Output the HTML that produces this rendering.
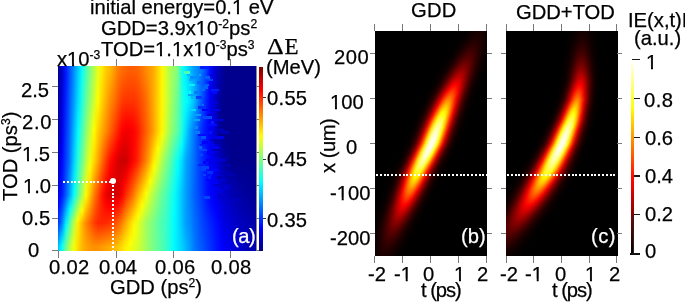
<!DOCTYPE html>
<html><head><meta charset="utf-8"><style>
html,body{margin:0;padding:0;background:#fff;width:685px;height:304px;overflow:hidden;}
#r{position:relative;width:685px;height:304px;overflow:hidden;background:#fff;font-family:'Liberation Sans',sans-serif;}
#r>div[id]{will-change:transform;-webkit-text-stroke:0.25px currentColor}
.p i{position:absolute;left:0;width:113px;height:1px}
.o{display:inline-block;clip-path:polygon(0 0,100% 0,100% 0.735em,0.345em 0.735em,0.345em 100%,0.247em 100%,0.247em 0.735em,0 0.735em)}
</style></head><body><div id="r"><div style="position:absolute;left:58px;top:66px;width:198px;height:185px;overflow:hidden"><div style="position:absolute;left:0;top:0px;width:198px;height:2px;background:linear-gradient(90deg,#00008c 0px,#0000c7 4px,#0019ff 8px,#0055ff 12px,#008fff 16px,#00c9ff 20px,#06fff9 24px,#48ffb7 28px,#7eff81 32px,#b3ff4c 36px,#e6ff19 40px,#ffec00 44px,#ffca00 48px,#ffb900 52px,#ff9c00 56px,#ff7c00 60px,#ff6c00 64px,#ff6200 68px,#ff5b00 72px,#ff5e00 76px,#ff6400 80px,#ff7400 84px,#ff8800 88px,#ff9900 92px,#ffaf00 96px,#ffd300 100px,#fff800 104px,#d9ff26 108px,#acff53 112px,#97ff68 116px,#78ff87 120px,#13ffec 124px,#00ecff 128px,#00c4ff 132px,#009dff 136px,#0087ff 140px,#006eff 144px,#0047ff 148px,#000aff 152px,#0000d9 156px,#0000b9 160px,#0000a1 164px,#00008c 168px,#00008c 172px,#00008c 176px,#00008c 180px,#00008c 184px,#00008c 188px,#00008c 192px,#00008c 196px,#00008c 198px)"></div><div style="position:absolute;left:0;top:2px;width:198px;height:2px;background:linear-gradient(90deg,#00008c 0px,#0000c7 4px,#0019ff 8px,#0055ff 12px,#008fff 16px,#00c9ff 20px,#06fff9 24px,#48ffb7 28px,#7eff81 32px,#b3ff4c 36px,#e6ff19 40px,#ffec00 44px,#ffca00 48px,#ffb900 52px,#ff9c00 56px,#ff7c00 60px,#ff6c00 64px,#ff6200 68px,#ff5b00 72px,#ff5e00 76px,#ff6400 80px,#ff7400 84px,#ff8800 88px,#ff9900 92px,#ffaf00 96px,#ffd300 100px,#fff800 104px,#d9ff26 108px,#acff53 112px,#97ff68 116px,#78ff87 120px,#13ffec 124px,#00ecff 128px,#00c4ff 132px,#009dff 136px,#0087ff 140px,#006eff 144px,#0047ff 148px,#000aff 152px,#0000d9 156px,#0000b9 160px,#0000a1 164px,#00008c 168px,#00008c 172px,#00008c 176px,#00008c 180px,#00008c 184px,#00008c 188px,#00008c 192px,#00008c 196px,#00008c 198px)"></div><div style="position:absolute;left:0;top:4px;width:198px;height:2px;background:linear-gradient(90deg,#00008c 0px,#0000c7 4px,#0019ff 8px,#0055ff 12px,#008fff 16px,#00c9ff 20px,#06fff9 24px,#48ffb7 28px,#7eff81 32px,#b3ff4c 36px,#e6ff19 40px,#ffec00 44px,#ffca00 48px,#ffb900 52px,#ff9c00 56px,#ff7c00 60px,#ff6c00 64px,#ff6200 68px,#ff5b00 72px,#ff5e00 76px,#ff6400 80px,#ff7400 84px,#ff8800 88px,#ff9900 92px,#ffaf00 96px,#ffd300 100px,#fff800 104px,#d9ff26 108px,#acff53 112px,#97ff68 116px,#78ff87 120px,#13ffec 124px,#00ecff 128px,#00c4ff 132px,#009dff 136px,#0087ff 140px,#006eff 144px,#0047ff 148px,#000aff 152px,#0000d9 156px,#0000b9 160px,#0000a1 164px,#00008c 168px,#00008c 172px,#00008c 176px,#00008c 180px,#00008c 184px,#00008c 188px,#00008c 192px,#00008c 196px,#00008c 198px)"></div><div style="position:absolute;left:0;top:6px;width:198px;height:2px;background:linear-gradient(90deg,#00008d 0px,#0000c9 4px,#0019ff 8px,#0056ff 12px,#0090ff 16px,#00cbff 20px,#08fff7 24px,#4affb5 28px,#7fff80 32px,#b4ff4b 36px,#e8ff17 40px,#ffea00 44px,#ffc800 48px,#ffb600 52px,#ff9900 56px,#ff7a00 60px,#ff6900 64px,#ff5f00 68px,#ff5800 72px,#ff5b00 76px,#ff6100 80px,#ff7200 84px,#ff8600 88px,#ff9800 92px,#ffaf00 96px,#ffd300 100px,#fff800 104px,#d9ff26 108px,#acff53 112px,#96ff69 116px,#77ff88 120px,#14ffeb 124px,#00eeff 128px,#00c6ff 132px,#00a0ff 136px,#0087ff 140px,#006cff 144px,#0045ff 148px,#0009ff 152px,#0000d8 156px,#0000b8 160px,#0000a0 164px,#00008c 168px,#00008c 172px,#00008c 176px,#00008c 180px,#00008c 184px,#00008c 188px,#00008c 192px,#00008c 196px,#00008c 198px)"></div><div style="position:absolute;left:0;top:8px;width:198px;height:2px;background:linear-gradient(90deg,#00008e 0px,#0000cb 4px,#001aff 8px,#0057ff 12px,#0091ff 16px,#00ccff 20px,#09fff6 24px,#4bffb4 28px,#81ff7e 32px,#b6ff49 36px,#eaff15 40px,#ffe800 44px,#ffc700 48px,#ffb300 52px,#ff9600 56px,#ff7700 60px,#ff6600 64px,#ff5c00 68px,#ff5600 72px,#ff5800 76px,#ff5f00 80px,#ff7000 84px,#ff8400 88px,#ff9700 92px,#ffaf00 96px,#ffd300 100px,#fff800 104px,#d9ff26 108px,#adff52 112px,#95ff6a 116px,#75ff8a 120px,#15ffea 124px,#00efff 128px,#00c8ff 132px,#00a2ff 136px,#0087ff 140px,#006aff 144px,#0042ff 148px,#0008ff 152px,#0000d8 156px,#0000b7 160px,#00009f 164px,#00008c 168px,#00008c 172px,#00008c 176px,#00008c 180px,#00008c 184px,#00008c 188px,#00008c 192px,#00008c 196px,#00008c 198px)"></div><div style="position:absolute;left:0;top:10px;width:198px;height:2px;background:linear-gradient(90deg,#00008f 0px,#0000cc 4px,#001bff 8px,#0058ff 12px,#0092ff 16px,#00cdff 20px,#0bfff4 24px,#4dffb2 28px,#83ff7c 32px,#b8ff47 36px,#ecff13 40px,#ffe700 44px,#ffc500 48px,#ffb000 52px,#ff9400 56px,#ff7500 60px,#ff6200 64px,#ff5800 68px,#ff5300 72px,#ff5500 76px,#ff5c00 80px,#ff6d00 84px,#ff8200 88px,#ff9600 92px,#ffaf00 96px,#ffd300 100px,#fff800 104px,#d9ff26 108px,#adff52 112px,#94ff6b 116px,#74ff8b 120px,#16ffe9 124px,#00f0ff 128px,#00cbff 132px,#00a4ff 136px,#0088ff 140px,#0068ff 144px,#0040ff 148px,#0007ff 152px,#0000d7 156px,#0000b6 160px,#00009e 164px,#00008c 168px,#00008c 172px,#00008c 176px,#00008c 180px,#00008c 184px,#00008c 188px,#00008c 192px,#00008c 196px,#00008c 198px)"></div><div style="position:absolute;left:0;top:12px;width:198px;height:2px;background:linear-gradient(90deg,#000090 0px,#0000ce 4px,#001cff 8px,#0058ff 12px,#0093ff 16px,#00cfff 20px,#0cfff3 24px,#4fffb0 28px,#85ff7a 32px,#b9ff46 36px,#edff12 40px,#ffe500 44px,#ffc300 48px,#ffad00 52px,#ff9100 56px,#ff7200 60px,#ff5f00 64px,#ff5500 68px,#ff5000 72px,#ff5200 76px,#ff5a00 80px,#ff6b00 84px,#ff8000 88px,#ff9600 92px,#ffaf00 96px,#ffd300 100px,#fff800 104px,#d9ff26 108px,#adff52 112px,#93ff6c 116px,#73ff8c 120px,#17ffe8 124px,#00f1ff 128px,#00cdff 132px,#00a7ff 136px,#0088ff 140px,#0067ff 144px,#003dff 148px,#0005ff 152px,#0000d7 156px,#0000b5 160px,#00009d 164px,#00008c 168px,#00008c 172px,#00008c 176px,#00008c 180px,#00008c 184px,#00008c 188px,#00008c 192px,#00008c 196px,#00008c 198px)"></div><div style="position:absolute;left:0;top:14px;width:198px;height:2px;background:linear-gradient(90deg,#000090 0px,#0000d0 4px,#001dff 8px,#0059ff 12px,#0093ff 16px,#00d0ff 20px,#0efff1 24px,#50ffaf 28px,#86ff79 32px,#bbff44 36px,#efff10 40px,#ffe300 44px,#ffc100 48px,#ffaa00 52px,#ff8f00 56px,#ff6f00 60px,#ff5c00 64px,#ff5200 68px,#ff4e00 72px,#ff4f00 76px,#ff5700 80px,#ff6900 84px,#ff7e00 88px,#ff9500 92px,#ffaf00 96px,#ffd300 100px,#fff800 104px,#d9ff26 108px,#adff52 112px,#92ff6d 116px,#72ff8d 120px,#18ffe7 124px,#00f3ff 128px,#00cfff 132px,#00a9ff 136px,#0088ff 140px,#0065ff 144px,#003bff 148px,#0004ff 152px,#0000d6 156px,#0000b4 160px,#00009c 164px,#00008c 168px,#00008c 172px,#00008c 176px,#00008c 180px,#00008c 184px,#00008c 188px,#00008c 192px,#00008c 196px,#00008c 198px)"></div><div style="position:absolute;left:0;top:16px;width:198px;height:2px;background:linear-gradient(90deg,#000091 0px,#0000d1 4px,#001eff 8px,#005aff 12px,#0094ff 16px,#00d1ff 20px,#0ffff0 24px,#52ffad 28px,#88ff77 32px,#bdff42 36px,#f1ff0e 40px,#ffe100 44px,#ffbf00 48px,#ffa700 52px,#ff8c00 56px,#ff6d00 60px,#ff5900 64px,#ff4f00 68px,#ff4b00 72px,#ff4d00 76px,#ff5500 80px,#ff6700 84px,#ff7c00 88px,#ff9400 92px,#ffaf00 96px,#ffd300 100px,#fff800 104px,#d9ff26 108px,#aeff51 112px,#91ff6e 116px,#71ff8e 120px,#19ffe6 124px,#00f4ff 128px,#00d1ff 132px,#00abff 136px,#0088ff 140px,#0063ff 144px,#0038ff 148px,#0003ff 152px,#0000d6 156px,#0000b3 160px,#00009b 164px,#00008c 168px,#00008c 172px,#00008c 176px,#00008c 180px,#00008c 184px,#00008c 188px,#00008c 192px,#00008c 196px,#00008c 198px)"></div><div style="position:absolute;left:0;top:18px;width:198px;height:2px;background:linear-gradient(90deg,#000092 0px,#0000d3 4px,#001fff 8px,#005bff 12px,#0095ff 16px,#00d3ff 20px,#11ffee 24px,#54ffab 28px,#8aff75 32px,#beff41 36px,#f2ff0d 40px,#ffe000 44px,#ffbe00 48px,#ffa400 52px,#ff8900 56px,#ff6a00 60px,#ff5600 64px,#ff4c00 68px,#ff4800 72px,#ff4a00 76px,#ff5200 80px,#ff6500 84px,#ff7a00 88px,#ff9300 92px,#ffaf00 96px,#ffd300 100px,#fff800 104px,#d9ff26 108px,#aeff51 112px,#90ff6f 116px,#6fff90 120px,#1affe5 124px,#00f5ff 128px,#00d4ff 132px,#00aeff 136px,#0088ff 140px,#0061ff 144px,#0036ff 148px,#0002ff 152px,#0000d5 156px,#0000b2 160px,#00009a 164px,#00008c 168px,#00008c 172px,#00008c 176px,#00008c 180px,#00008c 184px,#00008c 188px,#00008c 192px,#00008c 196px,#00008c 198px)"></div><div style="position:absolute;left:0;top:20px;width:198px;height:2px;background:linear-gradient(90deg,#000093 0px,#0000d5 4px,#001fff 8px,#005cff 12px,#0096ff 16px,#00d4ff 20px,#13ffec 24px,#56ffa9 28px,#8bff74 32px,#c0ff3f 36px,#f4ff0b 40px,#ffde00 44px,#ffbc00 48px,#ffa100 52px,#ff8700 56px,#ff6800 60px,#ff5300 64px,#ff4900 68px,#ff4600 72px,#ff4700 76px,#ff5000 80px,#ff6300 84px,#ff7800 88px,#ff9200 92px,#ffaf00 96px,#ffd300 100px,#fff800 104px,#d9ff26 108px,#aeff51 112px,#8fff70 116px,#6eff91 120px,#1cffe3 124px,#00f7ff 128px,#00d6ff 132px,#00b0ff 136px,#0089ff 140px,#0060ff 144px,#0033ff 148px,#0000ff 152px,#0000d5 156px,#0000b1 160px,#000099 164px,#00008c 168px,#00008c 172px,#00008c 176px,#00008c 180px,#00008c 184px,#00008c 188px,#00008c 192px,#00008c 196px,#00008c 198px)"></div><div style="position:absolute;left:0;top:22px;width:198px;height:2px;background:linear-gradient(90deg,#000094 0px,#0000d6 4px,#0020ff 8px,#005dff 12px,#0097ff 16px,#00d5ff 20px,#14ffeb 24px,#57ffa8 28px,#8dff72 32px,#c2ff3d 36px,#f6ff09 40px,#ffdc00 44px,#ffba00 48px,#ff9e00 52px,#ff8400 56px,#ff6500 60px,#ff4f00 64px,#ff4600 68px,#ff4300 72px,#ff4400 76px,#ff4d00 80px,#ff6000 84px,#ff7600 88px,#ff9100 92px,#ffaf00 96px,#ffd300 100px,#fff800 104px,#d9ff26 108px,#aeff51 112px,#8eff71 116px,#6dff92 120px,#1dffe2 124px,#00f8ff 128px,#00d8ff 132px,#00b2ff 136px,#0089ff 140px,#005eff 144px,#0031ff 148px,#0000fe 152px,#0000d4 156px,#0000b0 160px,#000098 164px,#00008c 168px,#00008c 172px,#00008c 176px,#00008c 180px,#00008c 184px,#00008c 188px,#00008c 192px,#00008c 196px,#00008c 198px)"></div><div style="position:absolute;left:0;top:24px;width:198px;height:2px;background:linear-gradient(90deg,#000095 0px,#0000d8 4px,#0021ff 8px,#005eff 12px,#0098ff 16px,#00d7ff 20px,#16ffe9 24px,#59ffa6 28px,#8fff70 32px,#c3ff3c 36px,#f7ff08 40px,#ffdb00 44px,#ffb800 48px,#ff9b00 52px,#ff8100 56px,#ff6300 60px,#ff4c00 64px,#ff4300 68px,#ff4000 72px,#ff4100 76px,#ff4b00 80px,#ff5e00 84px,#ff7400 88px,#ff9000 92px,#ffaf00 96px,#ffd300 100px,#fff800 104px,#d9ff26 108px,#aeff51 112px,#8dff72 116px,#6cff93 120px,#1effe1 124px,#00f9ff 128px,#00dbff 132px,#00b4ff 136px,#0089ff 140px,#005cff 144px,#002eff 148px,#0000fd 152px,#0000d4 156px,#0000af 160px,#000097 164px,#00008c 168px,#00008c 172px,#00008c 176px,#00008c 180px,#00008c 184px,#00008c 188px,#00008c 192px,#00008c 196px,#00008c 198px)"></div><div style="position:absolute;left:0;top:26px;width:198px;height:2px;background:linear-gradient(90deg,#000096 0px,#0000d9 4px,#0022ff 8px,#005eff 12px,#0099ff 16px,#00d8ff 20px,#17ffe8 24px,#5bffa4 28px,#90ff6f 32px,#c5ff3a 36px,#f9ff06 40px,#ffd900 44px,#ffb600 48px,#ff9800 52px,#ff7f00 56px,#ff6000 60px,#ff4900 64px,#ff3f00 68px,#ff3e00 72px,#ff3e00 76px,#ff4800 80px,#ff5c00 84px,#ff7200 88px,#ff9000 92px,#ffaf00 96px,#ffd300 100px,#fff800 104px,#d9ff26 108px,#afff50 112px,#8cff73 116px,#6bff94 120px,#1fffe0 124px,#00fbff 128px,#00ddff 132px,#00b7ff 136px,#0089ff 140px,#005aff 144px,#002cff 148px,#0000fc 152px,#0000d4 156px,#0000ae 160px,#000096 164px,#00008c 168px,#00008c 172px,#00008c 176px,#00008c 180px,#00008c 184px,#00008c 188px,#00008c 192px,#00008c 196px,#00008c 198px)"></div><div style="position:absolute;left:0;top:28px;width:198px;height:2px;background:linear-gradient(90deg,#000096 0px,#0000db 4px,#0023ff 8px,#005fff 12px,#009aff 16px,#00d9ff 20px,#19ffe6 24px,#5cffa3 28px,#92ff6d 32px,#c7ff38 36px,#fbff04 40px,#ffd700 44px,#ffb400 48px,#ff9500 52px,#ff7c00 56px,#ff5e00 60px,#ff4600 64px,#ff3c00 68px,#ff3b00 72px,#ff3c00 76px,#ff4600 80px,#ff5a00 84px,#ff7000 88px,#ff8f00 92px,#ffaf00 96px,#ffd300 100px,#fff800 104px,#d9ff26 108px,#afff50 112px,#8bff74 116px,#6aff95 120px,#20ffdf 124px,#00fcff 128px,#00dfff 132px,#00b9ff 136px,#0089ff 140px,#0059ff 144px,#0029ff 148px,#0000fa 152px,#0000d3 156px,#0000ad 160px,#000095 164px,#00008c 168px,#00008c 172px,#00008c 176px,#00008c 180px,#00008c 184px,#00008c 188px,#00008c 192px,#00008c 196px,#00008c 198px)"></div><div style="position:absolute;left:0;top:30px;width:198px;height:2px;background:linear-gradient(90deg,#000097 0px,#0000dd 4px,#0024ff 8px,#0060ff 12px,#009bff 16px,#00dbff 20px,#1affe5 24px,#5effa1 28px,#94ff6b 32px,#c9ff36 36px,#fdff02 40px,#ffd600 44px,#ffb300 48px,#ff9200 52px,#ff7900 56px,#ff5b00 60px,#ff4300 64px,#ff3900 68px,#ff3800 72px,#ff3900 76px,#ff4300 80px,#ff5800 84px,#ff6e00 88px,#ff8e00 92px,#ffaf00 96px,#ffd300 100px,#fff800 104px,#d9ff26 108px,#afff50 112px,#8aff75 116px,#68ff97 120px,#21ffde 124px,#00fdff 128px,#00e2ff 132px,#00bbff 136px,#0089ff 140px,#0057ff 144px,#0027ff 148px,#0000f9 152px,#0000d3 156px,#0000ac 160px,#000094 164px,#00008c 168px,#00008c 172px,#00008c 176px,#00008c 180px,#00008c 184px,#00008c 188px,#00008c 192px,#00008c 196px,#00008c 198px)"></div><div style="position:absolute;left:0;top:32px;width:198px;height:2px;background:linear-gradient(90deg,#000098 0px,#0000de 4px,#0025ff 8px,#0061ff 12px,#009cff 16px,#00dcff 20px,#1cffe3 24px,#60ff9f 28px,#96ff69 32px,#caff35 36px,#feff01 40px,#ffd400 44px,#ffb100 48px,#ff8f00 52px,#ff7700 56px,#ff5900 60px,#ff4000 64px,#ff3600 68px,#ff3600 72px,#ff3600 76px,#ff4100 80px,#ff5600 84px,#ff6c00 88px,#ff8d00 92px,#ffaf00 96px,#ffd300 100px,#fff800 104px,#d9ff26 108px,#afff50 112px,#89ff76 116px,#67ff98 120px,#22ffdd 124px,#00feff 128px,#00e4ff 132px,#00beff 136px,#008aff 140px,#0055ff 144px,#0024ff 148px,#0000f8 152px,#0000d2 156px,#0000ab 160px,#000094 164px,#00008c 168px,#00008c 172px,#00008c 176px,#00008c 180px,#00008c 184px,#00008c 188px,#00008c 192px,#00008c 196px,#00008c 198px)"></div><div style="position:absolute;left:0;top:34px;width:198px;height:2px;background:linear-gradient(90deg,#000099 0px,#0000e0 4px,#0025ff 8px,#0062ff 12px,#009dff 16px,#00ddff 20px,#1dffe2 24px,#61ff9e 28px,#97ff68 32px,#ccff33 36px,#fffe00 40px,#ffd200 44px,#ffaf00 48px,#ff8c00 52px,#ff7400 56px,#ff5600 60px,#ff3c00 64px,#ff3300 68px,#ff3300 72px,#ff3300 76px,#ff3e00 80px,#ff5300 84px,#ff6a00 88px,#ff8c00 92px,#ffaf00 96px,#ffd300 100px,#fff800 104px,#d9ff26 108px,#b0ff4f 112px,#88ff77 116px,#66ff99 120px,#23ffdc 124px,#01fffe 128px,#00e6ff 132px,#00c0ff 136px,#008aff 140px,#0053ff 144px,#0022ff 148px,#0000f7 152px,#0000d2 156px,#0000aa 160px,#000093 164px,#00008c 168px,#00008c 172px,#00008c 176px,#00008c 180px,#00008c 184px,#00008c 188px,#00008c 192px,#00008c 196px,#00008c 198px)"></div><div style="position:absolute;left:0;top:36px;width:198px;height:2px;background:linear-gradient(90deg,#000099 0px,#0000e1 4px,#0026ff 8px,#0063ff 12px,#009eff 16px,#00dfff 20px,#20ffdf 24px,#64ff9b 28px,#9aff65 32px,#cfff30 36px,#fffb00 40px,#ffd000 44px,#ffac00 48px,#ff8a00 52px,#ff7100 56px,#ff5200 60px,#ff3800 64px,#ff2f00 68px,#ff2f00 72px,#ff3000 76px,#ff3c00 80px,#ff5200 84px,#ff6900 88px,#ff8b00 92px,#ffae00 96px,#ffd300 100px,#fff800 104px,#d8ff27 108px,#afff50 112px,#87ff78 116px,#65ff9a 120px,#23ffdc 124px,#00fdff 128px,#00e2ff 132px,#00bbff 136px,#0086ff 140px,#0051ff 144px,#0021ff 148px,#0000f7 152px,#0000d3 156px,#0000aa 160px,#000092 164px,#00008c 168px,#00008c 172px,#00008c 176px,#00008c 180px,#00008c 184px,#00008c 188px,#00008c 192px,#00008c 196px,#00008c 198px)"></div><div style="position:absolute;left:0;top:38px;width:198px;height:2px;background:linear-gradient(90deg,#000099 0px,#0000e2 4px,#0027ff 8px,#0063ff 12px,#00a0ff 16px,#00e1ff 20px,#23ffdc 24px,#67ff98 28px,#9dff62 32px,#d3ff2c 36px,#fff800 40px,#ffcd00 44px,#ffaa00 48px,#ff8700 52px,#ff6d00 56px,#ff4f00 60px,#ff3400 64px,#ff2b00 68px,#ff2b00 72px,#ff2c00 76px,#ff3a00 80px,#ff5000 84px,#ff6900 88px,#ff8b00 92px,#ffae00 96px,#ffd300 100px,#fff800 104px,#d8ff27 108px,#adff52 112px,#86ff79 116px,#64ff9b 120px,#23ffdc 124px,#00fbff 128px,#00ddff 132px,#00b6ff 136px,#0082ff 140px,#004eff 144px,#001fff 148px,#0000f7 152px,#0000d4 156px,#0000aa 160px,#000092 164px,#00008c 168px,#00008c 172px,#00008c 176px,#00008c 180px,#00008c 184px,#00008c 188px,#00008c 192px,#00008c 196px,#00008c 198px)"></div><div style="position:absolute;left:0;top:40px;width:198px;height:2px;background:linear-gradient(90deg,#000099 0px,#0000e2 4px,#0028ff 8px,#0064ff 12px,#00a2ff 16px,#00e3ff 20px,#25ffda 24px,#69ff96 28px,#a0ff5f 32px,#d6ff29 36px,#fff500 40px,#ffcb00 44px,#ffa700 48px,#ff8500 52px,#ff6a00 56px,#ff4b00 60px,#ff3000 64px,#ff2600 68px,#ff2700 72px,#ff2900 76px,#ff3700 80px,#ff4f00 84px,#ff6800 88px,#ff8a00 92px,#ffad00 96px,#ffd300 100px,#fff800 104px,#d7ff28 108px,#acff53 112px,#85ff7a 116px,#63ff9c 120px,#22ffdd 124px,#00f8ff 128px,#00d9ff 132px,#00b2ff 136px,#007eff 140px,#004bff 144px,#001eff 148px,#0000f7 152px,#0000d5 156px,#0000aa 160px,#000091 164px,#00008c 168px,#00008c 172px,#00008c 176px,#00008c 180px,#00008c 184px,#00008c 188px,#00008c 192px,#00008c 196px,#00008c 198px)"></div><div style="position:absolute;left:0;top:42px;width:198px;height:2px;background:linear-gradient(90deg,#000099 0px,#0000e3 4px,#0029ff 8px,#0065ff 12px,#00a3ff 16px,#00e5ff 20px,#28ffd7 24px,#6cff93 28px,#a4ff5b 32px,#daff25 36px,#fff200 40px,#ffc800 44px,#ffa500 48px,#ff8200 52px,#ff6700 56px,#ff4700 60px,#ff2c00 64px,#ff2200 68px,#ff2300 72px,#ff2600 76px,#ff3500 80px,#ff4d00 84px,#ff6700 88px,#ff8900 92px,#ffad00 96px,#ffd300 100px,#fff800 104px,#d7ff28 108px,#abff54 112px,#85ff7a 116px,#62ff9d 120px,#22ffdd 124px,#00f5ff 128px,#00d4ff 132px,#00adff 136px,#007aff 140px,#0049ff 144px,#001dff 148px,#0000f7 152px,#0000d6 156px,#0000aa 160px,#000091 164px,#00008c 168px,#00008c 172px,#00008c 176px,#00008c 180px,#00008c 184px,#00008c 188px,#00008c 192px,#00008c 196px,#00008c 198px)"></div><div style="position:absolute;left:0;top:44px;width:198px;height:2px;background:linear-gradient(90deg,#000099 0px,#0000e4 4px,#002aff 8px,#0066ff 12px,#00a5ff 16px,#00e8ff 20px,#2affd5 24px,#6eff91 28px,#a7ff58 32px,#ddff22 36px,#ffef00 40px,#ffc500 44px,#ffa200 48px,#ff8000 52px,#ff6400 56px,#ff4400 60px,#ff2800 64px,#ff1e00 68px,#ff1f00 72px,#ff2300 76px,#ff3200 80px,#ff4b00 84px,#ff6600 88px,#ff8800 92px,#ffac00 96px,#ffd300 100px,#fff800 104px,#d7ff28 108px,#aaff55 112px,#84ff7b 116px,#61ff9e 120px,#21ffde 124px,#00f3ff 128px,#00d0ff 132px,#00a8ff 136px,#0076ff 140px,#0046ff 144px,#001cff 148px,#0000f7 152px,#0000d7 156px,#0000aa 160px,#000090 164px,#00008c 168px,#00008c 172px,#00008c 176px,#00008c 180px,#00008c 184px,#00008c 188px,#00008c 192px,#00008c 196px,#00008c 198px)"></div><div style="position:absolute;left:0;top:46px;width:198px;height:2px;background:linear-gradient(90deg,#000099 0px,#0000e5 4px,#002aff 8px,#0067ff 12px,#00a7ff 16px,#00eaff 20px,#2dffd2 24px,#71ff8e 28px,#aaff55 32px,#e0ff1f 36px,#ffec00 40px,#ffc300 44px,#ffa000 48px,#ff7d00 52px,#ff6000 56px,#ff4000 60px,#ff2400 64px,#ff1a00 68px,#ff1b00 72px,#ff1f00 76px,#ff3000 80px,#ff4a00 84px,#ff6500 88px,#ff8700 92px,#ffac00 96px,#ffd300 100px,#fff800 104px,#d6ff29 108px,#a9ff56 112px,#83ff7c 116px,#61ff9e 120px,#21ffde 124px,#00f0ff 128px,#00cbff 132px,#00a3ff 136px,#0072ff 140px,#0043ff 144px,#001bff 148px,#0000f7 152px,#0000d9 156px,#0000aa 160px,#000090 164px,#00008c 168px,#00008c 172px,#00008c 176px,#00008c 180px,#00008c 184px,#00008c 188px,#00008c 192px,#00008c 196px,#00008c 198px)"></div><div style="position:absolute;left:0;top:48px;width:198px;height:2px;background:linear-gradient(90deg,#000099 0px,#0000e6 4px,#002bff 8px,#0068ff 12px,#00a8ff 16px,#00ecff 20px,#2fffd0 24px,#73ff8c 28px,#adff52 32px,#e4ff1b 36px,#ffe800 40px,#ffc000 44px,#ff9d00 48px,#ff7a00 52px,#ff5d00 56px,#ff3d00 60px,#ff2000 64px,#ff1500 68px,#ff1700 72px,#ff1c00 76px,#ff2d00 80px,#ff4800 84px,#ff6400 88px,#ff8600 92px,#ffab00 96px,#ffd300 100px,#fff800 104px,#d6ff29 108px,#a8ff57 112px,#82ff7d 116px,#60ff9f 120px,#20ffdf 124px,#00eeff 128px,#00c7ff 132px,#009eff 136px,#006eff 140px,#0041ff 144px,#0019ff 148px,#0000f7 152px,#0000da 156px,#0000aa 160px,#000090 164px,#00008c 168px,#00008c 172px,#00008c 176px,#00008c 180px,#00008c 184px,#00008c 188px,#00008c 192px,#00008c 196px,#00008c 198px)"></div><div style="position:absolute;left:0;top:50px;width:198px;height:2px;background:linear-gradient(90deg,#000099 0px,#0000e6 4px,#002cff 8px,#0069ff 12px,#00aaff 16px,#00eeff 20px,#32ffcd 24px,#76ff89 28px,#b0ff4f 32px,#e7ff18 36px,#ffe500 40px,#ffbe00 44px,#ff9b00 48px,#ff7800 52px,#ff5a00 56px,#ff3900 60px,#ff1c00 64px,#ff1100 68px,#ff1200 72px,#ff1900 76px,#ff2b00 80px,#ff4700 84px,#ff6300 88px,#ff8500 92px,#ffaa00 96px,#ffd300 100px,#fff800 104px,#d5ff2a 108px,#a7ff58 112px,#81ff7e 116px,#5fffa0 120px,#20ffdf 124px,#00ebff 128px,#00c2ff 132px,#009aff 136px,#006aff 140px,#003eff 144px,#0018ff 148px,#0000f7 152px,#0000db 156px,#0000aa 160px,#00008f 164px,#00008c 168px,#00008c 172px,#00008c 176px,#00008c 180px,#00008c 184px,#00008c 188px,#00008c 192px,#00008c 196px,#00008c 198px)"></div><div style="position:absolute;left:0;top:52px;width:198px;height:2px;background:linear-gradient(90deg,#000099 0px,#0000e7 4px,#002dff 8px,#0069ff 12px,#00acff 16px,#00f0ff 20px,#34ffcb 24px,#78ff87 28px,#b3ff4c 32px,#ebff14 36px,#ffe200 40px,#ffbb00 44px,#ff9800 48px,#ff7500 52px,#ff5600 56px,#ff3500 60px,#ff1800 64px,#ff0d00 68px,#ff0e00 72px,#ff1500 76px,#ff2800 80px,#ff4500 84px,#ff6300 88px,#ff8500 92px,#ffaa00 96px,#ffd300 100px,#fff800 104px,#d5ff2a 108px,#a6ff59 112px,#80ff7f 116px,#5effa1 120px,#20ffdf 124px,#00e9ff 128px,#00beff 132px,#0095ff 136px,#0066ff 140px,#003cff 144px,#0017ff 148px,#0000f7 152px,#0000dc 156px,#0000aa 160px,#00008f 164px,#00008c 168px,#00008c 172px,#00008c 176px,#00008c 180px,#00008c 184px,#00008c 188px,#00008c 192px,#00008c 196px,#00008c 198px)"></div><div style="position:absolute;left:0;top:54px;width:198px;height:2px;background:linear-gradient(90deg,#000099 0px,#0000e8 4px,#002eff 8px,#006aff 12px,#00aeff 16px,#00f2ff 20px,#37ffc8 24px,#7bff84 28px,#b6ff49 32px,#eeff11 36px,#ffdf00 40px,#ffb900 44px,#ff9500 48px,#ff7300 52px,#ff5300 56px,#ff3200 60px,#ff1400 64px,#ff0900 68px,#ff0a00 72px,#ff1200 76px,#ff2600 80px,#ff4300 84px,#ff6200 88px,#ff8400 92px,#ffa900 96px,#ffd300 100px,#fff800 104px,#d5ff2a 108px,#a5ff5a 112px,#80ff80 116px,#5dffa2 120px,#1fffe0 124px,#00e6ff 128px,#00b9ff 132px,#0090ff 136px,#0063ff 140px,#0039ff 144px,#0016ff 148px,#0000f7 152px,#0000dd 156px,#0000aa 160px,#00008e 164px,#00008c 168px,#00008c 172px,#00008c 176px,#00008c 180px,#00008c 184px,#00008c 188px,#00008c 192px,#00008c 196px,#00008c 198px)"></div><div style="position:absolute;left:0;top:56px;width:198px;height:2px;background:linear-gradient(90deg,#000099 0px,#0000e9 4px,#002fff 8px,#006bff 12px,#00afff 16px,#00f4ff 20px,#3affc5 24px,#7dff82 28px,#b9ff46 32px,#f1ff0e 36px,#ffdc00 40px,#ffb600 44px,#ff9300 48px,#ff7000 52px,#ff5000 56px,#ff2e00 60px,#ff1000 64px,#ff0400 68px,#ff0600 72px,#ff0f00 76px,#ff2300 80px,#ff4200 84px,#ff6100 88px,#ff8300 92px,#ffa900 96px,#ffd300 100px,#fff800 104px,#d4ff2b 108px,#a4ff5b 112px,#7fff80 116px,#5cffa3 120px,#1fffe0 124px,#00e3ff 128px,#00b5ff 132px,#008bff 136px,#005fff 140px,#0036ff 144px,#0015ff 148px,#0000f7 152px,#0000de 156px,#0000aa 160px,#00008e 164px,#00008c 168px,#00008c 172px,#00008c 176px,#00008c 180px,#00008c 184px,#00008c 188px,#00008c 192px,#00008c 196px,#00008c 198px)"></div><div style="position:absolute;left:0;top:58px;width:198px;height:2px;background:linear-gradient(90deg,#000099 0px,#0000ea 4px,#0030ff 8px,#006cff 12px,#00b1ff 16px,#00f6ff 20px,#3cffc3 24px,#80ff7f 28px,#bcff43 32px,#f5ff0a 36px,#ffd900 40px,#ffb400 44px,#ff9000 48px,#ff6e00 52px,#ff4c00 56px,#ff2b00 60px,#ff0b00 64px,#ff0000 68px,#ff0200 72px,#ff0c00 76px,#ff2100 80px,#ff4000 84px,#ff6000 88px,#ff8200 92px,#ffa800 96px,#ffd300 100px,#fff800 104px,#d4ff2b 108px,#a3ff5c 112px,#7eff81 116px,#5bffa4 120px,#1effe1 124px,#00e1ff 128px,#00b1ff 132px,#0086ff 136px,#005bff 140px,#0034ff 144px,#0013ff 148px,#0000f7 152px,#0000df 156px,#0000aa 160px,#00008e 164px,#00008c 168px,#00008c 172px,#00008c 176px,#00008c 180px,#00008c 184px,#00008c 188px,#00008c 192px,#00008c 196px,#00008c 198px)"></div><div style="position:absolute;left:0;top:60px;width:198px;height:2px;background:linear-gradient(90deg,#000099 0px,#0000ea 4px,#0030ff 8px,#006dff 12px,#00b3ff 16px,#00f8ff 20px,#3fffc0 24px,#83ff7c 28px,#bfff40 32px,#f8ff07 36px,#ffd600 40px,#ffb100 44px,#ff8e00 48px,#ff6b00 52px,#ff4900 56px,#ff2700 60px,#ff0700 64px,#fb0000 68px,#fd0000 72px,#ff0800 76px,#ff1e00 80px,#ff3f00 84px,#ff5f00 88px,#ff8100 92px,#ffa800 96px,#ffd300 100px,#fff800 104px,#d3ff2c 108px,#a2ff5d 112px,#7dff82 116px,#5affa5 120px,#1effe1 124px,#00deff 128px,#00acff 132px,#0082ff 136px,#0057ff 140px,#0031ff 144px,#0012ff 148px,#0000f7 152px,#0000e1 156px,#0000aa 160px,#00008d 164px,#00008c 168px,#00008c 172px,#00008c 176px,#00008c 180px,#00008c 184px,#00008c 188px,#00008c 192px,#00008c 196px,#00008c 198px)"></div><div style="position:absolute;left:0;top:62px;width:198px;height:2px;background:linear-gradient(90deg,#000099 0px,#0000eb 4px,#0031ff 8px,#006eff 12px,#00b4ff 16px,#00faff 20px,#41ffbe 24px,#85ff7a 28px,#c2ff3d 32px,#fcff03 36px,#ffd300 40px,#ffae00 44px,#ff8b00 48px,#ff6900 52px,#ff4600 56px,#ff2300 60px,#ff0300 64px,#f70000 68px,#f90000 72px,#ff0500 76px,#ff1c00 80px,#ff3d00 84px,#ff5e00 88px,#ff8000 92px,#ffa700 96px,#ffd300 100px,#fff800 104px,#d3ff2c 108px,#a0ff5f 112px,#7cff83 116px,#59ffa6 120px,#1dffe2 124px,#00dcff 128px,#00a8ff 132px,#007dff 136px,#0053ff 140px,#002eff 144px,#0011ff 148px,#0000f7 152px,#0000e2 156px,#0000aa 160px,#00008d 164px,#00008c 168px,#00008c 172px,#00008c 176px,#00008c 180px,#00008c 184px,#00008c 188px,#00008c 192px,#00008c 196px,#00008c 198px)"></div><div style="position:absolute;left:0;top:64px;width:198px;height:2px;background:linear-gradient(90deg,#000099 0px,#0000ec 4px,#0032ff 8px,#006eff 12px,#00b6ff 16px,#00fcff 20px,#44ffbb 24px,#88ff77 28px,#c5ff3a 32px,#ffff00 36px,#ffd000 40px,#ffac00 44px,#ff8900 48px,#ff6600 52px,#ff4200 56px,#ff2000 60px,#fe0000 64px,#f20000 68px,#f50000 72px,#ff0200 76px,#ff1a00 80px,#ff3c00 84px,#ff5e00 88px,#ff8000 92px,#ffa700 96px,#ffd300 100px,#fff800 104px,#d2ff2d 108px,#9fff60 112px,#7bff84 116px,#58ffa7 120px,#1dffe2 124px,#00d9ff 128px,#00a3ff 132px,#0078ff 136px,#004fff 140px,#002cff 144px,#0010ff 148px,#0000f7 152px,#0000e3 156px,#0000aa 160px,#00008c 164px,#00008c 168px,#00008c 172px,#00008c 176px,#00008c 180px,#00008c 184px,#00008c 188px,#00008c 192px,#00008c 196px,#00008c 198px)"></div><div style="position:absolute;left:0;top:66px;width:198px;height:2px;background:linear-gradient(90deg,#00009b 0px,#0000ee 4px,#0033ff 8px,#006fff 12px,#00b8ff 16px,#00ffff 20px,#46ffb9 24px,#8aff75 28px,#c8ff37 32px,#fffc00 36px,#ffcd00 40px,#ffa800 44px,#ff8400 48px,#ff6000 52px,#ff3d00 56px,#ff1b00 60px,#fb0000 64px,#f00000 68px,#f40000 72px,#ff0200 76px,#ff1a00 80px,#ff3d00 84px,#ff6000 88px,#ff8300 92px,#ffab00 96px,#ffd700 100px,#fffd00 104px,#cdff32 108px,#9bff64 112px,#76ff89 116px,#53ffac 120px,#19ffe6 124px,#00d6ff 128px,#00a2ff 132px,#0077ff 136px,#004fff 140px,#002cff 144px,#0010ff 148px,#0000f8 152px,#0000e3 156px,#0000ad 160px,#00008f 164px,#00008d 168px,#00008c 172px,#00008c 176px,#00008c 180px,#00008c 184px,#00008c 188px,#00008c 192px,#00008c 196px,#00008c 198px)"></div><div style="position:absolute;left:0;top:68px;width:198px;height:2px;background:linear-gradient(90deg,#00009c 0px,#0000ef 4px,#0034ff 8px,#0070ff 12px,#00baff 16px,#02fffd 20px,#49ffb6 24px,#8dff72 28px,#cbff34 32px,#fffa00 36px,#ffca00 40px,#ffa400 44px,#ff7e00 48px,#ff5a00 52px,#ff3800 56px,#ff1600 60px,#f80000 64px,#ed0000 68px,#f40000 72px,#ff0300 76px,#ff1b00 80px,#ff3f00 84px,#ff6200 88px,#ff8600 92px,#ffb000 96px,#ffdc00 100px,#fbff04 104px,#c8ff37 108px,#97ff68 112px,#71ff8e 116px,#4dffb2 120px,#14ffeb 124px,#00d2ff 128px,#00a0ff 132px,#0077ff 136px,#004eff 140px,#002cff 144px,#0010ff 148px,#0000f8 152px,#0000e4 156px,#0000b0 160px,#000091 164px,#00008e 168px,#00008c 172px,#00008c 176px,#00008c 180px,#00008c 184px,#00008c 188px,#00008c 192px,#00008c 196px,#00008c 198px)"></div><div style="position:absolute;left:0;top:70px;width:198px;height:2px;background:linear-gradient(90deg,#00009e 0px,#0000f1 4px,#0035ff 8px,#0071ff 12px,#00bbff 16px,#05fffa 20px,#4bffb4 24px,#90ff6f 28px,#ceff31 32px,#fff700 36px,#ffc700 40px,#ffa000 44px,#ff7900 48px,#ff5400 52px,#ff3300 56px,#ff1100 60px,#f40000 64px,#eb0000 68px,#f30000 72px,#ff0300 76px,#ff1c00 80px,#ff4100 84px,#ff6400 88px,#ff8a00 92px,#ffb500 96px,#ffe100 100px,#f5ff0a 104px,#c3ff3c 108px,#92ff6d 112px,#6cff93 116px,#48ffb7 120px,#10ffef 124px,#00cfff 128px,#009fff 132px,#0076ff 136px,#004eff 140px,#002cff 144px,#0010ff 148px,#0000f8 152px,#0000e4 156px,#0000b3 160px,#000094 164px,#00008f 168px,#00008c 172px,#00008c 176px,#00008c 180px,#00008c 184px,#00008c 188px,#00008c 192px,#00008c 196px,#00008c 198px)"></div><div style="position:absolute;left:0;top:72px;width:198px;height:2px;background:linear-gradient(90deg,#0000a0 0px,#0000f3 4px,#0036ff 8px,#0072ff 12px,#00bdff 16px,#08fff7 20px,#4effb1 24px,#93ff6c 28px,#d1ff2e 32px,#fff500 36px,#ffc400 40px,#ff9c00 44px,#ff7400 48px,#ff4e00 52px,#ff2e00 56px,#ff0c00 60px,#f10000 64px,#e80000 68px,#f20000 72px,#ff0300 76px,#ff1d00 80px,#ff4200 84px,#ff6700 88px,#ff8d00 92px,#ffba00 96px,#ffe600 100px,#efff10 104px,#beff41 108px,#8eff71 112px,#67ff98 116px,#42ffbd 120px,#0cfff3 124px,#00cbff 128px,#009dff 132px,#0075ff 136px,#004eff 140px,#002cff 144px,#0011ff 148px,#0000f8 152px,#0000e5 156px,#0000b6 160px,#000097 164px,#000090 168px,#00008c 172px,#00008c 176px,#00008c 180px,#00008c 184px,#00008c 188px,#00008c 192px,#00008c 196px,#00008c 198px)"></div><div style="position:absolute;left:0;top:74px;width:198px;height:2px;background:linear-gradient(90deg,#0000a2 0px,#0000f4 4px,#0036ff 8px,#0073ff 12px,#00bfff 16px,#0afff5 20px,#50ffaf 24px,#95ff6a 28px,#d4ff2b 32px,#fff200 36px,#ffc100 40px,#ff9800 44px,#ff6f00 48px,#ff4800 52px,#ff2900 56px,#ff0700 60px,#ed0000 64px,#e50000 68px,#f20000 72px,#ff0400 76px,#ff1e00 80px,#ff4400 84px,#ff6900 88px,#ff9100 92px,#ffbf00 96px,#ffeb00 100px,#e9ff16 104px,#b9ff46 108px,#89ff76 112px,#62ff9d 116px,#3dffc2 120px,#07fff8 124px,#00c8ff 128px,#009cff 132px,#0074ff 136px,#004dff 140px,#002cff 144px,#0011ff 148px,#0000f8 152px,#0000e5 156px,#0000b9 160px,#000099 164px,#000090 168px,#00008c 172px,#00008c 176px,#00008c 180px,#00008c 184px,#00008c 188px,#00008c 192px,#00008c 196px,#00008c 198px)"></div><div style="position:absolute;left:0;top:76px;width:198px;height:2px;background:linear-gradient(90deg,#0000a3 0px,#0000f6 4px,#0037ff 8px,#0074ff 12px,#00c1ff 16px,#0dfff2 20px,#53ffac 24px,#98ff67 28px,#d7ff28 32px,#fff000 36px,#ffbf00 40px,#ff9400 44px,#ff6900 48px,#ff4200 52px,#ff2300 56px,#ff0200 60px,#ea0000 64px,#e30000 68px,#f10000 72px,#ff0400 76px,#ff1f00 80px,#ff4600 84px,#ff6b00 88px,#ff9400 92px,#ffc300 96px,#fff000 100px,#e3ff1c 104px,#b4ff4b 108px,#85ff7a 112px,#5dffa2 116px,#37ffc8 120px,#03fffc 124px,#00c4ff 128px,#009aff 132px,#0074ff 136px,#004dff 140px,#002cff 144px,#0011ff 148px,#0000f8 152px,#0000e6 156px,#0000bc 160px,#00009c 164px,#000091 168px,#00008c 172px,#00008c 176px,#00008c 180px,#00008c 184px,#00008c 188px,#00008c 192px,#00008c 196px,#00008c 198px)"></div><div style="position:absolute;left:0;top:78px;width:198px;height:2px;background:linear-gradient(90deg,#0000a5 0px,#0000f8 4px,#0038ff 8px,#0074ff 12px,#00c2ff 16px,#0ffff0 20px,#56ffa9 24px,#9bff64 28px,#daff25 32px,#ffed00 36px,#ffbc00 40px,#ff9000 44px,#ff6400 48px,#ff3c00 52px,#ff1e00 56px,#fd0000 60px,#e70000 64px,#e00000 68px,#f00000 72px,#ff0400 76px,#ff1f00 80px,#ff4700 84px,#ff6d00 88px,#ff9700 92px,#ffc800 96px,#fff500 100px,#deff21 104px,#afff50 108px,#81ff7e 112px,#58ffa7 116px,#31ffce 120px,#00fdff 124px,#00c1ff 128px,#0098ff 132px,#0073ff 136px,#004dff 140px,#002dff 144px,#0011ff 148px,#0000f9 152px,#0000e6 156px,#0000be 160px,#00009f 164px,#000092 168px,#00008c 172px,#00008c 176px,#00008c 180px,#00008c 184px,#00008c 188px,#00008c 192px,#00008c 196px,#00008c 198px)"></div><div style="position:absolute;left:0;top:80px;width:198px;height:2px;background:linear-gradient(90deg,#0000a7 0px,#0000f9 4px,#0039ff 8px,#0075ff 12px,#00c4ff 16px,#12ffed 20px,#58ffa7 24px,#9eff61 28px,#dcff23 32px,#ffeb00 36px,#ffb900 40px,#ff8c00 44px,#ff5f00 48px,#ff3600 52px,#ff1900 56px,#f80000 60px,#e30000 64px,#de0000 68px,#f00000 72px,#ff0500 76px,#ff2000 80px,#ff4900 84px,#ff7000 88px,#ff9b00 92px,#ffcd00 96px,#fffa00 100px,#d8ff27 104px,#aaff55 108px,#7cff83 112px,#52ffad 116px,#2cffd3 120px,#00f9ff 124px,#00bdff 128px,#0097ff 132px,#0072ff 136px,#004dff 140px,#002dff 144px,#0012ff 148px,#0000f9 152px,#0000e6 156px,#0000c1 160px,#0000a1 164px,#000093 168px,#00008c 172px,#00008c 176px,#00008c 180px,#00008c 184px,#00008c 188px,#00008c 192px,#00008c 196px,#00008c 198px)"></div><div style="position:absolute;left:0;top:82px;width:198px;height:2px;background:linear-gradient(90deg,#0000a8 0px,#0000fb 4px,#003aff 8px,#0076ff 12px,#00c6ff 16px,#14ffeb 20px,#5bffa4 24px,#a0ff5f 28px,#dfff20 32px,#ffe800 36px,#ffb600 40px,#ff8800 44px,#ff5a00 48px,#ff3000 52px,#ff1400 56px,#f30000 60px,#e00000 64px,#db0000 68px,#ef0000 72px,#ff0500 76px,#ff2100 80px,#ff4b00 84px,#ff7200 88px,#ff9e00 92px,#ffd200 96px,#ffff00 100px,#d2ff2d 104px,#a4ff5b 108px,#78ff87 112px,#4dffb2 116px,#26ffd9 120px,#00f5ff 124px,#00baff 128px,#0095ff 132px,#0071ff 136px,#004cff 140px,#002dff 144px,#0012ff 148px,#0000f9 152px,#0000e7 156px,#0000c4 160px,#0000a4 164px,#000094 168px,#00008c 172px,#00008c 176px,#00008c 180px,#00008c 184px,#00008c 188px,#00008c 192px,#00008c 196px,#00008c 198px)"></div><div style="position:absolute;left:0;top:84px;width:198px;height:2px;background:linear-gradient(90deg,#0000aa 0px,#0000fd 4px,#003bff 8px,#0077ff 12px,#00c8ff 16px,#17ffe8 20px,#5dffa2 24px,#a3ff5c 28px,#e2ff1d 32px,#ffe500 36px,#ffb300 40px,#ff8300 44px,#ff5500 48px,#ff2a00 52px,#ff0f00 56px,#ee0000 60px,#dd0000 64px,#d90000 68px,#ee0000 72px,#ff0600 76px,#ff2200 80px,#ff4c00 84px,#ff7400 88px,#ffa200 92px,#ffd700 96px,#faff05 100px,#ccff33 104px,#9fff60 108px,#73ff8c 112px,#48ffb7 116px,#21ffde 120px,#00f0ff 124px,#00b6ff 128px,#0094ff 132px,#0071ff 136px,#004cff 140px,#002dff 144px,#0012ff 148px,#0000f9 152px,#0000e7 156px,#0000c7 160px,#0000a6 164px,#000095 168px,#00008c 172px,#00008c 176px,#00008c 180px,#00008c 184px,#00008c 188px,#00008c 192px,#00008c 196px,#00008c 198px)"></div><div style="position:absolute;left:0;top:86px;width:198px;height:2px;background:linear-gradient(90deg,#0000ac 0px,#0000ff 4px,#003bff 8px,#0078ff 12px,#00c9ff 16px,#19ffe6 20px,#60ff9f 24px,#a6ff59 28px,#e5ff1a 32px,#ffe300 36px,#ffb000 40px,#ff7f00 44px,#ff4f00 48px,#ff2500 52px,#ff0900 56px,#e90000 60px,#d90000 64px,#d60000 68px,#ed0000 72px,#ff0600 76px,#ff2300 80px,#ff4e00 84px,#ff7600 88px,#ffa500 92px,#ffdb00 96px,#f6ff09 100px,#c6ff39 104px,#9aff65 108px,#6fff90 112px,#43ffbc 116px,#1bffe4 120px,#00ecff 124px,#00b3ff 128px,#0092ff 132px,#0070ff 136px,#004cff 140px,#002dff 144px,#0012ff 148px,#0000f9 152px,#0000e8 156px,#0000ca 160px,#0000a9 164px,#000096 168px,#00008c 172px,#00008c 176px,#00008c 180px,#00008c 184px,#00008c 188px,#00008c 192px,#00008c 196px,#00008c 198px)"></div><div style="position:absolute;left:0;top:88px;width:198px;height:2px;background:linear-gradient(90deg,#0000ad 0px,#0001ff 4px,#003cff 8px,#0079ff 12px,#00cbff 16px,#1cffe3 20px,#62ff9d 24px,#a8ff57 28px,#e8ff17 32px,#ffe000 36px,#ffad00 40px,#ff7b00 44px,#ff4a00 48px,#ff1f00 52px,#ff0400 56px,#e40000 60px,#d60000 64px,#d40000 68px,#ed0000 72px,#ff0600 76px,#ff2400 80px,#ff5000 84px,#ff7900 88px,#ffa800 92px,#ffe000 96px,#f1ff0e 100px,#c0ff3f 104px,#95ff6a 108px,#6bff94 112px,#3effc1 116px,#16ffe9 120px,#00e8ff 124px,#00afff 128px,#0091ff 132px,#006fff 136px,#004bff 140px,#002dff 144px,#0013ff 148px,#0000f9 152px,#0000e8 156px,#0000cd 160px,#0000ac 164px,#000096 168px,#00008c 172px,#00008c 176px,#00008c 180px,#00008c 184px,#00008c 188px,#00008c 192px,#00008c 196px,#00008c 198px)"></div><div style="position:absolute;left:0;top:90px;width:198px;height:2px;background:linear-gradient(90deg,#0000af 0px,#0003ff 4px,#003dff 8px,#007aff 12px,#00cdff 16px,#1fffe0 20px,#65ff9a 24px,#abff54 28px,#ebff14 32px,#ffde00 36px,#ffab00 40px,#ff7700 44px,#ff4500 48px,#ff1900 52px,#fe0000 56px,#df0000 60px,#d30000 64px,#d10000 68px,#ec0000 72px,#ff0700 76px,#ff2500 80px,#ff5200 84px,#ff7b00 88px,#ffac00 92px,#ffe500 96px,#ecff13 100px,#bbff44 104px,#90ff6f 108px,#66ff99 112px,#39ffc6 116px,#10ffef 120px,#00e3ff 124px,#00acff 128px,#008fff 132px,#006fff 136px,#004bff 140px,#002dff 144px,#0013ff 148px,#0000fa 152px,#0000e9 156px,#0000d0 160px,#0000ae 164px,#000097 168px,#00008c 172px,#00008c 176px,#00008c 180px,#00008c 184px,#00008c 188px,#00008c 192px,#00008c 196px,#00008c 198px)"></div><div style="position:absolute;left:0;top:92px;width:198px;height:2px;background:linear-gradient(90deg,#0000b1 0px,#0005ff 4px,#003eff 8px,#007aff 12px,#00cfff 16px,#21ffde 20px,#67ff98 24px,#aeff51 28px,#eeff11 32px,#ffdb00 36px,#ffa800 40px,#ff7300 44px,#ff4000 48px,#ff1300 52px,#f90000 56px,#da0000 60px,#cf0000 64px,#cf0000 68px,#eb0000 72px,#ff0700 76px,#ff2500 80px,#ff5300 84px,#ff7d00 88px,#ffaf00 92px,#ffea00 96px,#e7ff18 100px,#b5ff4a 104px,#8bff74 108px,#62ff9d 112px,#34ffcb 116px,#0bfff4 120px,#00dfff 124px,#00a8ff 128px,#008eff 132px,#006eff 136px,#004bff 140px,#002dff 144px,#0013ff 148px,#0000fa 152px,#0000e9 156px,#0000d3 160px,#0000b1 164px,#000098 168px,#00008c 172px,#00008c 176px,#00008c 180px,#00008c 184px,#00008c 188px,#00008c 192px,#00008c 196px,#00008c 198px)"></div><div style="position:absolute;left:0;top:94px;width:198px;height:2px;background:linear-gradient(90deg,#0000b2 0px,#0006ff 4px,#003fff 8px,#007bff 12px,#00d0ff 16px,#24ffdb 20px,#6aff95 24px,#b1ff4e 28px,#f0ff0f 32px,#ffd900 36px,#ffa500 40px,#ff6f00 44px,#ff3a00 48px,#ff0d00 52px,#f40000 56px,#d50000 60px,#cc0000 64px,#cc0000 68px,#eb0000 72px,#ff0700 76px,#ff2600 80px,#ff5500 84px,#ff8000 88px,#ffb300 92px,#ffef00 96px,#e2ff1d 100px,#afff50 104px,#86ff79 108px,#5effa2 112px,#2fffd0 116px,#05fffa 120px,#00dbff 124px,#00a5ff 128px,#008cff 132px,#006dff 136px,#004aff 140px,#002dff 144px,#0013ff 148px,#0000fa 152px,#0000ea 156px,#0000d6 160px,#0000b4 164px,#000099 168px,#00008c 172px,#00008c 176px,#00008c 180px,#00008c 184px,#00008c 188px,#00008c 192px,#00008c 196px,#00008c 198px)"></div><div style="position:absolute;left:0;top:96px;width:198px;height:2px;background:linear-gradient(90deg,#0000b6 0px,#0007ff 4px,#0041ff 8px,#007eff 12px,#00d3ff 16px,#27ffd8 20px,#6eff91 24px,#b5ff4a 28px,#f5ff0a 32px,#ffd400 36px,#ffa000 40px,#ff6a00 44px,#ff3600 48px,#ff0a00 52px,#f20000 56px,#d60000 60px,#cf0000 64px,#d20000 68px,#f10000 72px,#ff0e00 76px,#ff2e00 80px,#ff5d00 84px,#ff8700 88px,#ffba00 92px,#fff500 96px,#ddff22 100px,#abff54 104px,#82ff7d 108px,#5bffa4 112px,#2dffd2 116px,#03fffc 120px,#00d9ff 124px,#00a4ff 128px,#008cff 132px,#006dff 136px,#004bff 140px,#002eff 144px,#0014ff 148px,#0000fa 152px,#0000ea 156px,#0000d6 160px,#0000b5 164px,#00009c 168px,#00008f 172px,#00008e 176px,#00008e 180px,#00008d 184px,#00008d 188px,#00008d 192px,#00008d 196px,#00008d 198px)"></div><div style="position:absolute;left:0;top:98px;width:198px;height:2px;background:linear-gradient(90deg,#0000b8 0px,#0008ff 4px,#0042ff 8px,#0081ff 12px,#00d6ff 16px,#2affd5 20px,#71ff8e 24px,#baff45 28px,#f9ff06 32px,#ffce00 36px,#ff9a00 40px,#ff6500 44px,#ff3200 48px,#ff0700 52px,#ef0000 56px,#d60000 60px,#d10000 64px,#d70000 68px,#f70000 72px,#ff1500 76px,#ff3700 80px,#ff6400 84px,#ff8f00 88px,#ffc200 92px,#fffb00 96px,#d7ff28 100px,#a6ff59 104px,#7fff80 108px,#58ffa7 112px,#2affd5 116px,#01fffe 120px,#00d8ff 124px,#00a4ff 128px,#008bff 132px,#006cff 136px,#004bff 140px,#002eff 144px,#0014ff 148px,#0000fb 152px,#0000eb 156px,#0000d7 160px,#0000b7 164px,#00009e 168px,#000092 172px,#000091 176px,#000090 180px,#00008f 184px,#00008e 188px,#00008e 192px,#00008d 196px,#00008d 198px)"></div><div style="position:absolute;left:0;top:100px;width:198px;height:2px;background:linear-gradient(90deg,#0000bc 0px,#0009ff 4px,#0044ff 8px,#0084ff 12px,#00d9ff 16px,#2effd1 20px,#75ff8a 24px,#beff41 28px,#feff01 32px,#ffc900 36px,#ff9500 40px,#ff5f00 44px,#ff2d00 48px,#ff0400 52px,#ed0000 56px,#d60000 60px,#d40000 64px,#dd0000 68px,#fd0000 72px,#ff1c00 76px,#ff3f00 80px,#ff6c00 84px,#ff9700 88px,#ffc900 92px,#fdff02 96px,#d2ff2d 100px,#a2ff5d 104px,#7cff83 108px,#54ffab 112px,#28ffd7 116px,#00feff 120px,#00d6ff 124px,#00a3ff 128px,#008aff 132px,#006bff 136px,#004bff 140px,#002fff 144px,#0014ff 148px,#0000fb 152px,#0000ec 156px,#0000d8 160px,#0000b9 164px,#0000a1 168px,#000095 172px,#000093 176px,#000091 180px,#000090 184px,#00008f 188px,#00008f 192px,#00008e 196px,#00008e 198px)"></div><div style="position:absolute;left:0;top:102px;width:198px;height:2px;background:linear-gradient(90deg,#0000be 0px,#000aff 4px,#0046ff 8px,#0086ff 12px,#00dcff 16px,#31ffce 20px,#79ff86 24px,#c3ff3c 28px,#fffc00 32px,#ffc400 36px,#ff9000 40px,#ff5a00 44px,#ff2900 48px,#ff0100 52px,#eb0000 56px,#d60000 60px,#d70000 64px,#e20000 68px,#ff0400 72px,#ff2300 76px,#ff4700 80px,#ff7400 84px,#ff9e00 88px,#ffd100 92px,#f7ff08 96px,#ccff33 100px,#9dff62 104px,#78ff87 108px,#52ffae 112px,#26ffd9 116px,#00fdff 120px,#00d5ff 124px,#00a3ff 128px,#008aff 132px,#006bff 136px,#004bff 140px,#002fff 144px,#0014ff 148px,#0000fc 152px,#0000ec 156px,#0000d9 160px,#0000ba 164px,#0000a3 168px,#000098 172px,#000095 176px,#000093 180px,#000091 184px,#000090 188px,#00008f 192px,#00008e 196px,#00008e 198px)"></div><div style="position:absolute;left:0;top:104px;width:198px;height:2px;background:linear-gradient(90deg,#0000c2 0px,#000bff 4px,#0048ff 8px,#0089ff 12px,#00dfff 16px,#34ffcb 20px,#7dff82 24px,#c7ff38 28px,#fff700 32px,#ffbe00 36px,#ff8b00 40px,#ff5500 44px,#ff2500 48px,#fd0000 52px,#e90000 56px,#d60000 60px,#d90000 64px,#e80000 68px,#ff0a00 72px,#ff2a00 76px,#ff4f00 80px,#ff7c00 84px,#ffa600 88px,#ffd800 92px,#f1ff0e 96px,#c7ff38 100px,#99ff66 104px,#75ff8a 108px,#4effb0 112px,#23ffdc 116px,#00fbff 120px,#00d3ff 124px,#00a2ff 128px,#0089ff 132px,#006aff 136px,#004bff 140px,#0030ff 144px,#0014ff 148px,#0000fc 152px,#0000ed 156px,#0000da 160px,#0000bc 164px,#0000a6 168px,#00009b 172px,#000098 176px,#000094 180px,#000092 184px,#000091 188px,#000090 192px,#00008f 196px,#00008e 198px)"></div><div style="position:absolute;left:0;top:106px;width:198px;height:2px;background:linear-gradient(90deg,#0000c4 0px,#000cff 4px,#0049ff 8px,#008cff 12px,#00e2ff 16px,#38ffc7 20px,#80ff7f 24px,#ccff33 28px,#fff300 32px,#ffb900 36px,#ff8500 40px,#ff5000 44px,#ff2100 48px,#fa0000 52px,#e70000 56px,#d60000 60px,#dc0000 64px,#ee0000 68px,#ff1000 72px,#ff3100 76px,#ff5800 80px,#ff8400 84px,#ffae00 88px,#ffe000 92px,#ebff14 96px,#c1ff3e 100px,#95ff6a 104px,#72ff8d 108px,#4cffb3 112px,#21ffde 116px,#00f9ff 120px,#00d2ff 124px,#00a2ff 128px,#0089ff 132px,#006aff 136px,#004bff 140px,#0030ff 144px,#0015ff 148px,#0000fd 152px,#0000ee 156px,#0000db 160px,#0000be 164px,#0000a9 168px,#00009d 172px,#00009a 176px,#000096 180px,#000094 184px,#000092 188px,#000091 192px,#000090 196px,#00008f 198px)"></div><div style="position:absolute;left:0;top:108px;width:198px;height:2px;background:linear-gradient(90deg,#0000c8 0px,#000dff 4px,#004bff 8px,#008eff 12px,#00e5ff 16px,#3bffc4 20px,#84ff7b 24px,#d0ff2f 28px,#ffee00 32px,#ffb400 36px,#ff8000 40px,#ff4a00 44px,#ff1c00 48px,#f70000 52px,#e50000 56px,#d60000 60px,#df0000 64px,#f30000 68px,#ff1600 72px,#ff3800 76px,#ff6000 80px,#ff8b00 84px,#ffb600 88px,#ffe700 92px,#e5ff1a 96px,#bcff43 100px,#90ff6f 104px,#6eff91 108px,#48ffb7 112px,#1fffe0 116px,#00f7ff 120px,#00d0ff 124px,#00a1ff 128px,#0088ff 132px,#0069ff 136px,#004bff 140px,#0031ff 144px,#0015ff 148px,#0000fd 152px,#0000ee 156px,#0000db 160px,#0000c0 164px,#0000ab 168px,#0000a0 172px,#00009c 176px,#000098 180px,#000095 184px,#000093 188px,#000092 192px,#000090 196px,#00008f 198px)"></div><div style="position:absolute;left:0;top:110px;width:198px;height:2px;background:linear-gradient(90deg,#0000cb 0px,#000eff 4px,#004dff 8px,#0091ff 12px,#00e8ff 16px,#3effc1 20px,#88ff77 24px,#d5ff2a 28px,#ffea00 32px,#ffaf00 36px,#ff7b00 40px,#ff4500 44px,#ff1800 48px,#f40000 52px,#e30000 56px,#d70000 60px,#e20000 64px,#f90000 68px,#ff1c00 72px,#ff3f00 76px,#ff6800 80px,#ff9300 84px,#ffbe00 88px,#ffef00 92px,#dfff20 96px,#b7ff48 100px,#8cff73 104px,#6bff94 108px,#45ffba 112px,#1dffe2 116px,#00f5ff 120px,#00cfff 124px,#00a1ff 128px,#0087ff 132px,#0069ff 136px,#004bff 140px,#0031ff 144px,#0015ff 148px,#0000fe 152px,#0000ef 156px,#0000dc 160px,#0000c1 164px,#0000ae 168px,#0000a3 172px,#00009e 176px,#000099 180px,#000096 184px,#000094 188px,#000093 192px,#000091 196px,#000090 198px)"></div><div style="position:absolute;left:0;top:112px;width:198px;height:2px;background:linear-gradient(90deg,#0000ce 0px,#000fff 4px,#004eff 8px,#0094ff 12px,#00ebff 16px,#42ffbd 20px,#8cff73 24px,#d9ff26 28px,#ffe500 32px,#ffa900 36px,#ff7600 40px,#ff4000 44px,#ff1400 48px,#f10000 52px,#e10000 56px,#d70000 60px,#e40000 64px,#ff0000 68px,#ff2200 72px,#ff4500 76px,#ff7100 80px,#ff9b00 84px,#ffc500 88px,#fff600 92px,#d9ff26 96px,#b1ff4e 100px,#87ff78 104px,#67ff98 108px,#42ffbc 112px,#1bffe4 116px,#00f3ff 120px,#00cdff 124px,#00a0ff 128px,#0087ff 132px,#0068ff 136px,#004cff 140px,#0031ff 144px,#0015ff 148px,#0000fe 152px,#0000f0 156px,#0000dd 160px,#0000c3 164px,#0000b1 168px,#0000a6 172px,#0000a0 176px,#00009b 180px,#000097 184px,#000095 188px,#000093 192px,#000091 196px,#000090 198px)"></div><div style="position:absolute;left:0;top:114px;width:198px;height:2px;background:linear-gradient(90deg,#0000d0 0px,#000fff 4px,#0050ff 8px,#0097ff 12px,#00eeff 16px,#45ffba 20px,#8fff70 24px,#deff21 28px,#ffe100 32px,#ffa400 36px,#ff7000 40px,#ff3b00 44px,#ff0f00 48px,#ee0000 52px,#df0000 56px,#d70000 60px,#e70000 64px,#ff0500 68px,#ff2800 72px,#ff4c00 76px,#ff7900 80px,#ffa200 84px,#ffcd00 88px,#fffe00 92px,#d3ff2c 96px,#acff53 100px,#83ff7c 104px,#64ff9b 108px,#40ffc0 112px,#18ffe7 116px,#00f2ff 120px,#00ccff 124px,#00a0ff 128px,#0086ff 132px,#0068ff 136px,#004cff 140px,#0032ff 144px,#0015ff 148px,#0000ff 152px,#0000f0 156px,#0000de 160px,#0000c5 164px,#0000b3 168px,#0000a9 172px,#0000a3 176px,#00009d 180px,#000099 184px,#000096 188px,#000094 192px,#000092 196px,#000091 198px)"></div><div style="position:absolute;left:0;top:116px;width:198px;height:2px;background:linear-gradient(90deg,#0000d3 0px,#0010ff 4px,#0052ff 8px,#009aff 12px,#00f1ff 16px,#48ffb7 20px,#93ff6c 24px,#e2ff1d 28px,#ffdc00 32px,#ff9f00 36px,#ff6b00 40px,#ff3500 44px,#ff0b00 48px,#eb0000 52px,#dd0000 56px,#d70000 60px,#ea0000 64px,#ff0b00 68px,#ff2e00 72px,#ff5300 76px,#ff8100 80px,#ffaa00 84px,#ffd500 88px,#f9ff06 92px,#cdff32 96px,#a6ff59 100px,#7fff80 104px,#61ff9e 108px,#3cffc3 112px,#16ffe9 116px,#00f0ff 120px,#00caff 124px,#00a0ff 128px,#0086ff 132px,#0067ff 136px,#004cff 140px,#0032ff 144px,#0016ff 148px,#0000ff 152px,#0000f1 156px,#0000df 160px,#0000c6 164px,#0000b6 168px,#0000ac 172px,#0000a5 176px,#00009e 180px,#00009a 184px,#000097 188px,#000095 192px,#000092 196px,#000091 198px)"></div><div style="position:absolute;left:0;top:118px;width:198px;height:2px;background:linear-gradient(90deg,#0000d6 0px,#0011ff 4px,#0054ff 8px,#009cff 12px,#00f4ff 16px,#4cffb3 20px,#97ff68 24px,#e7ff18 28px,#ffd800 32px,#ff9a00 36px,#ff6600 40px,#ff3000 44px,#ff0700 48px,#e80000 52px,#db0000 56px,#d70000 60px,#ec0000 64px,#ff1100 68px,#ff3400 72px,#ff5a00 76px,#ff8900 80px,#ffb200 84px,#ffdc00 88px,#f1ff0e 92px,#c7ff38 96px,#a1ff5e 100px,#7aff85 104px,#5dffa2 108px,#39ffc6 112px,#14ffeb 116px,#00eeff 120px,#00c9ff 124px,#009fff 128px,#0085ff 132px,#0067ff 136px,#004cff 140px,#0033ff 144px,#0016ff 148px,#0001ff 152px,#0000f2 156px,#0000e0 160px,#0000c8 164px,#0000b8 168px,#0000ae 172px,#0000a7 176px,#0000a0 180px,#00009b 184px,#000098 188px,#000096 192px,#000093 196px,#000092 198px)"></div><div style="position:absolute;left:0;top:120px;width:198px;height:2px;background:linear-gradient(90deg,#0000da 0px,#0012ff 4px,#0055ff 8px,#009fff 12px,#00f7ff 16px,#4fffb0 20px,#9bff64 24px,#ebff14 28px,#ffd300 32px,#ff9500 36px,#ff6100 40px,#ff2b00 44px,#ff0200 48px,#e50000 52px,#d90000 56px,#d70000 60px,#ef0000 64px,#ff1600 68px,#ff3a00 72px,#ff6100 76px,#ff9200 80px,#ffba00 84px,#ffe400 88px,#eaff15 92px,#c1ff3e 96px,#9bff64 100px,#76ff89 104px,#5affa5 108px,#36ffc9 112px,#12ffed 116px,#00ecff 120px,#00c7ff 124px,#009fff 128px,#0084ff 132px,#0066ff 136px,#004cff 140px,#0033ff 144px,#0016ff 148px,#0001ff 152px,#0000f2 156px,#0000e0 160px,#0000ca 164px,#0000bb 168px,#0000b1 172px,#0000aa 176px,#0000a2 180px,#00009c 184px,#000099 188px,#000096 192px,#000094 196px,#000092 198px)"></div><div style="position:absolute;left:0;top:122px;width:198px;height:2px;background:linear-gradient(90deg,#0000dc 0px,#0013ff 4px,#0057ff 8px,#00a2ff 12px,#00faff 16px,#52ffad 20px,#9eff61 24px,#f0ff0f 28px,#ffcf00 32px,#ff8f00 36px,#ff5b00 40px,#ff2600 44px,#fd0000 48px,#e20000 52px,#d60000 56px,#d70000 60px,#f20000 64px,#ff1c00 68px,#ff4000 72px,#ff6800 76px,#ff9a00 80px,#ffc200 84px,#ffec00 88px,#e2ff1d 92px,#bbff44 96px,#96ff69 100px,#71ff8e 104px,#57ffa8 108px,#33ffcc 112px,#0ffff0 116px,#00eaff 120px,#00c6ff 124px,#009eff 128px,#0084ff 132px,#0065ff 136px,#004cff 140px,#0034ff 144px,#0016ff 148px,#0002ff 152px,#0000f3 156px,#0000e1 160px,#0000cc 164px,#0000be 168px,#0000b4 172px,#0000ac 176px,#0000a3 180px,#00009e 184px,#00009a 188px,#000097 192px,#000094 196px,#000093 198px)"></div><div style="position:absolute;left:0;top:124px;width:198px;height:2px;background:linear-gradient(90deg,#0000e0 0px,#0014ff 4px,#0059ff 8px,#00a5ff 12px,#00fdff 16px,#56ffa9 20px,#a2ff5d 24px,#f4ff0b 28px,#ffca00 32px,#ff8a00 36px,#ff5600 40px,#ff2000 44px,#f90000 48px,#df0000 52px,#d40000 56px,#d80000 60px,#f40000 64px,#ff2100 68px,#ff4600 72px,#ff6f00 76px,#ffa200 80px,#ffc900 84px,#fff400 88px,#dbff24 92px,#b5ff4a 96px,#91ff6e 100px,#6dff92 104px,#53ffac 108px,#30ffcf 112px,#0dfff2 116px,#00e8ff 120px,#00c4ff 124px,#009eff 128px,#0083ff 132px,#0065ff 136px,#004cff 140px,#0034ff 144px,#0017ff 148px,#0002ff 152px,#0000f3 156px,#0000e2 160px,#0000cd 164px,#0000c0 168px,#0000b7 172px,#0000ae 176px,#0000a5 180px,#00009f 184px,#00009b 188px,#000098 192px,#000095 196px,#000093 198px)"></div><div style="position:absolute;left:0;top:126px;width:198px;height:2px;background:linear-gradient(90deg,#0000e2 0px,#0015ff 4px,#005bff 8px,#00a7ff 12px,#01fffe 16px,#59ffa6 20px,#a6ff59 24px,#f9ff06 28px,#ffc600 32px,#ff8500 36px,#ff5100 40px,#ff1b00 44px,#f40000 48px,#dc0000 52px,#d20000 56px,#d80000 60px,#f70000 64px,#ff2700 68px,#ff4c00 72px,#ff7600 76px,#ffaa00 80px,#ffd100 84px,#fffc00 88px,#d3ff2c 92px,#afff50 96px,#8bff74 100px,#69ff96 104px,#50ffaf 108px,#2dffd2 112px,#0bfff4 116px,#00e6ff 120px,#00c3ff 124px,#009dff 128px,#0082ff 132px,#0064ff 136px,#004cff 140px,#0035ff 144px,#0017ff 148px,#0003ff 152px,#0000f4 156px,#0000e3 160px,#0000cf 164px,#0000c3 168px,#0000ba 172px,#0000b0 176px,#0000a7 180px,#0000a0 184px,#00009c 188px,#000099 192px,#000095 196px,#000093 198px)"></div><div style="position:absolute;left:0;top:128px;width:198px;height:2px;background:linear-gradient(90deg,#0000e6 0px,#0016ff 4px,#005cff 8px,#00aaff 12px,#04fffb 16px,#5cffa3 20px,#aaff55 24px,#fdff02 28px,#ffc100 32px,#ff8000 36px,#ff4c00 40px,#ff1600 44px,#f00000 48px,#d90000 52px,#d00000 56px,#d80000 60px,#fa0000 64px,#ff2d00 68px,#ff5200 72px,#ff7c00 76px,#ffb300 80px,#ffd900 84px,#fbff04 88px,#ccff33 92px,#a9ff56 96px,#86ff79 100px,#64ff9b 104px,#4dffb2 108px,#2affd5 112px,#09fff6 116px,#00e5ff 120px,#00c1ff 124px,#009dff 128px,#0082ff 132px,#0064ff 136px,#004dff 140px,#0035ff 144px,#0017ff 148px,#0003ff 152px,#0000f5 156px,#0000e4 160px,#0000d1 164px,#0000c5 168px,#0000bd 172px,#0000b2 176px,#0000a8 180px,#0000a1 184px,#00009d 188px,#00009a 192px,#000096 196px,#000094 198px)"></div><div style="position:absolute;left:0;top:130px;width:198px;height:2px;background:linear-gradient(90deg,#0000eb 0px,#001dff 4px,#0067ff 8px,#00b6ff 12px,#11ffee 16px,#69ff96 20px,#b5ff4a 24px,#fff800 28px,#ffba00 32px,#ff7b00 36px,#ff4900 40px,#ff1700 44px,#f40000 48px,#df0000 52px,#d80000 56px,#e10000 60px,#ff0400 64px,#ff3600 68px,#ff5b00 72px,#ff8500 76px,#ffba00 80px,#ffe000 84px,#f4ff0b 88px,#c7ff38 92px,#a6ff59 96px,#83ff7c 100px,#62ff9d 104px,#4bffb4 108px,#2affd5 112px,#08fff7 116px,#00e5ff 120px,#00c1ff 124px,#009dff 128px,#0083ff 132px,#0065ff 136px,#004eff 140px,#0036ff 144px,#0019ff 148px,#0006ff 152px,#0000f7 156px,#0000e6 160px,#0000d3 164px,#0000c7 168px,#0000be 172px,#0000b4 176px,#0000aa 180px,#0000a3 184px,#00009f 188px,#00009b 192px,#000097 196px,#000095 198px)"></div><div style="position:absolute;left:0;top:132px;width:198px;height:2px;background:linear-gradient(90deg,#0000f0 0px,#0024ff 4px,#0071ff 8px,#00c3ff 12px,#1effe1 16px,#76ff89 20px,#c0ff3f 24px,#ffef00 28px,#ffb400 32px,#ff7600 36px,#ff4600 40px,#ff1800 44px,#f80000 48px,#e50000 52px,#e10000 56px,#eb0000 60px,#ff0e00 64px,#ff3f00 68px,#ff6400 72px,#ff8e00 76px,#ffc100 80px,#ffe700 84px,#eeff11 88px,#c3ff3c 92px,#a2ff5d 96px,#80ff7f 100px,#61ff9e 104px,#4affb5 108px,#29ffd6 112px,#07fff8 116px,#00e5ff 120px,#00c1ff 124px,#009dff 128px,#0083ff 132px,#0066ff 136px,#004fff 140px,#0038ff 144px,#001bff 148px,#0008ff 152px,#0000f9 156px,#0000e9 160px,#0000d5 164px,#0000c9 168px,#0000c0 172px,#0000b6 176px,#0000ac 180px,#0000a5 184px,#0000a1 188px,#00009d 192px,#000099 196px,#000097 198px)"></div><div style="position:absolute;left:0;top:134px;width:198px;height:2px;background:linear-gradient(90deg,#0000f6 0px,#002bff 4px,#007cff 8px,#00cfff 12px,#2bffd4 16px,#83ff7c 20px,#cbff34 24px,#ffe700 28px,#ffad00 32px,#ff7200 36px,#ff4400 40px,#ff1900 44px,#fc0000 48px,#ec0000 52px,#e90000 56px,#f40000 60px,#ff1700 64px,#ff4800 68px,#ff6d00 72px,#ff9600 76px,#ffc800 80px,#ffee00 84px,#e8ff17 88px,#beff41 92px,#9eff61 96px,#7dff82 100px,#5fffa0 104px,#48ffb7 108px,#28ffd7 112px,#06fff9 116px,#00e5ff 120px,#00c1ff 124px,#009dff 128px,#0084ff 132px,#0067ff 136px,#0050ff 140px,#0039ff 144px,#001dff 148px,#000aff 152px,#0000fb 156px,#0000eb 160px,#0000d7 164px,#0000cb 168px,#0000c2 172px,#0000b8 176px,#0000ae 180px,#0000a7 184px,#0000a3 188px,#00009f 192px,#00009a 196px,#000098 198px)"></div><div style="position:absolute;left:0;top:136px;width:198px;height:2px;background:linear-gradient(90deg,#0000fb 0px,#0032ff 4px,#0087ff 8px,#00dcff 12px,#38ffc7 16px,#90ff6f 20px,#d6ff29 24px,#ffde00 28px,#ffa600 32px,#ff6d00 36px,#ff4100 40px,#ff1b00 44px,#ff0100 48px,#f20000 52px,#f10000 56px,#fe0000 60px,#ff2100 64px,#ff5100 68px,#ff7600 72px,#ff9f00 76px,#ffd000 80px,#fff500 84px,#e1ff1e 88px,#baff45 92px,#9bff64 96px,#7aff85 100px,#5dffa2 104px,#47ffb8 108px,#27ffd8 112px,#05fffa 116px,#00e5ff 120px,#00c1ff 124px,#009dff 128px,#0085ff 132px,#0068ff 136px,#0051ff 140px,#003aff 144px,#0020ff 148px,#000dff 152px,#0000fe 156px,#0000ee 160px,#0000d9 164px,#0000cc 168px,#0000c3 172px,#0000b9 176px,#0000b0 180px,#0000a9 184px,#0000a5 188px,#0000a0 192px,#00009c 196px,#00009a 198px)"></div><div style="position:absolute;left:0;top:138px;width:198px;height:2px;background:linear-gradient(90deg,#0002ff 0px,#003aff 4px,#0091ff 8px,#00e8ff 12px,#44ffbb 16px,#9dff62 20px,#e1ff1e 24px,#ffd500 28px,#ff9f00 32px,#ff6900 36px,#ff3e00 40px,#ff1c00 44px,#ff0500 48px,#f90000 52px,#f90000 56px,#ff0900 60px,#ff2a00 64px,#ff5a00 68px,#ff7f00 72px,#ffa700 76px,#ffd700 80px,#fffc00 84px,#dbff24 88px,#b5ff4a 92px,#97ff68 96px,#77ff88 100px,#5bffa4 104px,#46ffb9 108px,#26ffd9 112px,#05fffa 116px,#00e5ff 120px,#00c1ff 124px,#009dff 128px,#0086ff 132px,#0068ff 136px,#0052ff 140px,#003bff 144px,#0022ff 148px,#000fff 152px,#0001ff 156px,#0000f0 160px,#0000db 164px,#0000ce 168px,#0000c5 172px,#0000bb 176px,#0000b2 180px,#0000ab 184px,#0000a7 188px,#0000a2 192px,#00009d 196px,#00009b 198px)"></div><div style="position:absolute;left:0;top:140px;width:198px;height:2px;background:linear-gradient(90deg,#0007ff 0px,#0041ff 4px,#009cff 8px,#00f5ff 12px,#51ffae 16px,#a9ff56 20px,#ecff13 24px,#ffcd00 28px,#ff9900 32px,#ff6400 36px,#ff3c00 40px,#ff1d00 44px,#ff0900 48px,#ff0000 52px,#ff0200 56px,#ff1200 60px,#ff3400 64px,#ff6300 68px,#ff8800 72px,#ffb000 76px,#ffde00 80px,#fbff04 84px,#d5ff2a 88px,#b1ff4e 92px,#94ff6b 96px,#74ff8b 100px,#59ffa6 104px,#44ffbb 108px,#25ffda 112px,#04fffb 116px,#00e5ff 120px,#00c1ff 124px,#009dff 128px,#0086ff 132px,#0069ff 136px,#0053ff 140px,#003cff 144px,#0024ff 148px,#0011ff 152px,#0003ff 156px,#0000f2 160px,#0000dd 164px,#0000d0 168px,#0000c7 172px,#0000bd 176px,#0000b4 180px,#0000ad 184px,#0000a8 188px,#0000a4 192px,#00009f 196px,#00009d 198px)"></div><div style="position:absolute;left:0;top:142px;width:198px;height:2px;background:linear-gradient(90deg,#000dff 0px,#0048ff 4px,#00a6ff 8px,#02fffd 12px,#5effa1 16px,#b6ff49 20px,#f7ff08 24px,#ffc400 28px,#ff9200 32px,#ff6000 36px,#ff3900 40px,#ff1e00 44px,#ff0d00 48px,#ff0600 52px,#ff0b00 56px,#ff1c00 60px,#ff3e00 64px,#ff6c00 68px,#ff9200 72px,#ffb800 76px,#ffe600 80px,#f4ff0b 84px,#ceff31 88px,#acff53 92px,#90ff6f 96px,#71ff8e 100px,#57ffa8 104px,#43ffbc 108px,#24ffdb 112px,#03fffc 116px,#00e5ff 120px,#00c1ff 124px,#009dff 128px,#0087ff 132px,#006aff 136px,#0054ff 140px,#003eff 144px,#0026ff 148px,#0014ff 152px,#0005ff 156px,#0000f5 160px,#0000df 164px,#0000d2 168px,#0000c8 172px,#0000be 176px,#0000b6 180px,#0000af 184px,#0000aa 188px,#0000a5 192px,#0000a1 196px,#00009e 198px)"></div><div style="position:absolute;left:0;top:144px;width:198px;height:2px;background:linear-gradient(90deg,#0012ff 0px,#004fff 4px,#00b1ff 8px,#0ffff0 12px,#6bff94 16px,#c3ff3c 20px,#fffc00 24px,#ffbb00 28px,#ff8b00 32px,#ff5b00 36px,#ff3600 40px,#ff1f00 44px,#ff1100 48px,#ff0d00 52px,#ff1300 56px,#ff2500 60px,#ff4700 64px,#ff7500 68px,#ff9b00 72px,#ffc100 76px,#ffed00 80px,#edff12 84px,#c8ff37 88px,#a8ff57 92px,#8cff73 96px,#6eff91 100px,#56ffa9 104px,#42ffbd 108px,#23ffdc 112px,#02fffd 116px,#00e5ff 120px,#00c1ff 124px,#009dff 128px,#0088ff 132px,#006bff 136px,#0056ff 140px,#003fff 144px,#0028ff 148px,#0016ff 152px,#0007ff 156px,#0000f7 160px,#0000e0 164px,#0000d3 168px,#0000ca 172px,#0000c0 176px,#0000b8 180px,#0000b1 184px,#0000ac 188px,#0000a7 192px,#0000a2 196px,#0000a0 198px)"></div><div style="position:absolute;left:0;top:146px;width:198px;height:2px;background:linear-gradient(90deg,#0018ff 0px,#0056ff 4px,#00bcff 8px,#1bffe4 12px,#78ff87 16px,#d0ff2f 20px,#fff100 24px,#ffb200 28px,#ff8500 32px,#ff5700 36px,#ff3400 40px,#ff2000 44px,#ff1500 48px,#ff1300 52px,#ff1b00 56px,#ff2f00 60px,#ff5100 64px,#ff7f00 68px,#ffa400 72px,#ffca00 76px,#fff400 80px,#e6ff19 84px,#c1ff3e 88px,#a3ff5c 92px,#89ff76 96px,#6bff94 100px,#54ffab 104px,#40ffbf 108px,#22ffdd 112px,#02fffd 116px,#00e5ff 120px,#00c1ff 124px,#009dff 128px,#0089ff 132px,#006cff 136px,#0057ff 140px,#0040ff 144px,#002aff 148px,#0018ff 152px,#0009ff 156px,#0000fa 160px,#0000e2 164px,#0000d5 168px,#0000cb 172px,#0000c2 176px,#0000ba 180px,#0000b3 184px,#0000ae 188px,#0000a9 192px,#0000a4 196px,#0000a1 198px)"></div><div style="position:absolute;left:0;top:148px;width:198px;height:2px;background:linear-gradient(90deg,#001dff 0px,#005dff 4px,#00c6ff 8px,#27ffd8 12px,#85ff7a 16px,#ddff22 20px,#ffe500 24px,#ffaa00 28px,#ff7e00 32px,#ff5200 36px,#ff3100 40px,#ff2200 44px,#ff1900 48px,#ff1a00 52px,#ff2300 56px,#ff3800 60px,#ff5a00 64px,#ff8800 68px,#ffad00 72px,#ffd200 76px,#fffb00 80px,#dfff20 84px,#bbff44 88px,#9eff61 92px,#85ff7a 96px,#68ff97 100px,#52ffad 104px,#3fffc0 108px,#21ffde 112px,#01fffe 116px,#00e5ff 120px,#00c1ff 124px,#009dff 128px,#0089ff 132px,#006dff 136px,#0058ff 140px,#0041ff 144px,#002dff 148px,#001bff 152px,#000cff 156px,#0000fc 160px,#0000e4 164px,#0000d7 168px,#0000cd 172px,#0000c3 176px,#0000bc 180px,#0000b5 184px,#0000b0 188px,#0000aa 192px,#0000a5 196px,#0000a2 198px)"></div><div style="position:absolute;left:0;top:150px;width:198px;height:2px;background:linear-gradient(90deg,#0023ff 0px,#0065ff 4px,#00d1ff 8px,#34ffcb 12px,#91ff6e 16px,#eaff15 20px,#ffda00 24px,#ffa100 28px,#ff7700 32px,#ff4d00 36px,#ff2e00 40px,#ff2300 44px,#ff1d00 48px,#ff2000 52px,#ff2b00 56px,#ff4200 60px,#ff6400 64px,#ff9100 68px,#ffb600 72px,#ffdb00 76px,#fbff04 80px,#d8ff27 84px,#b5ff4a 88px,#9aff65 92px,#81ff7e 96px,#65ff9a 100px,#50ffaf 104px,#3dffc2 108px,#20ffdf 112px,#00ffff 116px,#00e5ff 120px,#00c1ff 124px,#009dff 128px,#008aff 132px,#006eff 136px,#0059ff 140px,#0042ff 144px,#002fff 148px,#001dff 152px,#000eff 156px,#0000ff 160px,#0000e6 164px,#0000d9 168px,#0000cf 172px,#0000c5 176px,#0000be 180px,#0000b7 184px,#0000b1 188px,#0000ac 192px,#0000a7 196px,#0000a4 198px)"></div><div style="position:absolute;left:0;top:152px;width:198px;height:2px;background:linear-gradient(90deg,#0028ff 0px,#006cff 4px,#00dbff 8px,#40ffbf 12px,#9eff61 16px,#f6ff09 20px,#ffcf00 24px,#ff9800 28px,#ff7000 32px,#ff4900 36px,#ff2c00 40px,#ff2400 44px,#ff2100 48px,#ff2600 52px,#ff3400 56px,#ff4b00 60px,#ff6d00 64px,#ff9a00 68px,#ffbf00 72px,#ffe300 76px,#f4ff0b 80px,#d1ff2e 84px,#aeff51 88px,#95ff6a 92px,#7eff81 96px,#62ff9d 100px,#4effb1 104px,#3cffc3 108px,#20ffdf 112px,#00feff 116px,#00e5ff 120px,#00c1ff 124px,#009dff 128px,#008bff 132px,#006fff 136px,#005aff 140px,#0044ff 144px,#0031ff 148px,#001fff 152px,#0010ff 156px,#0002ff 160px,#0000e8 164px,#0000da 168px,#0000d0 172px,#0000c7 176px,#0000c0 180px,#0000b9 184px,#0000b3 188px,#0000ae 192px,#0000a8 196px,#0000a5 198px)"></div><div style="position:absolute;left:0;top:154px;width:198px;height:2px;background:linear-gradient(90deg,#002eff 0px,#0073ff 4px,#00e6ff 8px,#4dffb2 12px,#abff54 16px,#fffb00 20px,#ffc400 24px,#ff9000 28px,#ff6a00 32px,#ff4400 36px,#ff2900 40px,#ff2500 44px,#ff2500 48px,#ff2d00 52px,#ff3c00 56px,#ff5500 60px,#ff7700 64px,#ffa300 68px,#ffc800 72px,#ffec00 76px,#edff12 80px,#caff35 84px,#a8ff57 88px,#91ff6e 92px,#7aff85 96px,#5fffa0 100px,#4dffb2 104px,#3bffc4 108px,#1fffe0 112px,#00feff 116px,#00e5ff 120px,#00c1ff 124px,#009dff 128px,#008cff 132px,#0070ff 136px,#005bff 140px,#0045ff 144px,#0033ff 148px,#0022ff 152px,#0012ff 156px,#0004ff 160px,#0000ea 164px,#0000dc 168px,#0000d2 172px,#0000c9 176px,#0000c2 180px,#0000bb 184px,#0000b5 188px,#0000af 192px,#0000aa 196px,#0000a7 198px)"></div><div style="position:absolute;left:0;top:156px;width:198px;height:2px;background:linear-gradient(90deg,#0033ff 0px,#007aff 4px,#00f0ff 8px,#59ffa6 12px,#b8ff47 16px,#ffee00 20px,#ffb900 24px,#ff8700 28px,#ff6300 32px,#ff4000 36px,#ff2600 40px,#ff2600 44px,#ff2900 48px,#ff3300 52px,#ff4400 56px,#ff5e00 60px,#ff8000 64px,#ffac00 68px,#ffd100 72px,#fff400 76px,#e5ff1a 80px,#c3ff3c 84px,#a2ff5e 88px,#8cff73 92px,#76ff89 96px,#5cffa3 100px,#4bffb4 104px,#39ffc6 108px,#1effe1 112px,#00fdff 116px,#00e5ff 120px,#00c1ff 124px,#009dff 128px,#008cff 132px,#0071ff 136px,#005cff 140px,#0046ff 144px,#0035ff 148px,#0024ff 152px,#0014ff 156px,#0007ff 160px,#0000ec 164px,#0000de 168px,#0000d4 172px,#0000ca 176px,#0000c3 180px,#0000bd 184px,#0000b7 188px,#0000b1 192px,#0000ab 196px,#0000a8 198px)"></div><div style="position:absolute;left:0;top:158px;width:198px;height:2px;background:linear-gradient(90deg,#003fff 0px,#0086ff 4px,#00fbff 8px,#61ff9e 12px,#bdff42 16px,#ffec00 20px,#ffb900 24px,#ff8900 28px,#ff6700 32px,#ff4600 36px,#ff2f00 40px,#ff3000 44px,#ff3300 48px,#ff3d00 52px,#ff4e00 56px,#ff6700 60px,#ff8800 64px,#ffb200 68px,#ffd600 72px,#fff800 76px,#e4ff1b 80px,#c3ff3c 84px,#a2ff5d 88px,#8cff73 92px,#76ff89 96px,#5dffa2 100px,#4bffb4 104px,#39ffc6 108px,#1effe1 112px,#00fdff 116px,#00e5ff 120px,#00c2ff 124px,#009fff 128px,#008eff 132px,#0072ff 136px,#005dff 140px,#0047ff 144px,#0036ff 148px,#0025ff 152px,#0015ff 156px,#0007ff 160px,#0000ee 164px,#0000df 168px,#0000d5 172px,#0000cc 176px,#0000c5 180px,#0000be 184px,#0000b7 188px,#0000b1 192px,#0000ac 196px,#0000a9 198px)"></div><div style="position:absolute;left:0;top:160px;width:198px;height:2px;background:linear-gradient(90deg,#004aff 0px,#0091ff 4px,#06fff9 8px,#6aff95 12px,#c2ff3d 16px,#ffeb00 20px,#ffb900 24px,#ff8c00 28px,#ff6c00 32px,#ff4d00 36px,#ff3800 40px,#ff3a00 44px,#ff3d00 48px,#ff4700 52px,#ff5700 56px,#ff7000 60px,#ff9000 64px,#ffb800 68px,#ffda00 72px,#fffb00 76px,#e2ff1d 80px,#c2ff3d 84px,#a2ff5d 88px,#8cff73 92px,#76ff89 96px,#5dffa2 100px,#4cffb3 104px,#39ffc6 108px,#1effe1 112px,#00fdff 116px,#00e5ff 120px,#00c4ff 124px,#00a1ff 128px,#008fff 132px,#0072ff 136px,#005eff 140px,#0049ff 144px,#0038ff 148px,#0026ff 152px,#0016ff 156px,#0008ff 160px,#0000ef 164px,#0000e1 168px,#0000d7 172px,#0000ce 176px,#0000c6 180px,#0000bf 184px,#0000b8 188px,#0000b1 192px,#0000ac 196px,#0000aa 198px)"></div><div style="position:absolute;left:0;top:162px;width:198px;height:2px;background:linear-gradient(90deg,#0056ff 0px,#009dff 4px,#10ffef 8px,#72ff8d 12px,#c7ff38 16px,#ffe900 20px,#ffb900 24px,#ff8e00 28px,#ff7000 32px,#ff5400 36px,#ff4100 40px,#ff4300 44px,#ff4700 48px,#ff5100 52px,#ff6100 56px,#ff7900 60px,#ff9700 64px,#ffbe00 68px,#ffdf00 72px,#fffe00 76px,#e1ff1e 80px,#c2ff3d 84px,#a2ff5d 88px,#8bff74 92px,#76ff89 96px,#5effa1 100px,#4cffb3 104px,#39ffc6 108px,#1effe1 112px,#00fcff 116px,#00e5ff 120px,#00c5ff 124px,#00a3ff 128px,#0090ff 132px,#0073ff 136px,#005fff 140px,#004aff 144px,#0039ff 148px,#0028ff 152px,#0017ff 156px,#0009ff 160px,#0000f1 164px,#0000e3 168px,#0000d9 172px,#0000cf 176px,#0000c7 180px,#0000c0 184px,#0000b9 188px,#0000b1 192px,#0000ad 196px,#0000ab 198px)"></div><div style="position:absolute;left:0;top:164px;width:198px;height:2px;background:linear-gradient(90deg,#0062ff 0px,#00a9ff 4px,#1bffe4 8px,#7aff85 12px,#ccff33 16px,#ffe700 20px,#ffb800 24px,#ff9100 28px,#ff7500 32px,#ff5a00 36px,#ff4a00 40px,#ff4d00 44px,#ff5200 48px,#ff5b00 52px,#ff6a00 56px,#ff8100 60px,#ff9f00 64px,#ffc400 68px,#ffe300 72px,#fdff02 76px,#dfff20 80px,#c1ff3e 84px,#a2ff5d 88px,#8bff74 92px,#76ff89 96px,#5effa1 100px,#4dffb2 104px,#39ffc6 108px,#1effe1 112px,#00fcff 116px,#00e5ff 120px,#00c7ff 124px,#00a5ff 128px,#0092ff 132px,#0074ff 136px,#0060ff 140px,#004bff 144px,#003aff 148px,#0029ff 152px,#0018ff 156px,#0009ff 160px,#0000f3 164px,#0000e4 168px,#0000da 172px,#0000d1 176px,#0000c9 180px,#0000c1 184px,#0000b9 188px,#0000b2 192px,#0000ae 196px,#0000ac 198px)"></div><div style="position:absolute;left:0;top:166px;width:198px;height:2px;background:linear-gradient(90deg,#006dff 0px,#00b4ff 4px,#25ffda 8px,#82ff7d 12px,#d1ff2e 16px,#ffe600 20px,#ffb800 24px,#ff9300 28px,#ff7900 32px,#ff6100 36px,#ff5300 40px,#ff5700 44px,#ff5c00 48px,#ff6500 52px,#ff7400 56px,#ff8a00 60px,#ffa700 64px,#ffca00 68px,#ffe800 72px,#faff05 76px,#deff21 80px,#c1ff3e 84px,#a2ff5d 88px,#8bff74 92px,#75ff8a 96px,#5fffa0 100px,#4dffb2 104px,#39ffc6 108px,#1effe1 112px,#00fcff 116px,#00e5ff 120px,#00c8ff 124px,#00a7ff 128px,#0093ff 132px,#0075ff 136px,#0060ff 140px,#004cff 144px,#003bff 148px,#002aff 152px,#0019ff 156px,#000aff 160px,#0000f4 164px,#0000e6 168px,#0000dc 172px,#0000d2 176px,#0000ca 180px,#0000c2 184px,#0000ba 188px,#0000b2 192px,#0000ae 196px,#0000ad 198px)"></div><div style="position:absolute;left:0;top:168px;width:198px;height:2px;background:linear-gradient(90deg,#0079ff 0px,#00c0ff 4px,#2fffd0 8px,#8aff75 12px,#d6ff29 16px,#ffe400 20px,#ffb800 24px,#ff9500 28px,#ff7e00 32px,#ff6800 36px,#ff5c00 40px,#ff6000 44px,#ff6600 48px,#ff7000 52px,#ff7d00 56px,#ff9300 60px,#ffaf00 64px,#ffd000 68px,#ffed00 72px,#f7ff08 76px,#dcff23 80px,#c0ff3f 84px,#a2ff5d 88px,#8aff75 92px,#75ff8a 96px,#5fffa0 100px,#4effb1 104px,#39ffc6 108px,#1effe1 112px,#00fcff 116px,#00e5ff 120px,#00c9ff 124px,#00a9ff 128px,#0094ff 132px,#0076ff 136px,#0061ff 140px,#004eff 144px,#003dff 148px,#002bff 152px,#001aff 156px,#000bff 160px,#0000f6 164px,#0000e7 168px,#0000dd 172px,#0000d4 176px,#0000cb 180px,#0000c3 184px,#0000ba 188px,#0000b2 192px,#0000af 196px,#0000ad 198px)"></div><div style="position:absolute;left:0;top:170px;width:198px;height:2px;background:linear-gradient(90deg,#0085ff 0px,#00ccff 4px,#3affc5 8px,#92ff6d 12px,#dbff24 16px,#ffe200 20px,#ffb800 24px,#ff9800 28px,#ff8200 32px,#ff6e00 36px,#ff6500 40px,#ff6a00 44px,#ff7000 48px,#ff7a00 52px,#ff8700 56px,#ff9c00 60px,#ffb600 64px,#ffd600 68px,#fff100 72px,#f4ff0b 76px,#dbff24 80px,#bfff40 84px,#a2ff5d 88px,#8aff75 92px,#75ff8a 96px,#60ff9f 100px,#4effb1 104px,#39ffc6 108px,#1effe1 112px,#00fcff 116px,#00e5ff 120px,#00cbff 124px,#00abff 128px,#0096ff 132px,#0077ff 136px,#0062ff 140px,#004fff 144px,#003eff 148px,#002cff 152px,#001bff 156px,#000cff 160px,#0000f7 164px,#0000e9 168px,#0000df 172px,#0000d6 176px,#0000cd 180px,#0000c3 184px,#0000bb 188px,#0000b2 192px,#0000af 196px,#0000ae 198px)"></div><div style="position:absolute;left:0;top:172px;width:198px;height:2px;background:linear-gradient(90deg,#0090ff 0px,#00d8ff 4px,#44ffbb 8px,#9aff65 12px,#e1ff1e 16px,#ffe100 20px,#ffb800 24px,#ff9a00 28px,#ff8700 32px,#ff7500 36px,#ff6e00 40px,#ff7400 44px,#ff7b00 48px,#ff8400 52px,#ff9100 56px,#ffa500 60px,#ffbe00 64px,#ffdc00 68px,#fff600 72px,#f1ff0e 76px,#d9ff26 80px,#bfff40 84px,#a2ff5d 88px,#8aff75 92px,#75ff8a 96px,#60ff9f 100px,#4fffb0 104px,#39ffc6 108px,#1effe1 112px,#00fbff 116px,#00e5ff 120px,#00ccff 124px,#00aeff 128px,#0097ff 132px,#0078ff 136px,#0063ff 140px,#0050ff 144px,#003fff 148px,#002dff 152px,#001cff 156px,#000cff 160px,#0000f9 164px,#0000eb 168px,#0000e1 172px,#0000d7 176px,#0000ce 180px,#0000c4 184px,#0000bb 188px,#0000b2 192px,#0000b0 196px,#0000af 198px)"></div><div style="position:absolute;left:0;top:174px;width:198px;height:2px;background:linear-gradient(90deg,#009cff 0px,#00e3ff 4px,#4effb1 8px,#a3ff5c 12px,#e6ff19 16px,#ffdf00 20px,#ffb700 24px,#ff9d00 28px,#ff8b00 32px,#ff7c00 36px,#ff7700 40px,#ff7d00 44px,#ff8500 48px,#ff8e00 52px,#ff9a00 56px,#ffad00 60px,#ffc600 64px,#ffe200 68px,#fffa00 72px,#eeff11 76px,#d8ff27 80px,#beff41 84px,#a2ff5d 88px,#89ff76 92px,#75ff8a 96px,#61ff9e 100px,#4fffb0 104px,#39ffc6 108px,#1effe1 112px,#00fbff 116px,#00e5ff 120px,#00ceff 124px,#00b0ff 128px,#0098ff 132px,#0079ff 136px,#0064ff 140px,#0051ff 144px,#0040ff 148px,#002eff 152px,#001dff 156px,#000dff 160px,#0000fa 164px,#0000ec 168px,#0000e2 172px,#0000d9 176px,#0000cf 180px,#0000c5 184px,#0000bc 188px,#0000b2 192px,#0000b1 196px,#0000b0 198px)"></div><div style="position:absolute;left:0;top:176px;width:198px;height:2px;background:linear-gradient(90deg,#00a8ff 0px,#00efff 4px,#58ffa7 8px,#abff54 12px,#ebff14 16px,#ffdd00 20px,#ffb700 24px,#ff9f00 28px,#ff8f00 32px,#ff8200 36px,#ff8000 40px,#ff8700 44px,#ff8f00 48px,#ff9800 52px,#ffa400 56px,#ffb600 60px,#ffce00 64px,#ffe800 68px,#ffff00 72px,#eaff15 76px,#d6ff29 80px,#beff41 84px,#a2ff5d 88px,#89ff76 92px,#74ff8b 96px,#61ff9e 100px,#50ffaf 104px,#39ffc6 108px,#1effe1 112px,#00fbff 116px,#00e5ff 120px,#00cfff 124px,#00b2ff 128px,#009aff 132px,#0079ff 136px,#0064ff 140px,#0053ff 144px,#0042ff 148px,#0030ff 152px,#001eff 156px,#000eff 160px,#0000fc 164px,#0000ee 168px,#0000e4 172px,#0000da 176px,#0000d1 180px,#0000c6 184px,#0000bc 188px,#0000b2 192px,#0000b1 196px,#0000b1 198px)"></div><div style="position:absolute;left:0;top:178px;width:198px;height:2px;background:linear-gradient(90deg,#00b4ff 0px,#00fbff 4px,#63ff9c 8px,#b3ff4c 12px,#f0ff0f 16px,#ffdc00 20px,#ffb700 24px,#ffa200 28px,#ff9400 32px,#ff8900 36px,#ff8900 40px,#ff9100 44px,#ff9900 48px,#ffa200 52px,#ffad00 56px,#ffbf00 60px,#ffd500 64px,#ffee00 68px,#fbff04 72px,#e7ff18 76px,#d4ff2b 80px,#bdff42 84px,#a2ff5d 88px,#89ff76 92px,#74ff8b 96px,#62ff9d 100px,#50ffaf 104px,#39ffc6 108px,#1effe1 112px,#00fbff 116px,#00e5ff 120px,#00d0ff 124px,#00b4ff 128px,#009bff 132px,#007aff 136px,#0065ff 140px,#0054ff 144px,#0043ff 148px,#0031ff 152px,#001fff 156px,#000eff 160px,#0000fd 164px,#0000ef 168px,#0000e6 172px,#0000dc 176px,#0000d2 180px,#0000c7 184px,#0000bd 188px,#0000b2 192px,#0000b2 196px,#0000b2 198px)"></div><div style="position:absolute;left:0;top:180px;width:198px;height:2px;background:linear-gradient(90deg,#00bfff 0px,#07fff8 4px,#6dff92 8px,#bbff44 12px,#f5ff0a 16px,#ffda00 20px,#ffb700 24px,#ffa400 28px,#ff9800 32px,#ff9000 36px,#ff9200 40px,#ff9b00 44px,#ffa400 48px,#ffac00 52px,#ffb700 56px,#ffc800 60px,#ffdd00 64px,#fff400 68px,#f6ff09 72px,#e4ff1b 76px,#d3ff2c 80px,#bcff43 84px,#a3ff5c 88px,#89ff76 92px,#74ff8b 96px,#62ff9d 100px,#51ffae 104px,#39ffc6 108px,#1effe1 112px,#00fbff 116px,#00e5ff 120px,#00d2ff 124px,#00b6ff 128px,#009cff 132px,#007bff 136px,#0066ff 140px,#0055ff 144px,#0044ff 148px,#0032ff 152px,#0020ff 156px,#000fff 160px,#0000ff 164px,#0000f1 168px,#0000e7 172px,#0000de 176px,#0000d3 180px,#0000c8 184px,#0000bd 188px,#0000b2 192px,#0000b2 196px,#0000b2 198px)"></div><div style="position:absolute;left:0;top:182px;width:198px;height:2px;background:linear-gradient(90deg,#00bfff 0px,#07fff8 4px,#6dff92 8px,#bbff44 12px,#f5ff0a 16px,#ffda00 20px,#ffb700 24px,#ffa400 28px,#ff9800 32px,#ff9000 36px,#ff9200 40px,#ff9b00 44px,#ffa400 48px,#ffac00 52px,#ffb700 56px,#ffc800 60px,#ffdd00 64px,#fff400 68px,#f6ff09 72px,#e4ff1b 76px,#d3ff2c 80px,#bcff43 84px,#a3ff5c 88px,#89ff76 92px,#74ff8b 96px,#62ff9d 100px,#51ffae 104px,#39ffc6 108px,#1effe1 112px,#00fbff 116px,#00e5ff 120px,#00d2ff 124px,#00b6ff 128px,#009cff 132px,#007bff 136px,#0066ff 140px,#0055ff 144px,#0044ff 148px,#0032ff 152px,#0020ff 156px,#000fff 160px,#0000ff 164px,#0000f1 168px,#0000e7 172px,#0000de 176px,#0000d3 180px,#0000c8 184px,#0000bd 188px,#0000b2 192px,#0000b2 196px,#0000b2 198px)"></div><div style="position:absolute;left:0;top:184px;width:198px;height:1px;background:linear-gradient(90deg,#00bfff 0px,#07fff8 4px,#6dff92 8px,#bbff44 12px,#f5ff0a 16px,#ffda00 20px,#ffb700 24px,#ffa400 28px,#ff9800 32px,#ff9000 36px,#ff9200 40px,#ff9b00 44px,#ffa400 48px,#ffac00 52px,#ffb700 56px,#ffc800 60px,#ffdd00 64px,#fff400 68px,#f6ff09 72px,#e4ff1b 76px,#d3ff2c 80px,#bcff43 84px,#a3ff5c 88px,#89ff76 92px,#74ff8b 96px,#62ff9d 100px,#51ffae 104px,#39ffc6 108px,#1effe1 112px,#00fbff 116px,#00e5ff 120px,#00d2ff 124px,#00b6ff 128px,#009cff 132px,#007bff 136px,#0066ff 140px,#0055ff 144px,#0044ff 148px,#0032ff 152px,#0020ff 156px,#000fff 160px,#0000ff 164px,#0000f1 168px,#0000e7 172px,#0000de 176px,#0000d3 180px,#0000c8 184px,#0000bd 188px,#0000b2 192px,#0000b2 196px,#0000b2 198px)"></div><div style="position:absolute;left:142.2px;top:0.0px;width:8.7px;height:2.5px;background:#001bff"></div><div style="position:absolute;left:126.1px;top:5.0px;width:5.8px;height:2.5px;background:#4cffb3"></div><div style="position:absolute;left:128.9px;top:7.5px;width:2.9px;height:2.5px;background:#00b8ff"></div><div style="position:absolute;left:140.5px;top:7.5px;width:2.9px;height:2.5px;background:#00aaff"></div><div style="position:absolute;left:152.1px;top:7.5px;width:2.9px;height:2.5px;background:#0000dc"></div><div style="position:absolute;left:132.1px;top:10.0px;width:8.7px;height:2.5px;background:#008bff"></div><div style="position:absolute;left:146.6px;top:10.0px;width:5.8px;height:2.5px;background:#0061ff"></div><div style="position:absolute;left:131.4px;top:12.5px;width:5.8px;height:2.5px;background:#00a5ff"></div><div style="position:absolute;left:148.8px;top:12.5px;width:5.8px;height:2.5px;background:#003fff"></div><div style="position:absolute;left:138.5px;top:15.0px;width:5.8px;height:2.5px;background:#0069ff"></div><div style="position:absolute;left:131.1px;top:17.5px;width:5.8px;height:2.5px;background:#00f5ff"></div><div style="position:absolute;left:145.6px;top:17.5px;width:5.8px;height:2.5px;background:#005fff"></div><div style="position:absolute;left:144.7px;top:20.0px;width:5.8px;height:2.5px;background:#0065ff"></div><div style="position:absolute;left:143.8px;top:22.5px;width:2.9px;height:2.5px;background:#0072ff"></div><div style="position:absolute;left:152.5px;top:22.5px;width:8.7px;height:2.5px;background:#001aff"></div><div style="position:absolute;left:130.5px;top:25.0px;width:2.9px;height:2.5px;background:#05fffa"></div><div style="position:absolute;left:136.3px;top:25.0px;width:5.8px;height:2.5px;background:#0079ff"></div><div style="position:absolute;left:153.7px;top:25.0px;width:5.8px;height:2.5px;background:#0009ff"></div><div style="position:absolute;left:129.7px;top:27.5px;width:8.7px;height:2.5px;background:#00a1ff"></div><div style="position:absolute;left:132.6px;top:30.0px;width:2.9px;height:2.5px;background:#00afff"></div><div style="position:absolute;left:138.4px;top:30.0px;width:5.8px;height:2.5px;background:#003dff"></div><div style="position:absolute;left:156.8px;top:35.0px;width:2.9px;height:2.5px;background:#0000dd"></div><div style="position:absolute;left:143.6px;top:37.5px;width:2.9px;height:2.5px;background:#0071ff"></div><div style="position:absolute;left:139.5px;top:40.0px;width:8.7px;height:2.5px;background:#002eff"></div><div style="position:absolute;left:132.6px;top:42.5px;width:5.8px;height:2.5px;background:#00dbff"></div><div style="position:absolute;left:144.2px;top:42.5px;width:5.8px;height:2.5px;background:#0000fa"></div><div style="position:absolute;left:155.8px;top:42.5px;width:5.8px;height:2.5px;background:#0000ed"></div><div style="position:absolute;left:159.9px;top:45.0px;width:2.9px;height:2.5px;background:#000090"></div><div style="position:absolute;left:136.9px;top:47.5px;width:5.8px;height:2.5px;background:#00a1ff"></div><div style="position:absolute;left:148.5px;top:47.5px;width:5.8px;height:2.5px;background:#0000d6"></div><div style="position:absolute;left:145.1px;top:50.0px;width:8.7px;height:2.5px;background:#004aff"></div><div style="position:absolute;left:136.1px;top:52.5px;width:5.8px;height:2.5px;background:#00a8ff"></div><div style="position:absolute;left:156.4px;top:52.5px;width:8.7px;height:2.5px;background:#0000e0"></div><div style="position:absolute;left:152.9px;top:55.0px;width:2.9px;height:2.5px;background:#001eff"></div><div style="position:absolute;left:150.0px;top:57.5px;width:8.7px;height:2.5px;background:#000aff"></div><div style="position:absolute;left:136.9px;top:60.0px;width:2.9px;height:2.5px;background:#008bff"></div><div style="position:absolute;left:160.2px;top:62.5px;width:5.8px;height:2.5px;background:#0000c5"></div><div style="position:absolute;left:136.6px;top:65.0px;width:5.8px;height:2.5px;background:#007eff"></div><div style="position:absolute;left:151.1px;top:65.0px;width:2.9px;height:2.5px;background:#0013ff"></div><div style="position:absolute;left:162.7px;top:65.0px;width:8.7px;height:2.5px;background:#0000b7"></div><div style="position:absolute;left:139.6px;top:67.5px;width:8.7px;height:2.5px;background:#000bff"></div><div style="position:absolute;left:159.9px;top:67.5px;width:8.7px;height:2.5px;background:#00008d"></div><div style="position:absolute;left:142.6px;top:70.0px;width:5.8px;height:2.5px;background:#0056ff"></div><div style="position:absolute;left:157.1px;top:70.0px;width:8.7px;height:2.5px;background:#0000ea"></div><div style="position:absolute;left:152.6px;top:72.5px;width:8.7px;height:2.5px;background:#0000ae"></div><div style="position:absolute;left:144.3px;top:75.0px;width:5.8px;height:2.5px;background:#0000fd"></div><div style="position:absolute;left:155.9px;top:75.0px;width:5.8px;height:2.5px;background:#0000a8"></div><div style="position:absolute;left:142.0px;top:77.5px;width:5.8px;height:2.5px;background:#0016ff"></div><div style="position:absolute;left:153.6px;top:77.5px;width:2.9px;height:2.5px;background:#0000fb"></div><div style="position:absolute;left:141.2px;top:80.0px;width:2.9px;height:2.5px;background:#0069ff"></div><div style="position:absolute;left:155.7px;top:80.0px;width:5.8px;height:2.5px;background:#0000f8"></div><div style="position:absolute;left:140.3px;top:82.5px;width:8.7px;height:2.5px;background:#0047ff"></div><div style="position:absolute;left:154.8px;top:82.5px;width:5.8px;height:2.5px;background:#0000af"></div><div style="position:absolute;left:166.4px;top:82.5px;width:8.7px;height:2.5px;background:#000097"></div><div style="position:absolute;left:149.3px;top:85.0px;width:2.9px;height:2.5px;background:#0000f4"></div><div style="position:absolute;left:141.8px;top:87.5px;width:2.9px;height:2.5px;background:#004dff"></div><div style="position:absolute;left:156.3px;top:87.5px;width:5.8px;height:2.5px;background:#0000bb"></div><div style="position:absolute;left:166.6px;top:90.0px;width:5.8px;height:2.5px;background:#0000a0"></div><div style="position:absolute;left:147.7px;top:92.5px;width:5.8px;height:2.5px;background:#0000ef"></div><div style="position:absolute;left:159.3px;top:92.5px;width:8.7px;height:2.5px;background:#0000df"></div><div style="position:absolute;left:145.2px;top:95.0px;width:2.9px;height:2.5px;background:#0000fc"></div><div style="position:absolute;left:151.0px;top:95.0px;width:2.9px;height:2.5px;background:#0000ed"></div><div style="position:absolute;left:139.7px;top:97.5px;width:5.8px;height:2.5px;background:#001fff"></div><div style="position:absolute;left:168.7px;top:97.5px;width:2.9px;height:2.5px;background:#0000c3"></div><div style="position:absolute;left:142.8px;top:100.0px;width:8.7px;height:2.5px;background:#0042ff"></div><div style="position:absolute;left:142.6px;top:102.5px;width:5.8px;height:2.5px;background:#0043ff"></div><div style="position:absolute;left:154.2px;top:102.5px;width:5.8px;height:2.5px;background:#0003ff"></div><div style="position:absolute;left:148.9px;top:105.0px;width:5.8px;height:2.5px;background:#002eff"></div><div style="position:absolute;left:166.3px;top:105.0px;width:5.8px;height:2.5px;background:#0000b2"></div><div style="position:absolute;left:144.9px;top:107.5px;width:2.9px;height:2.5px;background:#0041ff"></div><div style="position:absolute;left:150.7px;top:107.5px;width:2.9px;height:2.5px;background:#0013ff"></div><div style="position:absolute;left:168.1px;top:107.5px;width:8.7px;height:2.5px;background:#0000b4"></div><div style="position:absolute;left:150.1px;top:110.0px;width:2.9px;height:2.5px;background:#001bff"></div><div style="position:absolute;left:158.8px;top:110.0px;width:5.8px;height:2.5px;background:#0000b6"></div><div style="position:absolute;left:147.8px;top:112.5px;width:2.9px;height:2.5px;background:#0003ff"></div><div style="position:absolute;left:162.3px;top:112.5px;width:5.8px;height:2.5px;background:#0000d2"></div><div style="position:absolute;left:154.3px;top:115.0px;width:5.8px;height:2.5px;background:#0000fa"></div><div style="position:absolute;left:155.9px;top:117.5px;width:5.8px;height:2.5px;background:#0000c9"></div><div style="position:absolute;left:167.5px;top:117.5px;width:5.8px;height:2.5px;background:#0000c0"></div><div style="position:absolute;left:166.1px;top:120.0px;width:5.8px;height:2.5px;background:#0000d2"></div><div style="position:absolute;left:159.1px;top:122.5px;width:5.8px;height:2.5px;background:#0000e9"></div><div style="position:absolute;left:160.1px;top:127.5px;width:5.8px;height:2.5px;background:#0000c8"></div><div style="position:absolute;left:171.7px;top:127.5px;width:8.7px;height:2.5px;background:#0000ab"></div><div style="position:absolute;left:145.8px;top:130.0px;width:5.8px;height:2.5px;background:#0046ff"></div><div style="position:absolute;left:160.3px;top:130.0px;width:5.8px;height:2.5px;background:#0000cd"></div><div style="position:absolute;left:169.0px;top:130.0px;width:2.9px;height:2.5px;background:#0000bd"></div><div style="position:absolute;left:174.5px;top:132.5px;width:8.7px;height:2.5px;background:#0000c0"></div></div><div style="position:absolute;left:256px;top:66px;width:1px;height:185px;background:#8a8a8a"></div><div style="position:absolute;left:259px;top:67px;width:4px;height:184px;background:linear-gradient(180deg,#800000 0.0%,#990000 2.5%,#b30000 5.0%,#cc0000 7.5%,#e50000 10.0%,#ff0000 12.5%,#ff1a00 15.0%,#ff3300 17.5%,#ff4c00 20.0%,#ff6600 22.5%,#ff8000 25.0%,#ff9900 27.5%,#ffb300 30.0%,#ffcc00 32.5%,#ffe500 35.0%,#ffff00 37.5%,#e5ff1a 40.0%,#ccff33 42.5%,#b3ff4c 45.0%,#99ff66 47.5%,#80ff80 50.0%,#66ff99 52.5%,#4cffb3 55.0%,#33ffcc 57.5%,#1affe5 60.0%,#00ffff 62.5%,#00e5ff 65.0%,#00ccff 67.5%,#00b3ff 70.0%,#0099ff 72.5%,#0080ff 75.0%,#0066ff 77.5%,#004cff 80.0%,#0033ff 82.5%,#001aff 85.0%,#0000ff 87.5%,#0000e5 90.0%,#0000cc 92.5%,#0000b3 95.0%,#000099 97.5%,#000080 100.0%)"></div><div class="p" style="position:absolute;left:374.6px;top:31px;width:112.3px;height:225px;overflow:hidden;background:#000"><i style="top:0px;background:linear-gradient(90deg,#000 88px,#020000 88px,#040000 91px,#080000 94px,#0c0000 97px,#110000 100px,#140000 103px,#140000 106px,#120000 109px,#0d0000 112px,#000 115px)"></i><i style="top:1px;background:linear-gradient(90deg,#000 87px,#020000 87px,#040000 90px,#070000 93px,#0c0000 96px,#110000 99px,#150000 102px,#160000 105px,#140000 108px,#0f0000 111px,#000 114px)"></i><i style="top:2px;background:linear-gradient(90deg,#000 86px,#020000 86px,#040000 89px,#070000 92px,#0c0000 95px,#110000 98px,#150000 101px,#170000 104px,#160000 107px,#110000 110px,#000 113px)"></i><i style="top:3px;background:linear-gradient(90deg,#000 86px,#020000 86px,#040000 89px,#080000 92px,#0d0000 95px,#130000 98px,#170000 101px,#190000 104px,#160000 107px,#120000 110px,#000 113px)"></i><i style="top:4px;background:linear-gradient(90deg,#000 85px,#020000 85px,#040000 88px,#080000 91px,#0d0000 94px,#130000 97px,#180000 100px,#1a0000 103px,#190000 106px,#140000 109px,#0e0000 112px,#000 115px)"></i><i style="top:5px;background:linear-gradient(90deg,#000 84px,#020000 84px,#040000 87px,#070000 90px,#0d0000 93px,#130000 96px,#190000 99px,#1c0000 102px,#1b0000 105px,#160000 108px,#100000 111px,#000 114px)"></i><i style="top:6px;background:linear-gradient(90deg,#000 84px,#020000 84px,#040000 87px,#080000 90px,#0e0000 93px,#150000 96px,#1b0000 99px,#1d0000 102px,#1c0000 105px,#170000 108px,#100000 111px,#000 114px)"></i><i style="top:7px;background:linear-gradient(90deg,#000 83px,#020000 83px,#040000 86px,#080000 89px,#0e0000 92px,#150000 95px,#1c0000 98px,#1f0000 101px,#1e0000 104px,#190000 107px,#120000 110px,#000 113px)"></i><i style="top:8px;background:linear-gradient(90deg,#000 82px,#020000 82px,#040000 85px,#080000 88px,#0e0000 91px,#150000 94px,#1c0000 97px,#210000 100px,#200000 103px,#1c0000 106px,#150000 109px,#0d0000 112px,#000 115px)"></i><i style="top:9px;background:linear-gradient(90deg,#000 82px,#020000 82px,#040000 85px,#090000 88px,#100000 91px,#180000 94px,#1f0000 97px,#230000 100px,#220000 103px,#1c0000 106px,#150000 109px,#0d0000 112px,#000 115px)"></i><i style="top:10px;background:linear-gradient(90deg,#000 81px,#020000 81px,#040000 84px,#080000 87px,#0f0000 90px,#180000 93px,#200000 96px,#240000 99px,#240000 102px,#1f0000 105px,#170000 108px,#0f0000 111px,#000 114px)"></i><i style="top:11px;background:linear-gradient(90deg,#000 80px,#010000 80px,#040000 83px,#080000 86px,#0f0000 89px,#170000 92px,#200000 95px,#260000 98px,#270000 101px,#220000 104px,#1a0000 107px,#110000 110px,#000 113px)"></i><i style="top:12px;background:linear-gradient(90deg,#000 80px,#020000 80px,#040000 83px,#090000 86px,#110000 89px,#1a0000 92px,#230000 95px,#290000 98px,#290000 101px,#230000 104px,#1a0000 107px,#110000 110px,#000 113px)"></i><i style="top:13px;background:linear-gradient(90deg,#000 79px,#020000 79px,#040000 82px,#090000 85px,#100000 88px,#1a0000 91px,#240000 94px,#2a0000 97px,#2c0000 100px,#270000 103px,#1e0000 106px,#130000 109px,#0b0000 112px,#000 115px)"></i><i style="top:14px;background:linear-gradient(90deg,#000 79px,#020000 79px,#050000 82px,#0a0000 85px,#120000 88px,#1d0000 91px,#270000 94px,#2d0000 97px,#2e0000 100px,#270000 103px,#1d0000 106px,#130000 109px,#0b0000 112px,#000 115px)"></i><i style="top:15px;background:linear-gradient(90deg,#000 78px,#020000 78px,#040000 81px,#0a0000 84px,#120000 87px,#1c0000 90px,#270000 93px,#2f0000 96px,#310000 99px,#2b0000 102px,#210000 105px,#160000 108px,#0d0000 111px,#000 114px)"></i><i style="top:16px;background:linear-gradient(90deg,#000 77px,#020000 77px,#040000 80px,#090000 83px,#110000 86px,#1c0000 89px,#280000 92px,#310000 95px,#340000 98px,#2f0000 101px,#250000 104px,#190000 107px,#0f0000 110px,#000 113px)"></i><i style="top:17px;background:linear-gradient(90deg,#000 77px,#020000 77px,#050000 80px,#0a0000 83px,#140000 86px,#1f0000 89px,#2c0000 92px,#340000 95px,#360000 98px,#300000 101px,#250000 104px,#190000 107px,#0e0000 110px,#000 113px)"></i><i style="top:18px;background:linear-gradient(90deg,#000 76px,#020000 76px,#040000 79px,#0a0000 82px,#130000 85px,#1f0000 88px,#2c0000 91px,#360000 94px,#390000 97px,#350000 100px,#290000 103px,#1c0000 106px,#110000 109px,#080000 112px,#000 115px)"></i><i style="top:19px;background:linear-gradient(90deg,#000 75px,#010000 75px,#040000 78px,#090000 81px,#120000 84px,#1e0000 87px,#2c0000 90px,#370000 93px,#3c0000 96px,#390000 99px,#2e0000 102px,#200000 105px,#130000 108px,#0a0000 111px,#000 114px)"></i><i style="top:20px;background:linear-gradient(90deg,#000 75px,#020000 75px,#050000 78px,#0b0000 81px,#140000 84px,#220000 87px,#300000 90px,#3c0000 93px,#400000 96px,#3a0000 99px,#2e0000 102px,#200000 105px,#130000 108px,#090000 111px,#000 114px)"></i><i style="top:21px;background:linear-gradient(90deg,#000 74px,#020000 74px,#040000 77px,#0a0000 80px,#130000 83px,#210000 86px,#300000 89px,#3d0000 92px,#430000 95px,#3f0000 98px,#330000 101px,#240000 104px,#160000 107px,#0b0000 110px,#000 113px)"></i><i style="top:22px;background:linear-gradient(90deg,#000 73px,#010000 73px,#040000 76px,#090000 79px,#120000 82px,#200000 85px,#300000 88px,#3e0000 91px,#460000 94px,#440000 97px,#390000 100px,#290000 103px,#190000 106px,#0e0000 109px,#060000 112px,#000 115px)"></i><i style="top:23px;background:linear-gradient(90deg,#000 73px,#020000 73px,#050000 76px,#0b0000 79px,#150000 82px,#240000 85px,#350000 88px,#430000 91px,#4a0000 94px,#460000 97px,#390000 100px,#280000 103px,#180000 106px,#0d0000 109px,#060000 112px,#000 115px)"></i><i style="top:24px;background:linear-gradient(90deg,#000 72px,#020000 72px,#040000 75px,#0a0000 78px,#140000 81px,#230000 84px,#350000 87px,#450000 90px,#4d0000 93px,#4b0000 96px,#3f0000 99px,#2d0000 102px,#1c0000 105px,#0f0000 108px,#070000 111px,#000 114px)"></i><i style="top:25px;background:linear-gradient(90deg,#000 72px,#020000 72px,#050000 75px,#0b0000 78px,#170000 81px,#270000 84px,#3a0000 87px,#4a0000 90px,#520000 93px,#4d0000 96px,#3f0000 99px,#2d0000 102px,#1b0000 105px,#0e0000 108px,#060000 111px,#000 114px)"></i><i style="top:26px;background:linear-gradient(90deg,#000 71px,#020000 71px,#040000 74px,#0a0000 77px,#150000 80px,#260000 83px,#390000 86px,#4b0000 89px,#550000 92px,#530000 95px,#460000 98px,#330000 101px,#200000 104px,#110000 107px,#080000 110px,#000 113px)"></i><i style="top:27px;background:linear-gradient(90deg,#000 70px,#010000 70px,#040000 73px,#0a0000 76px,#140000 79px,#240000 82px,#380000 85px,#4c0000 88px,#580000 91px,#580000 94px,#4c0000 97px,#390000 100px,#240000 103px,#140000 106px,#0a0000 109px,#040000 112px,#000 115px)"></i><i style="top:28px;background:linear-gradient(90deg,#000 70px,#020000 70px,#050000 73px,#0b0000 76px,#170000 79px,#290000 82px,#3f0000 85px,#520000 88px,#5d0000 91px,#5b0000 94px,#4d0000 97px,#380000 100px,#230000 103px,#130000 106px,#090000 109px,#040000 112px,#000 115px)"></i><i style="top:29px;background:linear-gradient(90deg,#000 69px,#010000 69px,#040000 72px,#0a0000 75px,#160000 78px,#270000 81px,#3d0000 84px,#530000 87px,#610000 90px,#610000 93px,#540000 96px,#3f0000 99px,#290000 102px,#170000 105px,#0b0000 108px,#040000 111px,#000 114px)"></i><i style="top:30px;background:linear-gradient(90deg,#000 69px,#020000 69px,#050000 72px,#0c0000 75px,#190000 78px,#2c0000 81px,#440000 84px,#5a0000 87px,#660000 90px,#640000 93px,#550000 96px,#3e0000 99px,#270000 102px,#150000 105px,#0a0000 108px,#040000 111px,#000 114px)"></i><i style="top:31px;background:linear-gradient(90deg,#000 68px,#020000 68px,#040000 71px,#0b0000 74px,#170000 77px,#2a0000 80px,#430000 83px,#5a0000 86px,#6a0000 89px,#6b0000 92px,#5d0000 95px,#460000 98px,#2d0000 101px,#190000 104px,#0c0000 107px,#050000 110px,#000 113px)"></i><i style="top:32px;background:linear-gradient(90deg,#000 67px,#010000 67px,#040000 70px,#0a0000 73px,#150000 76px,#280000 79px,#410000 82px,#5a0000 85px,#6d0000 88px,#710000 91px,#650000 94px,#4d0000 97px,#330000 100px,#1e0000 103px,#0f0000 106px,#060000 109px,#020000 112px,#000 115px)"></i><i style="top:33px;background:linear-gradient(90deg,#000 67px,#020000 67px,#050000 70px,#0c0000 73px,#190000 76px,#2e0000 79px,#480000 82px,#620000 85px,#730000 88px,#750000 91px,#660000 94px,#4d0000 97px,#320000 100px,#1c0000 103px,#0e0000 106px,#060000 109px,#020000 112px,#000 115px)"></i><i style="top:34px;background:linear-gradient(90deg,#000 66px,#010000 66px,#040000 69px,#0b0000 72px,#170000 75px,#2b0000 78px,#460000 81px,#620000 84px,#760000 87px,#7b0000 90px,#6e0000 93px,#550000 96px,#390000 99px,#210000 102px,#100000 105px,#070000 108px,#030000 111px,#000 114px)"></i><i style="top:35px;background:linear-gradient(90deg,#000 66px,#020000 66px,#050000 69px,#0d0000 72px,#1b0000 75px,#310000 78px,#4e0000 81px,#6a0000 84px,#7d0000 87px,#800000 90px,#700000 93px,#550000 96px,#370000 99px,#1f0000 102px,#0f0000 105px,#060000 108px,#020000 111px,#000 114px)"></i><i style="top:36px;background:linear-gradient(90deg,#000 65px,#020000 65px,#040000 68px,#0b0000 71px,#190000 74px,#2f0000 77px,#4c0000 80px,#6a0000 83px,#810000 86px,#860000 89px,#790000 92px,#5e0000 95px,#3f0000 98px,#240000 101px,#120000 104px,#080000 107px,#030000 110px,#000 113px)"></i><i style="top:37px;background:linear-gradient(90deg,#000 65px,#020000 65px,#050000 68px,#0d0000 71px,#1d0000 74px,#350000 77px,#540000 80px,#730000 83px,#880000 86px,#8b0000 89px,#7a0000 92px,#5d0000 95px,#3d0000 98px,#220000 101px,#110000 104px,#070000 107px,#030000 110px,#000 113px)"></i><i style="top:38px;background:linear-gradient(90deg,#000 64px,#020000 64px,#050000 67px,#0c0000 70px,#1a0000 73px,#320000 76px,#510000 79px,#730000 82px,#8b0000 85px,#920000 88px,#840000 91px,#670000 94px,#450000 97px,#280000 100px,#140000 103px,#090000 106px,#030000 109px,#000 112px)"></i><i style="top:39px;background:linear-gradient(90deg,#000 63px,#010000 63px,#040000 66px,#0b0000 69px,#180000 72px,#2f0000 75px,#4f0000 78px,#720000 81px,#8e0000 84px,#980000 87px,#8d0000 90px,#710000 93px,#4e0000 96px,#2f0000 99px,#180000 102px,#0b0000 105px,#040000 108px,#010000 111px,#000 114px)"></i><i style="top:40px;background:linear-gradient(90deg,#000 63px,#020000 63px,#050000 66px,#0d0000 69px,#1c0000 72px,#350000 75px,#570000 78px,#7c0000 81px,#970000 84px,#9e0000 87px,#900000 90px,#700000 93px,#4c0000 96px,#2c0000 99px,#160000 102px,#0a0000 105px,#040000 108px,#000 111px)"></i><i style="top:41px;background:linear-gradient(90deg,#000 62px,#010000 62px,#040000 65px,#0b0000 68px,#1a0000 71px,#320000 74px,#540000 77px,#7a0000 80px,#990000 83px,#a50000 86px,#9a0000 89px,#7c0000 92px,#560000 95px,#330000 98px,#1a0000 101px,#0c0000 104px,#040000 107px,#010000 110px,#000 113px)"></i><i style="top:42px;background:linear-gradient(90deg,#000 62px,#020000 62px,#050000 65px,#0d0000 68px,#1e0000 71px,#390000 74px,#5e0000 77px,#850000 80px,#a30000 83px,#ac0000 86px,#9c0000 89px,#7b0000 92px,#530000 95px,#310000 98px,#180000 101px,#0b0000 104px,#040000 107px,#010000 110px,#000 113px)"></i><i style="top:43px;background:linear-gradient(90deg,#000 61px,#010000 61px,#050000 64px,#0c0000 67px,#1b0000 70px,#350000 73px,#5a0000 76px,#830000 79px,#a50000 82px,#b30000 85px,#a70000 88px,#870000 91px,#5e0000 94px,#380000 97px,#1d0000 100px,#0d0000 103px,#050000 106px,#020000 109px,#000 112px)"></i><i style="top:44px;background:linear-gradient(90deg,#000 61px,#020000 61px,#060000 64px,#0e0000 67px,#200000 70px,#3c0000 73px,#640000 76px,#8e0000 79px,#af0000 82px,#b90000 85px,#a90000 88px,#860000 91px,#5b0000 94px,#350000 97px,#1b0000 100px,#0c0000 103px,#040000 106px,#010000 109px,#000 112px)"></i><i style="top:45px;background:linear-gradient(90deg,#000 60px,#020000 60px,#050000 63px,#0d0000 66px,#1d0000 69px,#390000 72px,#600000 75px,#8c0000 78px,#b10000 81px,#c10000 84px,#b50000 87px,#920000 90px,#660000 93px,#3e0000 96px,#200000 99px,#0e0000 102px,#060000 105px,#020000 108px,#000 111px)"></i><i style="top:46px;background:linear-gradient(90deg,#000 59px,#010000 59px,#040000 62px,#0b0000 65px,#1a0000 68px,#350000 71px,#5b0000 74px,#890000 77px,#b20000 80px,#c70000 83px,#c00000 86px,#9f0000 89px,#720000 92px,#470000 95px,#260000 98px,#110000 101px,#070000 104px,#020000 107px,#000 110px)"></i><i style="top:47px;background:linear-gradient(90deg,#000 59px,#020000 59px,#050000 62px,#0d0000 65px,#1e0000 68px,#3c0000 71px,#660000 74px,#960000 77px,#be0000 80px,#cf0000 83px,#c30000 86px,#9f0000 89px,#6f0000 92px,#430000 95px,#230000 98px,#100000 101px,#060000 104px,#020000 107px,#000 110px)"></i><i style="top:48px;background:linear-gradient(90deg,#000 58px,#010000 58px,#040000 61px,#0c0000 64px,#1b0000 67px,#380000 70px,#610000 73px,#920000 76px,#bf0000 79px,#d60000 82px,#cf0000 85px,#ad0000 88px,#7c0000 91px,#4d0000 94px,#290000 97px,#130000 100px,#080000 103px,#030000 106px,#000 109px)"></i><i style="top:49px;background:linear-gradient(90deg,#000 58px,#020000 58px,#050000 61px,#0e0000 64px,#200000 67px,#3f0000 70px,#6c0000 73px,#a00000 76px,#cb0000 79px,#de0000 82px,#d20000 85px,#ac0000 88px,#790000 91px,#490000 94px,#260000 97px,#110000 100px,#070000 103px,#020000 106px,#000 109px)"></i><i style="top:50px;background:linear-gradient(90deg,#000 57px,#010000 57px,#040000 60px,#0c0000 63px,#1d0000 66px,#3b0000 69px,#670000 72px,#9c0000 75px,#cb0000 78px,#e50000 81px,#df0000 84px,#bb0000 87px,#870000 90px,#540000 93px,#2d0000 96px,#150000 99px,#080000 102px,#030000 105px,#000 108px)"></i><i style="top:51px;background:linear-gradient(90deg,#000 57px,#020000 57px,#050000 60px,#0e0000 63px,#210000 66px,#430000 69px,#720000 72px,#a90000 75px,#d80000 78px,#ee0000 81px,#e20000 84px,#ba0000 87px,#830000 90px,#500000 93px,#2a0000 96px,#130000 99px,#070000 102px,#030000 105px,#000 108px)"></i><i style="top:52px;background:linear-gradient(90deg,#000 56px,#010000 56px,#050000 59px,#0d0000 62px,#1e0000 65px,#3d0000 68px,#6c0000 71px,#a50000 74px,#d80000 77px,#f50000 80px,#ef0000 83px,#c90000 86px,#920000 89px,#5b0000 92px,#310000 95px,#170000 98px,#090000 101px,#030000 104px,#000 107px)"></i><i style="top:53px;background:linear-gradient(90deg,#000 56px,#020000 56px,#060000 59px,#0f0000 62px,#230000 65px,#460000 68px,#790000 71px,#b30000 74px,#e60000 77px,#ff0000 80px,#f30000 83px,#c80000 86px,#8e0000 89px,#570000 92px,#2e0000 95px,#150000 98px,#080000 101px,#030000 104px,#000 107px)"></i><i style="top:54px;background:linear-gradient(90deg,#000 55px,#010000 55px,#050000 58px,#0d0000 61px,#1f0000 64px,#400000 67px,#720000 70px,#ae0000 73px,#e60000 76px,#ff0600 79px,#ff0100 82px,#d80000 85px,#9e0000 88px,#630000 91px,#360000 94px,#190000 97px,#0a0000 100px,#040000 103px,#000 106px)"></i><i style="top:55px;background:linear-gradient(90deg,#000 54px,#010000 54px,#040000 57px,#0b0000 60px,#1c0000 63px,#3b0000 66px,#6b0000 69px,#a80000 72px,#e40000 75px,#ff0b00 78px,#ff0d00 81px,#e90000 84px,#af0000 87px,#710000 90px,#3f0000 93px,#1e0000 96px,#0d0000 99px,#040000 102px,#010000 105px,#000 108px)"></i><i style="top:56px;background:linear-gradient(90deg,#000 54px,#020000 54px,#050000 57px,#0e0000 60px,#210000 63px,#430000 66px,#780000 69px,#b80000 72px,#f30000 75px,#ff1700 78px,#ff1300 81px,#e80000 84px,#aa0000 87px,#6c0000 90px,#3b0000 93px,#1c0000 96px,#0b0000 99px,#040000 102px,#000 105px)"></i><i style="top:57px;background:linear-gradient(90deg,#000 53px,#010000 53px,#040000 56px,#0c0000 59px,#1d0000 62px,#3e0000 65px,#700000 68px,#b10000 71px,#f10000 74px,#ff1c00 77px,#ff1f00 80px,#fa0000 83px,#bc0000 86px,#7a0000 89px,#440000 92px,#210000 95px,#0e0000 98px,#050000 101px,#020000 104px,#000 107px)"></i><i style="top:58px;background:linear-gradient(90deg,#000 53px,#020000 53px,#050000 56px,#0e0000 59px,#220000 62px,#460000 65px,#7d0000 68px,#c10000 71px,#ff0200 74px,#ff2800 77px,#ff2500 80px,#f90000 83px,#b70000 86px,#740000 89px,#400000 92px,#1e0000 95px,#0c0000 98px,#040000 101px,#010000 104px,#000 107px)"></i><i style="top:59px;background:linear-gradient(90deg,#000 52px,#010000 52px,#040000 55px,#0c0000 58px,#1e0000 61px,#400000 64px,#760000 67px,#ba0000 70px,#fe0000 73px,#ff2d00 76px,#ff3100 79px,#ff0c00 82px,#ca0000 85px,#830000 88px,#4a0000 91px,#240000 94px,#0f0000 97px,#050000 100px,#020000 103px,#000 106px)"></i><i style="top:60px;background:linear-gradient(90deg,#000 52px,#020000 52px,#050000 55px,#0f0000 58px,#230000 61px,#490000 64px,#830000 67px,#cb0000 70px,#ff1000 73px,#ff3900 76px,#ff3700 79px,#ff0b00 82px,#c40000 85px,#7d0000 88px,#450000 91px,#210000 94px,#0d0000 97px,#050000 100px,#010000 103px,#000 106px)"></i><i style="top:61px;background:linear-gradient(90deg,#000 51px,#010000 51px,#040000 54px,#0d0000 57px,#1f0000 60px,#420000 63px,#7b0000 66px,#c30000 69px,#ff0d00 72px,#ff3e00 75px,#ff4400 78px,#ff1d00 81px,#d80000 84px,#8d0000 87px,#500000 90px,#270000 93px,#100000 96px,#060000 99px,#020000 102px,#000 105px)"></i><i style="top:62px;background:linear-gradient(90deg,#000 51px,#020000 51px,#050000 54px,#0f0000 57px,#240000 60px,#4c0000 63px,#890000 66px,#d50000 69px,#ff1e00 72px,#ff4b00 75px,#ff4a00 78px,#ff1c00 81px,#d20000 84px,#870000 87px,#4a0000 90px,#230000 93px,#0f0000 96px,#050000 99px,#020000 102px,#000 105px)"></i><i style="top:63px;background:linear-gradient(90deg,#000 50px,#010000 50px,#040000 53px,#0d0000 56px,#200000 59px,#450000 62px,#800000 65px,#cc0000 68px,#ff1a00 71px,#ff4f00 74px,#ff5700 77px,#ff3000 80px,#e70000 83px,#980000 86px,#560000 89px,#2a0000 92px,#120000 95px,#060000 98px,#020000 101px,#000 104px)"></i><i style="top:64px;background:linear-gradient(90deg,#000 50px,#020000 50px,#050000 53px,#0f0000 56px,#250000 59px,#4e0000 62px,#8e0000 65px,#de0000 68px,#ff2c00 71px,#ff5d00 74px,#ff5d00 77px,#ff2e00 80px,#e10000 83px,#900000 86px,#500000 89px,#260000 92px,#100000 95px,#060000 98px,#020000 101px,#000 104px)"></i><i style="top:65px;background:linear-gradient(90deg,#000 49px,#010000 49px,#050000 52px,#0d0000 55px,#210000 58px,#470000 61px,#840000 64px,#d50000 67px,#ff2700 70px,#ff6000 73px,#ff6b00 76px,#ff4200 79px,#f60000 82px,#a30000 85px,#5d0000 88px,#2e0000 91px,#130000 94px,#070000 97px,#020000 100px,#000 103px)"></i><i style="top:66px;background:linear-gradient(90deg,#000 49px,#020000 49px,#060000 52px,#100000 55px,#260000 58px,#510000 61px,#930000 64px,#e70000 67px,#ff3a00 70px,#ff6f00 73px,#ff7100 76px,#ff4100 79px,#ef0000 82px,#9b0000 85px,#560000 88px,#290000 91px,#110000 94px,#060000 97px,#020000 100px,#000 103px)"></i><i style="top:67px;background:linear-gradient(90deg,#000 48px,#010000 48px,#050000 51px,#0d0000 54px,#220000 57px,#490000 60px,#890000 63px,#dd0000 66px,#ff3400 69px,#ff7200 72px,#ff7e00 75px,#ff5500 78px,#ff0700 81px,#ae0000 84px,#630000 87px,#310000 90px,#150000 93px,#080000 96px,#020000 99px,#000 102px)"></i><i style="top:68px;background:linear-gradient(90deg,#000 48px,#020000 48px,#060000 51px,#100000 54px,#270000 57px,#540000 60px,#990000 63px,#f10000 66px,#ff4800 69px,#ff8100 72px,#ff8500 75px,#ff5300 78px,#fe0000 81px,#a50000 84px,#5c0000 87px,#2d0000 90px,#130000 93px,#070000 96px,#020000 99px,#000 102px)"></i><i style="top:69px;background:linear-gradient(90deg,#000 47px,#010000 47px,#050000 50px,#0e0000 53px,#220000 56px,#4b0000 59px,#8d0000 62px,#e50000 65px,#ff4100 68px,#ff8300 71px,#ff9200 74px,#ff6900 77px,#ff1700 80px,#ba0000 83px,#6b0000 86px,#350000 89px,#170000 92px,#080000 95px,#030000 98px,#000 101px)"></i><i style="top:70px;background:linear-gradient(90deg,#000 47px,#020000 47px,#060000 50px,#100000 53px,#270000 56px,#540000 59px,#9b0000 62px,#f70000 65px,#ff5400 68px,#ff9100 71px,#ff9900 74px,#ff6800 77px,#ff1200 80px,#b20000 83px,#650000 86px,#310000 89px,#150000 92px,#070000 95px,#020000 98px,#000 101px)"></i><i style="top:71px;background:linear-gradient(90deg,#000 46px,#010000 46px,#050000 49px,#0d0000 52px,#220000 55px,#4b0000 58px,#8e0000 61px,#e90000 64px,#ff4a00 67px,#ff9200 70px,#ffa600 73px,#ff7f00 76px,#ff2b00 79px,#c90000 82px,#750000 85px,#3b0000 88px,#190000 91px,#090000 94px,#030000 97px,#000 100px)"></i><i style="top:72px;background:linear-gradient(90deg,#000 46px,#020000 46px,#050000 49px,#100000 52px,#270000 55px,#540000 58px,#9d0000 61px,#fc0000 64px,#ff5e00 67px,#ffa100 70px,#ffae00 73px,#ff7e00 76px,#ff2500 79px,#c10000 82px,#6e0000 85px,#360000 88px,#170000 91px,#080000 94px,#030000 97px,#000 100px)"></i><i style="top:73px;background:linear-gradient(90deg,#000 45px,#010000 45px,#040000 48px,#0d0000 51px,#220000 54px,#4b0000 57px,#8f0000 60px,#ed0000 63px,#ff5300 66px,#ffa100 69px,#ffba00 72px,#ff9500 75px,#ff4000 78px,#d90000 81px,#7f0000 84px,#400000 87px,#1c0000 90px,#0b0000 93px,#030000 96px,#000 99px)"></i><i style="top:74px;background:linear-gradient(90deg,#000 45px,#020000 45px,#050000 48px,#0f0000 51px,#270000 54px,#540000 57px,#9e0000 60px,#ff0100 63px,#ff6700 66px,#ffb100 69px,#ffc200 72px,#ff9400 75px,#ff3900 78px,#d00000 81px,#780000 84px,#3c0000 87px,#190000 90px,#090000 93px,#030000 96px,#000 99px)"></i><i style="top:75px;background:linear-gradient(90deg,#000 44px,#010000 44px,#040000 47px,#0d0000 50px,#210000 53px,#4a0000 56px,#900000 59px,#f00000 62px,#ff5b00 65px,#ffaf00 68px,#ffce00 71px,#ffab00 74px,#ff5400 77px,#e90000 80px,#8a0000 83px,#470000 86px,#1f0000 89px,#0c0000 92px,#040000 95px,#000 98px)"></i><i style="top:76px;background:linear-gradient(90deg,#000 44px,#010000 44px,#050000 47px,#0f0000 50px,#260000 53px,#540000 56px,#9f0000 59px,#ff0500 62px,#ff7000 65px,#ffc000 68px,#ffd600 71px,#ffaa00 74px,#ff4d00 77px,#e00000 80px,#820000 83px,#410000 86px,#1c0000 89px,#0b0000 92px,#030000 95px,#000 98px)"></i><i style="top:77px;background:linear-gradient(90deg,#000 44px,#020000 44px,#060000 47px,#110000 50px,#2b0000 53px,#5e0000 56px,#ae0000 59px,#ff1900 62px,#ff8400 65px,#ffd000 68px,#ffde00 71px,#ffa800 74px,#ff4500 77px,#d60000 80px,#7a0000 83px,#3c0000 86px,#190000 89px,#090000 92px,#030000 95px,#000 98px)"></i><i style="top:78px;background:linear-gradient(90deg,#000 43px,#010000 43px,#050000 46px,#0e0000 49px,#250000 52px,#530000 55px,#9f0000 58px,#ff0800 61px,#ff7800 64px,#ffce00 67px,#ffea00 70px,#ffc000 73px,#ff6200 76px,#f00000 79px,#8d0000 82px,#470000 85px,#1f0000 88px,#0c0000 91px,#040000 94px,#000 97px)"></i><i style="top:79px;background:linear-gradient(90deg,#000 43px,#020000 43px,#060000 46px,#110000 49px,#2b0000 52px,#5d0000 55px,#af0000 58px,#ff1c00 61px,#ff8d00 64px,#ffde00 67px,#fff100 70px,#ffbe00 73px,#ff5a00 76px,#e60000 79px,#840000 82px,#420000 85px,#1c0000 88px,#0a0000 91px,#030000 94px,#000 97px)"></i><i style="top:80px;background:linear-gradient(90deg,#000 42px,#010000 42px,#050000 45px,#0e0000 48px,#240000 51px,#520000 54px,#9f0000 57px,#ff0a00 60px,#ff7e00 63px,#ffdb00 66px,#fffd00 69px,#ffd600 72px,#ff7700 75px,#ff0200 78px,#980000 81px,#4e0000 84px,#220000 87px,#0d0000 90px,#040000 93px,#010000 96px,#000 99px)"></i><i style="top:81px;background:linear-gradient(90deg,#000 42px,#020000 42px,#060000 45px,#100000 48px,#2a0000 51px,#5c0000 54px,#ae0000 57px,#ff1e00 60px,#ff9400 63px,#ffec00 66px,#ffff08 69px,#ffd400 72px,#ff6e00 75px,#f60000 78px,#8f0000 81px,#480000 84px,#1f0000 87px,#0c0000 90px,#040000 93px,#000 96px)"></i><i style="top:82px;background:linear-gradient(90deg,#000 41px,#010000 41px,#040000 44px,#0e0000 47px,#240000 50px,#510000 53px,#9e0000 56px,#ff0b00 59px,#ff8400 62px,#ffe700 65px,#ffff17 68px,#ffec00 71px,#ff8c00 74px,#ff1300 77px,#a40000 80px,#550000 83px,#260000 86px,#0f0000 89px,#050000 92px,#010000 95px,#000 98px)"></i><i style="top:83px;background:linear-gradient(90deg,#000 41px,#020000 41px,#050000 44px,#100000 47px,#290000 50px,#5a0000 53px,#ae0000 56px,#ff2000 59px,#ff9a00 62px,#fff800 65px,#ffff24 68px,#ffea00 71px,#ff8300 74px,#ff0800 77px,#9a0000 80px,#4e0000 83px,#220000 86px,#0d0000 89px,#040000 92px,#010000 95px,#000 98px)"></i><i style="top:84px;background:linear-gradient(90deg,#000 40px,#010000 40px,#040000 43px,#0d0000 46px,#230000 49px,#4f0000 52px,#9d0000 55px,#ff0c00 58px,#ff8900 61px,#fff200 64px,#ffff31 67px,#ffff02 70px,#ffa100 73px,#ff2500 76px,#b00000 79px,#5c0000 82px,#290000 85px,#100000 88px,#050000 91px,#020000 94px,#000 97px)"></i><i style="top:85px;background:linear-gradient(90deg,#000 40px,#010000 40px,#050000 43px,#0f0000 46px,#280000 49px,#590000 52px,#ac0000 55px,#ff2100 58px,#ff9f00 61px,#ffff07 64px,#ffff3e 67px,#ffff00 70px,#ff9700 73px,#ff1800 76px,#a60000 79px,#550000 82px,#250000 85px,#0e0000 88px,#050000 91px,#010000 94px,#000 97px)"></i><i style="top:86px;background:linear-gradient(90deg,#000 40px,#020000 40px,#060000 43px,#120000 46px,#2d0000 49px,#630000 52px,#bd0000 55px,#ff3600 58px,#ffb600 61px,#ffff21 64px,#ffff49 67px,#fffb00 70px,#ff8d00 73px,#ff0c00 76px,#9b0000 79px,#4e0000 82px,#220000 85px,#0d0000 88px,#040000 91px,#000 94px)"></i><i style="top:87px;background:linear-gradient(90deg,#000 39px,#010000 39px,#050000 42px,#0f0000 45px,#260000 48px,#570000 51px,#ab0000 54px,#ff2100 57px,#ffa300 60px,#ffff16 63px,#ffff57 66px,#ffff1e 69px,#ffac00 72px,#ff2900 75px,#b10000 78px,#5c0000 81px,#290000 84px,#100000 87px,#050000 90px,#010000 93px,#000 96px)"></i><i style="top:88px;background:linear-gradient(90deg,#000 39px,#020000 39px,#060000 42px,#110000 45px,#2c0000 48px,#620000 51px,#bb0000 54px,#ff3600 57px,#ffba00 60px,#ffff31 63px,#ffff62 66px,#ffff19 69px,#ffa100 72px,#ff1c00 75px,#a60000 78px,#540000 81px,#250000 84px,#0e0000 87px,#040000 90px,#010000 93px,#000 96px)"></i><i style="top:89px;background:linear-gradient(90deg,#000 38px,#010000 38px,#050000 41px,#0e0000 44px,#250000 47px,#550000 50px,#a80000 53px,#ff1f00 56px,#ffa600 59px,#ffff23 62px,#ffff6e 65px,#ffff3c 68px,#ffc000 71px,#ff3b00 74px,#be0000 77px,#630000 80px,#2d0000 83px,#110000 86px,#060000 89px,#020000 92px,#000 95px)"></i><i style="top:90px;background:linear-gradient(90deg,#000 38px,#020000 38px,#050000 41px,#100000 44px,#2a0000 47px,#5e0000 50px,#b70000 53px,#ff3400 56px,#ffbb00 59px,#ffff3d 62px,#ffff7a 65px,#ffff38 68px,#ffb600 71px,#ff2e00 74px,#b30000 77px,#5c0000 80px,#280000 83px,#0f0000 86px,#050000 89px,#010000 92px,#000 95px)"></i><i style="top:91px;background:linear-gradient(90deg,#000 37px,#010000 37px,#040000 40px,#0d0000 43px,#230000 46px,#520000 49px,#a40000 52px,#ff1b00 55px,#ffa500 58px,#ffff2c 61px,#ffff82 64px,#ffff5a 67px,#ffd600 70px,#ff4e00 73px,#cc0000 76px,#6c0000 79px,#310000 82px,#130000 85px,#070000 88px,#020000 91px,#000 94px)"></i><i style="top:92px;background:linear-gradient(90deg,#000 37px,#010000 37px,#050000 40px,#0f0000 43px,#280000 46px,#5b0000 49px,#b30000 52px,#ff2f00 55px,#ffbb00 58px,#ffff46 61px,#ffff8f 64px,#ffff56 67px,#ffcc00 70px,#ff4100 73px,#c00000 76px,#640000 79px,#2d0000 82px,#110000 85px,#060000 88px,#020000 91px,#000 94px)"></i><i style="top:93px;background:linear-gradient(90deg,#000 37px,#020000 37px,#060000 40px,#110000 43px,#2d0000 46px,#650000 49px,#c20000 52px,#ff4400 55px,#ffd100 58px,#ffff5f 61px,#ffff99 64px,#ffff50 67px,#ffc000 70px,#ff3300 73px,#b50000 76px,#5c0000 79px,#280000 82px,#0f0000 85px,#050000 88px,#010000 91px,#000 94px)"></i><i style="top:94px;background:linear-gradient(90deg,#000 36px,#010000 36px,#050000 39px,#0e0000 42px,#260000 45px,#570000 48px,#ad0000 51px,#ff2a00 54px,#ffb900 57px,#ffff4d 60px,#ffffa1 63px,#ffff72 66px,#ffe100 69px,#ff5400 72px,#ce0000 75px,#6c0000 78px,#310000 81px,#130000 84px,#060000 87px,#020000 90px,#000 93px)"></i><i style="top:95px;background:linear-gradient(90deg,#000 36px,#020000 36px,#050000 39px,#100000 42px,#2b0000 45px,#610000 48px,#bd0000 51px,#ff3f00 54px,#ffcf00 57px,#ffff67 60px,#ffffac 63px,#ffff6c 66px,#ffd500 69px,#ff4500 72px,#c20000 75px,#640000 78px,#2c0000 81px,#110000 84px,#060000 87px,#020000 90px,#000 93px)"></i><i style="top:96px;background:linear-gradient(90deg,#000 35px,#010000 35px,#040000 38px,#0d0000 41px,#240000 44px,#530000 47px,#a80000 50px,#ff2500 53px,#ffb600 56px,#ffff51 59px,#ffffb1 62px,#ffff8c 65px,#fff500 68px,#ff6600 71px,#dc0000 74px,#750000 77px,#360000 80px,#150000 83px,#070000 86px,#020000 89px,#000 92px)"></i><i style="top:97px;background:linear-gradient(90deg,#000 35px,#010000 35px,#050000 38px,#0f0000 41px,#280000 44px,#5d0000 47px,#b70000 50px,#ff3900 53px,#ffcc00 56px,#ffff6b 59px,#ffffbd 62px,#ffff86 65px,#ffe900 68px,#ff5700 71px,#cf0000 74px,#6c0000 77px,#310000 80px,#130000 83px,#060000 86px,#020000 89px,#000 92px)"></i><i style="top:98px;background:linear-gradient(90deg,#000 35px,#020000 35px,#060000 38px,#110000 41px,#2e0000 44px,#670000 47px,#c70000 50px,#ff4e00 53px,#ffe100 56px,#ffff83 59px,#ffffc5 62px,#ffff7e 65px,#ffdb00 68px,#ff4800 71px,#c20000 74px,#630000 77px,#2c0000 80px,#110000 83px,#060000 86px,#020000 89px,#000 92px)"></i><i style="top:99px;background:linear-gradient(90deg,#000 34px,#010000 34px,#050000 37px,#0e0000 40px,#260000 43px,#580000 46px,#b10000 49px,#ff3200 52px,#ffc700 55px,#ffff6d 58px,#ffffca 61px,#ffff9f 64px,#fffc00 67px,#ff6900 70px,#dd0000 73px,#750000 76px,#350000 79px,#150000 82px,#070000 85px,#020000 88px,#000 91px)"></i><i style="top:100px;background:linear-gradient(90deg,#000 34px,#010000 34px,#050000 37px,#100000 40px,#2b0000 43px,#620000 46px,#c00000 49px,#ff4600 52px,#ffdc00 55px,#ffff86 58px,#ffffd4 61px,#ffff96 64px,#ffee00 67px,#ff5900 70px,#cf0000 73px,#6b0000 76px,#300000 79px,#130000 82px,#060000 85px,#020000 88px,#000 91px)"></i><i style="top:101px;background:linear-gradient(90deg,#000 33px,#010000 33px,#040000 36px,#0d0000 39px,#240000 42px,#540000 45px,#aa0000 48px,#ff2a00 51px,#ffc100 54px,#ffff6c 57px,#ffffd5 60px,#ffffb4 63px,#ffff17 66px,#ff7b00 69px,#ea0000 72px,#7d0000 75px,#3a0000 78px,#170000 81px,#080000 84px,#020000 87px,#000 90px)"></i><i style="top:102px;background:linear-gradient(90deg,#000 33px,#010000 33px,#050000 36px,#0f0000 39px,#280000 42px,#5d0000 45px,#b90000 48px,#ff3e00 51px,#ffd600 54px,#ffff85 57px,#ffffdf 60px,#ffffac 63px,#ffff02 66px,#ff6a00 69px,#dc0000 72px,#730000 75px,#340000 78px,#140000 81px,#070000 84px,#020000 87px,#000 90px)"></i><i style="top:103px;background:linear-gradient(90deg,#000 33px,#020000 33px,#060000 36px,#110000 39px,#2d0000 42px,#670000 45px,#c90000 48px,#ff5300 51px,#ffeb00 54px,#ffff9c 57px,#ffffe6 60px,#ffffa2 63px,#fff100 66px,#ff5900 69px,#ce0000 72px,#6a0000 75px,#2f0000 78px,#120000 81px,#060000 84px,#020000 87px,#000 90px)"></i><i style="top:104px;background:linear-gradient(90deg,#000 32px,#010000 32px,#040000 35px,#0e0000 38px,#260000 41px,#580000 44px,#b20000 47px,#ff3500 50px,#ffcf00 53px,#ffff81 56px,#ffffe7 59px,#ffffc0 62px,#ffff1c 65px,#ff7b00 68px,#e90000 71px,#7c0000 74px,#390000 77px,#160000 80px,#080000 83px,#020000 86px,#000 89px)"></i><i style="top:105px;background:linear-gradient(90deg,#000 32px,#010000 32px,#050000 35px,#100000 38px,#2b0000 41px,#610000 44px,#c10000 47px,#ff4900 50px,#ffe400 53px,#ffff99 56px,#ffffee 59px,#ffffb5 62px,#ffff05 65px,#ff6900 68px,#da0000 71px,#720000 74px,#330000 77px,#140000 80px,#070000 83px,#020000 86px,#000 89px)"></i><i style="top:106px;background:linear-gradient(90deg,#000 32px,#020000 32px,#060000 35px,#120000 38px,#300000 41px,#6b0000 44px,#d00000 47px,#ff5e00 50px,#fff800 53px,#ffffae 56px,#fffff3 59px,#ffffa8 62px,#fff200 65px,#ff5700 68px,#cb0000 71px,#680000 74px,#2e0000 77px,#120000 80px,#060000 83px,#020000 86px,#000 89px)"></i><i style="top:107px;background:linear-gradient(90deg,#000 31px,#010000 31px,#050000 34px,#0f0000 37px,#280000 40px,#5c0000 43px,#b80000 46px,#ff3f00 49px,#ffda00 52px,#ffff92 55px,#fffff4 58px,#ffffc6 61px,#ffff1c 64px,#ff7900 67px,#e60000 70px,#7a0000 73px,#370000 76px,#160000 79px,#070000 82px,#020000 85px,#000 88px)"></i><i style="top:108px;background:linear-gradient(90deg,#000 31px,#020000 31px,#060000 34px,#110000 37px,#2d0000 40px,#660000 43px,#c70000 46px,#ff5300 49px,#ffef00 52px,#ffffa8 55px,#fffff9 58px,#ffffb9 61px,#ffff03 64px,#ff6600 67px,#d70000 70px,#6f0000 73px,#320000 76px,#130000 79px,#060000 82px,#020000 85px,#000 88px)"></i><i style="top:109px;background:linear-gradient(90deg,#000 30px,#010000 30px,#040000 33px,#0e0000 36px,#250000 39px,#570000 42px,#b00000 45px,#ff3400 48px,#ffd000 51px,#ffff89 54px,#fffff6 57px,#ffffd4 60px,#ffff32 63px,#ff8800 66px,#f20000 69px,#820000 72px,#3c0000 75px,#180000 78px,#080000 81px,#020000 84px,#000 87px)"></i><i style="top:110px;background:linear-gradient(90deg,#000 30px,#010000 30px,#050000 33px,#100000 36px,#2a0000 39px,#600000 42px,#be0000 45px,#ff4700 48px,#ffe400 51px,#ffff9f 54px,#fffffc 57px,#ffffc8 60px,#ffff19 63px,#ff7500 66px,#e20000 69px,#770000 72px,#360000 75px,#150000 78px,#070000 81px,#020000 84px,#000 87px)"></i><i style="top:111px;background:linear-gradient(90deg,#000 30px,#020000 30px,#060000 33px,#120000 36px,#2f0000 39px,#690000 42px,#ce0000 45px,#ff5b00 48px,#fff700 51px,#ffffb3 54px,#fffffe 57px,#ffffb9 60px,#fffe00 63px,#ff6100 66px,#d30000 69px,#6d0000 72px,#300000 75px,#130000 78px,#060000 81px,#020000 84px,#000 87px)"></i><i style="top:112px;background:linear-gradient(90deg,#000 29px,#010000 29px,#050000 32px,#0e0000 35px,#270000 38px,#5a0000 41px,#b50000 44px,#ff3b00 47px,#ffd800 50px,#ffff93 53px,#fffffb 56px,#ffffd3 59px,#ffff2c 62px,#ff8200 65px,#ee0000 68px,#7e0000 71px,#3a0000 74px,#170000 77px,#080000 80px,#020000 83px,#000 86px)"></i><i style="top:113px;background:linear-gradient(90deg,#000 29px,#020000 29px,#050000 32px,#110000 35px,#2c0000 38px,#650000 41px,#c60000 44px,#ff5200 47px,#ffee00 50px,#ffffaa 53px,#fffffe 56px,#ffffc1 59px,#ffff0c 62px,#ff6b00 65px,#db0000 68px,#720000 71px,#330000 74px,#140000 77px,#070000 80px,#020000 83px,#000 86px)"></i><i style="top:114px;background:linear-gradient(90deg,#000 28px,#010000 28px,#040000 31px,#0e0000 34px,#260000 37px,#580000 40px,#b30000 43px,#ff3800 46px,#ffd400 49px,#ffff8f 52px,#fffffa 55px,#ffffd5 58px,#ffff30 61px,#ff8500 64px,#f00000 67px,#800000 70px,#3b0000 73px,#170000 76px,#080000 79px,#020000 82px,#000 85px)"></i><i style="top:115px;background:linear-gradient(90deg,#000 28px,#020000 28px,#050000 31px,#110000 34px,#2c0000 37px,#640000 40px,#c60000 43px,#ff5100 46px,#ffed00 49px,#ffffa9 52px,#fffffd 55px,#ffffc0 58px,#ffff0b 61px,#ff6b00 64px,#da0000 67px,#720000 70px,#330000 73px,#140000 76px,#070000 79px,#020000 82px,#000 85px)"></i><i style="top:116px;background:linear-gradient(90deg,#000 27px,#010000 27px,#040000 30px,#0e0000 33px,#260000 36px,#580000 39px,#b20000 42px,#ff3700 45px,#ffd300 48px,#ffff8d 51px,#fffff7 54px,#ffffd2 57px,#ffff2e 60px,#ff8400 63px,#f00000 66px,#800000 69px,#3b0000 72px,#170000 75px,#080000 78px,#020000 81px,#000 84px)"></i><i style="top:117px;background:linear-gradient(90deg,#000 27px,#020000 27px,#050000 30px,#110000 33px,#2c0000 36px,#640000 39px,#c50000 42px,#ff5000 45px,#ffec00 48px,#ffffa5 51px,#fffff9 54px,#ffffbd 57px,#ffff08 60px,#ff6a00 63px,#da0000 66px,#710000 69px,#330000 72px,#140000 75px,#070000 78px,#020000 81px,#000 84px)"></i><i style="top:118px;background:linear-gradient(90deg,#000 26px,#010000 26px,#040000 29px,#0e0000 32px,#260000 35px,#580000 38px,#b10000 41px,#ff3600 44px,#ffd100 47px,#ffff89 50px,#fffff2 53px,#ffffce 56px,#ffff2a 59px,#ff8300 62px,#ee0000 65px,#7f0000 68px,#3a0000 71px,#170000 74px,#080000 77px,#020000 80px,#000 83px)"></i><i style="top:119px;background:linear-gradient(90deg,#000 26px,#020000 26px,#050000 29px,#100000 32px,#2c0000 35px,#630000 38px,#c40000 41px,#ff4e00 44px,#ffe900 47px,#ffffa0 50px,#fffff3 53px,#ffffb7 56px,#ffff04 59px,#ff6800 62px,#d80000 65px,#710000 68px,#320000 71px,#140000 74px,#070000 77px,#020000 80px,#000 83px)"></i><i style="top:120px;background:linear-gradient(90deg,#000 25px,#010000 25px,#040000 28px,#0e0000 31px,#250000 34px,#570000 37px,#b00000 40px,#ff3400 43px,#ffce00 46px,#ffff83 49px,#ffffec 52px,#ffffc7 55px,#ffff25 58px,#ff8000 61px,#ed0000 64px,#7e0000 67px,#3a0000 70px,#170000 73px,#080000 76px,#020000 79px,#000 82px)"></i><i style="top:121px;background:linear-gradient(90deg,#000 25px,#010000 25px,#050000 28px,#100000 31px,#2b0000 34px,#630000 37px,#c20000 40px,#ff4b00 43px,#ffe500 46px,#ffff99 49px,#ffffec 52px,#ffffb0 55px,#fffe00 58px,#ff6500 61px,#d70000 64px,#700000 67px,#320000 70px,#130000 73px,#060000 76px,#020000 79px,#000 82px)"></i><i style="top:122px;background:linear-gradient(90deg,#000 24px,#010000 24px,#040000 27px,#0e0000 30px,#250000 33px,#560000 36px,#af0000 39px,#ff3100 42px,#ffca00 45px,#ffff7b 48px,#ffffe3 51px,#ffffbf 54px,#ffff1e 57px,#ff7d00 60px,#eb0000 63px,#7d0000 66px,#3a0000 69px,#170000 72px,#080000 75px,#020000 78px,#000 81px)"></i><i style="top:123px;background:linear-gradient(90deg,#000 24px,#010000 24px,#050000 27px,#100000 30px,#2b0000 33px,#620000 36px,#c10000 39px,#ff4800 42px,#ffe000 45px,#ffff90 48px,#ffffe2 51px,#ffffa7 54px,#fff900 57px,#ff6100 60px,#d50000 63px,#6f0000 66px,#320000 69px,#130000 72px,#060000 75px,#020000 78px,#000 81px)"></i><i style="top:124px;background:linear-gradient(90deg,#000 23px,#010000 23px,#040000 26px,#0d0000 29px,#250000 32px,#560000 35px,#ad0000 38px,#ff2e00 41px,#ffc500 44px,#ffff71 47px,#ffffd8 50px,#ffffb5 53px,#ffff15 56px,#ff7900 59px,#e80000 62px,#7c0000 65px,#390000 68px,#170000 71px,#080000 74px,#020000 77px,#000 80px)"></i><i style="top:125px;background:linear-gradient(90deg,#000 23px,#010000 23px,#050000 26px,#100000 29px,#2a0000 32px,#610000 35px,#be0000 38px,#ff4400 41px,#ffdb00 44px,#ffff85 47px,#ffffd6 50px,#ffff9c 53px,#fff300 56px,#ff5d00 59px,#d20000 62px,#6d0000 65px,#310000 68px,#130000 71px,#060000 74px,#020000 77px,#000 80px)"></i><i style="top:126px;background:linear-gradient(90deg,#000 22px,#010000 22px,#040000 25px,#0d0000 28px,#240000 31px,#540000 34px,#ab0000 37px,#ff2a00 40px,#ffbf00 43px,#ffff66 46px,#ffffcc 49px,#ffffa8 52px,#ffff0b 55px,#ff7400 58px,#e50000 61px,#7a0000 64px,#380000 67px,#160000 70px,#080000 73px,#020000 76px,#000 79px)"></i><i style="top:127px;background:linear-gradient(90deg,#000 22px,#010000 22px,#050000 25px,#100000 28px,#2a0000 31px,#5f0000 34px,#bc0000 37px,#ff4000 40px,#ffd400 43px,#ffff79 46px,#ffffc9 49px,#ffff8f 52px,#ffec00 55px,#ff5800 58px,#cf0000 61px,#6c0000 64px,#300000 67px,#130000 70px,#060000 73px,#020000 76px,#000 79px)"></i><i style="top:128px;background:linear-gradient(90deg,#000 21px,#010000 21px,#040000 24px,#0d0000 27px,#240000 30px,#530000 33px,#a80000 36px,#ff2600 39px,#ffb800 42px,#ffff59 45px,#ffffbd 48px,#ffff9b 51px,#ffff00 54px,#ff6e00 57px,#e20000 60px,#780000 63px,#370000 66px,#160000 69px,#080000 72px,#020000 75px,#000 78px)"></i><i style="top:129px;background:linear-gradient(90deg,#000 21px,#010000 21px,#050000 24px,#0f0000 27px,#290000 30px,#5e0000 33px,#b90000 36px,#ff3b00 39px,#ffcd00 42px,#ffff6b 45px,#ffffb9 48px,#ffff80 51px,#ffe400 54px,#ff5300 57px,#cc0000 60px,#6a0000 63px,#300000 66px,#120000 69px,#060000 72px,#020000 75px,#000 78px)"></i><i style="top:130px;background:linear-gradient(90deg,#000 21px,#020000 21px,#060000 24px,#120000 27px,#2f0000 30px,#690000 33px,#ca0000 36px,#ff5000 39px,#ffe000 42px,#ffff79 45px,#ffffb1 48px,#ffff63 51px,#ffc900 54px,#ff3800 57px,#b70000 60px,#5d0000 63px,#290000 66px,#0f0000 69px,#050000 72px,#010000 75px,#000 78px)"></i><i style="top:131px;background:linear-gradient(90deg,#000 20px,#010000 20px,#050000 23px,#0f0000 26px,#280000 29px,#5c0000 32px,#b50000 35px,#ff3500 38px,#ffc500 41px,#ffff5b 44px,#ffffa8 47px,#ffff70 50px,#ffdb00 53px,#ff4d00 56px,#c80000 59px,#680000 62px,#2f0000 65px,#120000 68px,#060000 71px,#020000 74px,#000 77px)"></i><i style="top:132px;background:linear-gradient(90deg,#000 20px,#020000 20px,#060000 23px,#120000 26px,#2e0000 29px,#670000 32px,#c60000 35px,#ff4a00 38px,#ffd700 41px,#ffff68 44px,#ffff9f 47px,#ffff53 50px,#ffc000 53px,#ff3200 56px,#b40000 59px,#5b0000 62px,#280000 65px,#0f0000 68px,#050000 71px,#010000 74px,#000 77px)"></i><i style="top:133px;background:linear-gradient(90deg,#000 19px,#010000 19px,#050000 22px,#0f0000 25px,#280000 28px,#5a0000 31px,#b20000 34px,#ff2f00 37px,#ffbc00 40px,#ffff4a 43px,#ffff96 46px,#ffff5f 49px,#ffd200 52px,#ff4600 55px,#c40000 58px,#660000 61px,#2e0000 64px,#120000 67px,#060000 70px,#020000 73px,#000 76px)"></i><i style="top:134px;background:linear-gradient(90deg,#000 19px,#020000 19px,#060000 22px,#120000 25px,#2d0000 28px,#650000 31px,#c20000 34px,#ff4300 37px,#ffcd00 40px,#ffff56 43px,#ffff8c 46px,#ffff41 49px,#ffb700 52px,#ff2c00 55px,#b00000 58px,#590000 61px,#270000 64px,#0f0000 67px,#050000 70px,#010000 73px,#000 76px)"></i><i style="top:135px;background:linear-gradient(90deg,#000 18px,#010000 18px,#050000 21px,#0f0000 24px,#270000 27px,#580000 30px,#ae0000 33px,#ff2800 36px,#ffb200 39px,#ffff38 42px,#ffff82 45px,#ffff4c 48px,#ffc800 51px,#ff3f00 54px,#c00000 57px,#640000 60px,#2d0000 63px,#110000 66px,#060000 69px,#020000 72px,#000 75px)"></i><i style="top:136px;background:linear-gradient(90deg,#000 18px,#020000 18px,#060000 21px,#110000 24px,#2c0000 27px,#630000 30px,#be0000 33px,#ff3b00 36px,#ffc200 39px,#ffff42 42px,#ffff77 45px,#ffff2e 48px,#ffad00 51px,#ff2500 54px,#ac0000 57px,#570000 60px,#260000 63px,#0e0000 66px,#050000 69px,#010000 72px,#000 75px)"></i><i style="top:137px;background:linear-gradient(90deg,#000 17px,#010000 17px,#050000 20px,#0e0000 23px,#260000 26px,#560000 29px,#aa0000 32px,#ff2100 35px,#ffa700 38px,#ffff24 41px,#ffff6c 44px,#ffff38 47px,#ffbd00 50px,#ff3700 53px,#bb0000 56px,#610000 59px,#2c0000 62px,#110000 65px,#060000 68px,#020000 71px,#000 74px)"></i><i style="top:138px;background:linear-gradient(90deg,#000 17px,#020000 17px,#060000 20px,#110000 23px,#2b0000 26px,#600000 29px,#b90000 32px,#ff3300 35px,#ffb700 38px,#ffff2d 41px,#ffff61 44px,#ffff1a 47px,#ffa200 50px,#ff1e00 53px,#a70000 56px,#550000 59px,#250000 62px,#0e0000 65px,#050000 68px,#010000 71px,#000 74px)"></i><i style="top:139px;background:linear-gradient(90deg,#000 16px,#010000 16px,#040000 19px,#0e0000 22px,#240000 25px,#530000 28px,#a40000 31px,#ff1800 34px,#ff9b00 37px,#ffff0d 40px,#ffff55 43px,#ffff24 46px,#ffb300 49px,#ff3100 52px,#b80000 55px,#600000 58px,#2b0000 61px,#110000 64px,#060000 67px,#020000 70px,#000 73px)"></i><i style="top:140px;background:linear-gradient(90deg,#000 16px,#010000 16px,#050000 19px,#100000 22px,#280000 25px,#5b0000 28px,#b00000 31px,#ff2600 34px,#ffa600 37px,#ffff13 40px,#ffff4a 43px,#ffff09 46px,#ff9c00 49px,#ff1b00 52px,#a70000 55px,#550000 58px,#260000 61px,#0e0000 64px,#050000 67px,#010000 70px,#000 73px)"></i><i style="top:141px;background:linear-gradient(90deg,#000 16px,#020000 16px,#060000 19px,#120000 22px,#2d0000 25px,#630000 28px,#bb0000 31px,#ff3300 34px,#ffb100 37px,#ffff16 40px,#ffff3c 43px,#fff200 46px,#ff8500 49px,#ff0600 52px,#970000 55px,#4c0000 58px,#210000 61px,#0c0000 64px,#040000 67px,#000 70px)"></i><i style="top:142px;background:linear-gradient(90deg,#000 15px,#010000 15px,#050000 18px,#0e0000 21px,#250000 24px,#550000 27px,#a50000 30px,#ff1600 33px,#ff9300 36px,#fff800 39px,#ffff32 42px,#fffa00 45px,#ff9700 48px,#ff1a00 51px,#a80000 54px,#560000 57px,#260000 60px,#0f0000 63px,#050000 66px,#010000 69px,#000 72px)"></i><i style="top:143px;background:linear-gradient(90deg,#000 15px,#020000 15px,#050000 18px,#100000 21px,#2a0000 24px,#5c0000 27px,#b00000 30px,#ff2300 33px,#ff9d00 36px,#fffa00 39px,#ffff24 42px,#ffe800 45px,#ff8000 48px,#ff0500 51px,#980000 54px,#4d0000 57px,#210000 60px,#0d0000 63px,#040000 66px,#000 69px)"></i><i style="top:144px;background:linear-gradient(90deg,#000 14px,#010000 14px,#040000 17px,#0d0000 20px,#230000 23px,#4f0000 26px,#9b0000 29px,#ff0700 32px,#ff8000 35px,#ffe500 38px,#ffff18 41px,#ffef00 44px,#ff9000 47px,#ff1800 50px,#a80000 53px,#570000 56px,#270000 59px,#0f0000 62px,#050000 65px,#010000 68px,#000 71px)"></i><i style="top:145px;background:linear-gradient(90deg,#000 14px,#010000 14px,#050000 17px,#0f0000 20px,#260000 23px,#560000 26px,#a50000 29px,#ff1300 32px,#ff8a00 35px,#ffe700 38px,#ffff0b 41px,#ffdd00 44px,#ff7a00 47px,#ff0300 50px,#980000 53px,#4d0000 56px,#220000 59px,#0d0000 62px,#040000 65px,#010000 68px,#000 71px)"></i><i style="top:146px;background:linear-gradient(90deg,#000 14px,#020000 14px,#060000 17px,#110000 20px,#2b0000 23px,#5d0000 26px,#b00000 29px,#ff1f00 32px,#ff9200 35px,#ffe700 38px,#fffc00 41px,#ffca00 44px,#ff6400 47px,#ee0000 50px,#890000 53px,#440000 56px,#1d0000 59px,#0b0000 62px,#030000 65px,#000 68px)"></i><i style="top:147px;background:linear-gradient(90deg,#000 13px,#010000 13px,#040000 16px,#0e0000 19px,#230000 22px,#500000 25px,#9a0000 28px,#ff0400 31px,#ff7700 34px,#ffd200 37px,#fff500 40px,#ffd000 43px,#ff7300 46px,#ff0000 49px,#980000 52px,#4e0000 55px,#220000 58px,#0d0000 61px,#040000 64px,#010000 67px,#000 70px)"></i><i style="top:148px;background:linear-gradient(90deg,#000 13px,#020000 13px,#050000 16px,#0f0000 19px,#270000 22px,#560000 25px,#a40000 28px,#ff0f00 31px,#ff7f00 34px,#ffd300 37px,#ffeb00 40px,#ffbe00 43px,#ff5e00 46px,#eb0000 49px,#890000 52px,#450000 55px,#1e0000 58px,#0b0000 61px,#040000 64px,#000 67px)"></i><i style="top:149px;background:linear-gradient(90deg,#000 13px,#020000 13px,#060000 16px,#110000 19px,#2b0000 22px,#5e0000 25px,#ae0000 28px,#ff1900 31px,#ff8500 34px,#ffd100 37px,#ffe000 40px,#ffab00 43px,#ff4800 46px,#d80000 49px,#7b0000 52px,#3d0000 55px,#1a0000 58px,#090000 61px,#030000 64px,#000 67px)"></i><i style="top:150px;background:linear-gradient(90deg,#000 12px,#010000 12px,#050000 15px,#0e0000 18px,#240000 21px,#500000 24px,#990000 27px,#fe0000 30px,#ff6b00 33px,#ffbe00 36px,#ffda00 39px,#ffb200 42px,#ff5700 45px,#e90000 48px,#890000 51px,#450000 54px,#1e0000 57px,#0b0000 60px,#040000 63px,#000 66px)"></i><i style="top:151px;background:linear-gradient(90deg,#000 12px,#020000 12px,#050000 15px,#100000 18px,#280000 21px,#570000 24px,#a30000 27px,#ff0900 30px,#ff7100 33px,#ffbd00 36px,#ffcf00 39px,#ff9f00 42px,#ff4100 45px,#d60000 48px,#7b0000 51px,#3d0000 54px,#1a0000 57px,#0a0000 60px,#030000 63px,#000 66px)"></i><i style="top:152px;background:linear-gradient(90deg,#000 11px,#010000 11px,#040000 14px,#0d0000 17px,#210000 20px,#4a0000 23px,#8f0000 26px,#ee0000 29px,#ff5700 32px,#ffaa00 35px,#ffc700 38px,#ffa400 41px,#ff4f00 44px,#e50000 47px,#880000 50px,#450000 53px,#1f0000 56px,#0c0000 59px,#040000 62px,#000 65px)"></i><i style="top:153px;background:linear-gradient(90deg,#000 11px,#010000 11px,#050000 14px,#0e0000 17px,#240000 20px,#500000 23px,#970000 26px,#f70000 29px,#ff5d00 32px,#ffa900 35px,#ffbd00 38px,#ff9300 41px,#ff3a00 44px,#d30000 47px,#7a0000 50px,#3d0000 53px,#1a0000 56px,#0a0000 59px,#030000 62px,#000 65px)"></i><i style="top:154px;background:linear-gradient(90deg,#000 11px,#020000 11px,#060000 14px,#100000 17px,#280000 20px,#560000 23px,#a00000 26px,#ff0100 29px,#ff6300 32px,#ffa600 35px,#ffb200 38px,#ff8000 41px,#ff2600 44px,#c10000 47px,#6e0000 50px,#360000 53px,#170000 56px,#080000 59px,#030000 62px,#000 65px)"></i><i style="top:155px;background:linear-gradient(90deg,#000 10px,#010000 10px,#040000 13px,#0d0000 16px,#210000 19px,#4a0000 22px,#8c0000 25px,#e70000 28px,#ff4a00 31px,#ff9400 34px,#ffab00 37px,#ff8500 40px,#ff3200 43px,#cf0000 46px,#790000 49px,#3d0000 52px,#1b0000 55px,#0a0000 58px,#030000 61px,#000 64px)"></i><i style="top:156px;background:linear-gradient(90deg,#000 10px,#010000 10px,#050000 13px,#0f0000 16px,#250000 19px,#4f0000 22px,#950000 25px,#f00000 28px,#ff4f00 31px,#ff9200 34px,#ffa000 37px,#ff7400 40px,#ff1f00 43px,#be0000 46px,#6d0000 49px,#360000 52px,#170000 55px,#080000 58px,#030000 61px,#000 64px)"></i><i style="top:157px;background:linear-gradient(90deg,#000 10px,#020000 10px,#060000 13px,#100000 16px,#280000 19px,#550000 22px,#9d0000 25px,#f80000 28px,#ff5300 31px,#ff8e00 34px,#ff9400 37px,#ff6200 40px,#ff0b00 43px,#ad0000 46px,#610000 49px,#2f0000 52px,#140000 55px,#070000 58px,#020000 61px,#000 64px)"></i><i style="top:158px;background:linear-gradient(90deg,#000 9px,#010000 9px,#040000 12px,#0d0000 15px,#210000 18px,#490000 21px,#8a0000 24px,#e00000 27px,#ff3b00 30px,#ff7d00 33px,#ff8e00 36px,#ff6700 39px,#ff1700 42px,#ba0000 45px,#6c0000 48px,#360000 51px,#170000 54px,#090000 57px,#030000 60px,#000 63px)"></i><i style="top:159px;background:linear-gradient(90deg,#000 9px,#020000 9px,#050000 12px,#0f0000 15px,#250000 18px,#4e0000 21px,#910000 24px,#e70000 27px,#ff3f00 30px,#ff7a00 33px,#ff8300 36px,#ff5500 39px,#ff0400 42px,#aa0000 45px,#600000 48px,#2f0000 51px,#140000 54px,#070000 57px,#020000 60px,#000 63px)"></i><i style="top:160px;background:linear-gradient(90deg,#000 9px,#020000 9px,#060000 12px,#100000 15px,#280000 18px,#540000 21px,#980000 24px,#ee0000 27px,#ff4100 30px,#ff7500 33px,#ff7600 36px,#ff4300 39px,#f00000 42px,#9b0000 45px,#560000 48px,#290000 51px,#110000 54px,#060000 57px,#020000 60px,#000 63px)"></i><i style="top:161px;background:linear-gradient(90deg,#000 8px,#010000 8px,#050000 11px,#0d0000 14px,#210000 17px,#480000 20px,#860000 23px,#d70000 26px,#ff2b00 29px,#ff6600 32px,#ff7100 35px,#ff4800 38px,#fb0000 41px,#a60000 44px,#5f0000 47px,#2f0000 50px,#140000 53px,#070000 56px,#020000 59px,#000 62px)"></i><i style="top:162px;background:linear-gradient(90deg,#000 8px,#020000 8px,#050000 11px,#0f0000 14px,#240000 17px,#4d0000 20px,#8d0000 23px,#de0000 26px,#ff2e00 29px,#ff6200 32px,#ff6500 35px,#ff3700 38px,#e90000 41px,#970000 44px,#550000 47px,#290000 50px,#110000 53px,#060000 56px,#020000 59px,#000 62px)"></i><i style="top:163px;background:linear-gradient(90deg,#000 7px,#010000 7px,#040000 10px,#0c0000 13px,#1e0000 16px,#420000 19px,#7b0000 22px,#c80000 25px,#ff1900 28px,#ff5200 31px,#ff5f00 34px,#ff3b00 37px,#f30000 40px,#a20000 43px,#5d0000 46px,#2e0000 49px,#140000 52px,#070000 55px,#020000 58px,#000 61px)"></i><i style="top:164px;background:linear-gradient(90deg,#000 7px,#010000 7px,#050000 10px,#0d0000 13px,#210000 16px,#460000 19px,#820000 22px,#ce0000 25px,#ff1b00 28px,#ff4e00 31px,#ff5400 34px,#ff2b00 37px,#e20000 40px,#940000 43px,#530000 46px,#280000 49px,#110000 52px,#060000 55px,#020000 58px,#000 61px)"></i><i style="top:165px;background:linear-gradient(90deg,#000 7px,#020000 7px,#050000 10px,#0f0000 13px,#240000 16px,#4b0000 19px,#880000 22px,#d30000 25px,#ff1c00 28px,#ff4900 31px,#ff4800 34px,#ff1b00 37px,#d10000 40px,#860000 43px,#4a0000 46px,#230000 49px,#0e0000 52px,#050000 55px,#020000 58px,#000 61px)"></i><i style="top:166px;background:linear-gradient(90deg,#000 6px,#010000 6px,#040000 9px,#0c0000 12px,#1e0000 15px,#400000 18px,#770000 21px,#bf0000 24px,#ff0800 27px,#ff3b00 30px,#ff4300 33px,#ff1e00 36px,#da0000 39px,#900000 42px,#520000 45px,#280000 48px,#110000 51px,#060000 54px,#020000 57px,#000 60px)"></i><i style="top:167px;background:linear-gradient(90deg,#000 6px,#010000 6px,#050000 9px,#0d0000 12px,#210000 15px,#450000 18px,#7d0000 21px,#c40000 24px,#ff0a00 27px,#ff3600 30px,#ff3800 33px,#ff0f00 36px,#ca0000 39px,#820000 42px,#490000 45px,#230000 48px,#0e0000 51px,#050000 54px,#020000 57px,#000 60px)"></i><i style="top:168px;background:linear-gradient(90deg,#000 6px,#020000 6px,#050000 9px,#0f0000 12px,#230000 15px,#490000 18px,#820000 21px,#c80000 24px,#ff0a00 27px,#ff3000 30px,#ff2c00 33px,#fe0000 36px,#ba0000 39px,#760000 42px,#400000 45px,#1e0000 48px,#0c0000 51px,#040000 54px,#010000 57px,#000 60px)"></i><i style="top:169px;background:linear-gradient(90deg,#000 5px,#010000 5px,#040000 8px,#0c0000 11px,#1d0000 14px,#3f0000 17px,#730000 20px,#b50000 23px,#f70000 26px,#ff2300 29px,#ff2800 32px,#ff0300 35px,#c20000 38px,#7e0000 41px,#470000 44px,#220000 47px,#0e0000 50px,#050000 53px,#020000 56px,#000 59px)"></i><i style="top:170px;background:linear-gradient(90deg,#000 5px,#010000 5px,#050000 8px,#0d0000 11px,#200000 14px,#430000 17px,#780000 20px,#ba0000 23px,#f80000 26px,#ff1e00 29px,#ff1c00 32px,#f20000 35px,#b30000 38px,#720000 41px,#3f0000 44px,#1e0000 47px,#0c0000 50px,#040000 53px,#010000 56px,#000 59px)"></i><i style="top:171px;background:linear-gradient(90deg,#000 5px,#020000 5px,#050000 8px,#0f0000 11px,#230000 14px,#470000 17px,#7d0000 20px,#be0000 23px,#f80000 26px,#ff1800 29px,#ff1000 32px,#e30000 35px,#a40000 38px,#660000 41px,#370000 44px,#1a0000 47px,#0a0000 50px,#040000 53px,#000 56px)"></i><i style="top:172px;background:linear-gradient(90deg,#000 4px,#010000 4px,#040000 7px,#0c0000 10px,#1d0000 13px,#3d0000 16px,#6e0000 19px,#ac0000 22px,#e70000 25px,#ff0d00 28px,#ff0c00 31px,#e60000 34px,#ab0000 37px,#6e0000 40px,#3d0000 43px,#1d0000 46px,#0c0000 49px,#040000 52px,#010000 55px,#000 58px)"></i><i style="top:173px;background:linear-gradient(90deg,#000 4px,#020000 4px,#050000 7px,#0d0000 10px,#200000 13px,#410000 16px,#730000 19px,#b00000 22px,#e70000 25px,#ff0700 28px,#ff0100 31px,#d80000 34px,#9d0000 37px,#630000 40px,#350000 43px,#190000 46px,#0a0000 49px,#030000 52px,#000 55px)"></i><i style="top:174px;background:linear-gradient(90deg,#000 4px,#020000 4px,#060000 7px,#0f0000 10px,#230000 13px,#450000 16px,#780000 19px,#b30000 22px,#e60000 25px,#ff0000 28px,#f40000 31px,#ca0000 34px,#900000 37px,#580000 40px,#2f0000 43px,#150000 46px,#080000 49px,#030000 52px,#000 55px)"></i><i style="top:175px;background:linear-gradient(90deg,#000 3px,#010000 3px,#040000 6px,#0c0000 9px,#1d0000 12px,#3b0000 15px,#6a0000 18px,#a20000 21px,#d70000 24px,#f50000 27px,#f10000 30px,#cd0000 33px,#960000 36px,#5f0000 39px,#340000 42px,#180000 45px,#0a0000 48px,#030000 51px,#000 54px)"></i><i style="top:176px;background:linear-gradient(90deg,#000 3px,#020000 3px,#050000 6px,#0d0000 9px,#1f0000 12px,#3f0000 15px,#6e0000 18px,#a50000 21px,#d60000 24px,#ef0000 27px,#e60000 30px,#bf0000 33px,#890000 36px,#550000 39px,#2d0000 42px,#150000 45px,#080000 48px,#030000 51px,#000 54px)"></i><i style="top:177px;background:linear-gradient(90deg,#000 3px,#020000 3px,#060000 6px,#0f0000 9px,#220000 12px,#430000 15px,#720000 18px,#a70000 21px,#d40000 24px,#e80000 27px,#db0000 30px,#b20000 33px,#7d0000 36px,#4c0000 39px,#270000 42px,#120000 45px,#070000 48px,#020000 51px,#000 54px)"></i><i style="top:178px;background:linear-gradient(90deg,#000 2px,#010000 2px,#040000 5px,#0c0000 8px,#1c0000 11px,#390000 14px,#650000 17px,#980000 20px,#c60000 23px,#df0000 26px,#d80000 29px,#b50000 32px,#830000 35px,#510000 38px,#2c0000 41px,#140000 44px,#080000 47px,#030000 50px,#000 53px)"></i><i style="top:179px;background:linear-gradient(90deg,#000 2px,#020000 2px,#050000 5px,#0d0000 8px,#1f0000 11px,#3d0000 14px,#680000 17px,#9a0000 20px,#c50000 23px,#d90000 26px,#ce0000 29px,#a80000 32px,#770000 35px,#490000 38px,#260000 41px,#110000 44px,#070000 47px,#020000 50px,#000 53px)"></i><i style="top:180px;background:linear-gradient(90deg,#000 2px,#020000 2px,#060000 5px,#0f0000 8px,#210000 11px,#400000 14px,#6b0000 17px,#9c0000 20px,#c30000 23px,#d20000 26px,#c30000 29px,#9c0000 32px,#6c0000 35px,#400000 38px,#210000 41px,#0f0000 44px,#060000 47px,#020000 50px,#000 53px)"></i><i style="top:181px;background:linear-gradient(90deg,#000 1px,#010000 1px,#040000 4px,#0c0000 7px,#1c0000 10px,#370000 13px,#5f0000 16px,#8e0000 19px,#b60000 22px,#ca0000 25px,#c10000 28px,#9f0000 31px,#710000 34px,#450000 37px,#250000 40px,#110000 43px,#070000 46px,#020000 49px,#000 52px)"></i><i style="top:182px;background:linear-gradient(90deg,#000 1px,#020000 1px,#050000 4px,#0d0000 7px,#1e0000 10px,#3a0000 13px,#620000 16px,#8f0000 19px,#b40000 22px,#c30000 25px,#b70000 28px,#930000 31px,#670000 34px,#3e0000 37px,#200000 40px,#0e0000 43px,#050000 46px,#020000 49px,#000 52px)"></i><i style="top:183px;background:linear-gradient(90deg,#000 1px,#020000 1px,#060000 4px,#0e0000 7px,#200000 10px,#3d0000 13px,#650000 16px,#900000 19px,#b10000 22px,#bc0000 25px,#ac0000 28px,#880000 31px,#5d0000 34px,#370000 37px,#1c0000 40px,#0c0000 43px,#050000 46px,#010000 49px,#000 52px)"></i><i style="top:184px;background:linear-gradient(90deg,#000 0px,#010000 0px,#040000 3px,#0c0000 6px,#1b0000 9px,#350000 12px,#590000 15px,#830000 18px,#a60000 21px,#b50000 24px,#ab0000 27px,#8b0000 30px,#610000 33px,#3b0000 36px,#1f0000 39px,#0e0000 42px,#050000 45px,#020000 48px,#000 51px)"></i><i style="top:185px;background:linear-gradient(90deg,#000 0px,#020000 0px,#050000 3px,#0d0000 6px,#1d0000 9px,#370000 12px,#5c0000 15px,#840000 18px,#a40000 21px,#af0000 24px,#a10000 27px,#800000 30px,#580000 33px,#340000 36px,#1b0000 39px,#0c0000 42px,#040000 45px,#010000 48px,#000 51px)"></i><i style="top:186px;background:linear-gradient(90deg,#000 0px,#020000 0px,#050000 3px,#0e0000 6px,#1f0000 9px,#3a0000 12px,#5e0000 15px,#840000 18px,#a10000 21px,#a80000 24px,#980000 27px,#760000 30px,#4f0000 33px,#2e0000 36px,#170000 39px,#0a0000 42px,#040000 45px,#000 48px)"></i><i style="top:187px;background:linear-gradient(90deg,#000 0px,#020000 0px,#060000 3px,#0f0000 6px,#210000 9px,#3c0000 12px,#600000 15px,#840000 18px,#9d0000 21px,#a10000 24px,#8e0000 27px,#6c0000 30px,#470000 33px,#280000 36px,#140000 39px,#080000 42px,#030000 45px,#000 48px)"></i><i style="top:188px;background:linear-gradient(90deg,#000 0px,#020000 0px,#070000 3px,#100000 6px,#230000 9px,#3f0000 12px,#620000 15px,#840000 18px,#990000 21px,#990000 24px,#850000 27px,#630000 30px,#400000 33px,#230000 36px,#110000 39px,#070000 42px,#020000 45px,#000 48px)"></i><i style="top:189px;background:linear-gradient(90deg,#000 0px,#030000 0px,#070000 3px,#120000 6px,#240000 9px,#410000 12px,#630000 15px,#830000 18px,#940000 21px,#920000 24px,#7b0000 27px,#5a0000 30px,#390000 33px,#1f0000 36px,#0e0000 39px,#060000 42px,#020000 45px,#000 48px)"></i><i style="top:190px;background:linear-gradient(90deg,#000 0px,#030000 0px,#080000 3px,#130000 6px,#260000 9px,#430000 12px,#640000 15px,#810000 18px,#900000 21px,#8a0000 24px,#720000 27px,#520000 30px,#320000 33px,#1b0000 36px,#0c0000 39px,#050000 42px,#020000 45px,#000 48px)"></i><i style="top:191px;background:linear-gradient(90deg,#000 0px,#030000 0px,#090000 3px,#140000 6px,#280000 9px,#450000 12px,#640000 15px,#7f0000 18px,#8a0000 21px,#820000 24px,#6a0000 27px,#4a0000 30px,#2d0000 33px,#170000 36px,#0a0000 39px,#040000 42px,#010000 45px,#000 48px)"></i><i style="top:192px;background:linear-gradient(90deg,#000 0px,#040000 0px,#0a0000 3px,#160000 6px,#2a0000 9px,#460000 12px,#650000 15px,#7d0000 18px,#850000 21px,#7a0000 24px,#610000 27px,#420000 30px,#270000 33px,#140000 36px,#090000 39px,#030000 42px,#000 45px)"></i><i style="top:193px;background:linear-gradient(90deg,#000 0px,#040000 0px,#0b0000 3px,#170000 6px,#2c0000 9px,#480000 12px,#650000 15px,#7a0000 18px,#7f0000 21px,#730000 24px,#590000 27px,#3c0000 30px,#220000 33px,#110000 36px,#070000 39px,#030000 42px,#000 45px)"></i><i style="top:194px;background:linear-gradient(90deg,#000 0px,#050000 0px,#0c0000 3px,#190000 6px,#2e0000 9px,#490000 12px,#640000 15px,#770000 18px,#790000 21px,#6b0000 24px,#510000 27px,#350000 30px,#1e0000 33px,#0f0000 36px,#060000 39px,#020000 42px,#000 45px)"></i><i style="top:195px;background:linear-gradient(90deg,#000 0px,#050000 0px,#0c0000 3px,#1a0000 6px,#2f0000 9px,#4a0000 12px,#630000 15px,#730000 18px,#730000 21px,#630000 24px,#4a0000 27px,#300000 30px,#1a0000 33px,#0d0000 36px,#050000 39px,#020000 42px,#000 45px)"></i><i style="top:196px;background:linear-gradient(90deg,#000 0px,#060000 0px,#0d0000 3px,#1c0000 6px,#310000 9px,#4a0000 12px,#620000 15px,#6f0000 18px,#6d0000 21px,#5c0000 24px,#430000 27px,#2a0000 30px,#170000 33px,#0b0000 36px,#040000 39px,#010000 42px,#000 45px)"></i><i style="top:197px;background:linear-gradient(90deg,#000 0px,#060000 0px,#0e0000 3px,#1d0000 6px,#320000 9px,#4b0000 12px,#600000 15px,#6b0000 18px,#670000 21px,#550000 24px,#3d0000 27px,#250000 30px,#140000 33px,#090000 36px,#040000 39px,#000 42px)"></i><i style="top:198px;background:linear-gradient(90deg,#000 0px,#070000 0px,#0f0000 3px,#1e0000 6px,#330000 9px,#4b0000 12px,#5f0000 15px,#670000 18px,#610000 21px,#4e0000 24px,#370000 27px,#210000 30px,#110000 33px,#080000 36px,#030000 39px,#000 42px)"></i><i style="top:199px;background:linear-gradient(90deg,#000 0px,#070000 0px,#100000 3px,#1f0000 6px,#340000 9px,#4b0000 12px,#5c0000 15px,#620000 18px,#5b0000 21px,#480000 24px,#310000 27px,#1d0000 30px,#0f0000 33px,#070000 36px,#020000 39px,#000 42px)"></i><i style="top:200px;background:linear-gradient(90deg,#000 0px,#080000 0px,#110000 3px,#200000 6px,#340000 9px,#4a0000 12px,#5a0000 15px,#5e0000 18px,#550000 21px,#420000 24px,#2d0000 27px,#1a0000 30px,#0d0000 33px,#060000 36px,#020000 39px,#000 42px)"></i><i style="top:201px;background:linear-gradient(90deg,#000 0px,#080000 0px,#110000 3px,#210000 6px,#340000 9px,#480000 12px,#570000 15px,#590000 18px,#500000 21px,#3d0000 24px,#280000 27px,#170000 30px,#0b0000 33px,#050000 36px,#020000 39px,#000 42px)"></i><i style="top:202px;background:linear-gradient(90deg,#000 0px,#090000 0px,#120000 3px,#210000 6px,#340000 9px,#470000 12px,#540000 15px,#550000 18px,#4a0000 21px,#380000 24px,#240000 27px,#140000 30px,#0a0000 33px,#040000 36px,#010000 39px,#000 42px)"></i><i style="top:203px;background:linear-gradient(90deg,#000 0px,#090000 0px,#130000 3px,#220000 6px,#340000 9px,#460000 12px,#510000 15px,#500000 18px,#450000 21px,#330000 24px,#210000 27px,#120000 30px,#090000 33px,#040000 36px,#000 39px)"></i><i style="top:204px;background:linear-gradient(90deg,#000 0px,#090000 0px,#130000 3px,#220000 6px,#340000 9px,#440000 12px,#4e0000 15px,#4c0000 18px,#400000 21px,#2f0000 24px,#1d0000 27px,#100000 30px,#070000 33px,#030000 36px,#000 39px)"></i><i style="top:205px;background:linear-gradient(90deg,#000 0px,#0a0000 0px,#140000 3px,#220000 6px,#330000 9px,#430000 12px,#4a0000 15px,#480000 18px,#3b0000 21px,#2b0000 24px,#1a0000 27px,#0e0000 30px,#060000 33px,#030000 36px,#000 39px)"></i><i style="top:206px;background:linear-gradient(90deg,#000 0px,#0a0000 0px,#140000 3px,#230000 6px,#330000 9px,#410000 12px,#470000 15px,#430000 18px,#370000 21px,#270000 24px,#170000 27px,#0c0000 30px,#060000 33px,#020000 36px,#000 39px)"></i><i style="top:207px;background:linear-gradient(90deg,#000 0px,#0b0000 0px,#150000 3px,#230000 6px,#320000 9px,#3f0000 12px,#440000 15px,#3f0000 18px,#330000 21px,#230000 24px,#150000 27px,#0b0000 30px,#050000 33px,#020000 36px,#000 39px)"></i><i style="top:208px;background:linear-gradient(90deg,#000 0px,#0b0000 0px,#150000 3px,#230000 6px,#320000 9px,#3d0000 12px,#400000 15px,#3b0000 18px,#2e0000 21px,#200000 24px,#130000 27px,#090000 30px,#040000 33px,#020000 36px,#000 39px)"></i><i style="top:209px;background:linear-gradient(90deg,#000 0px,#0b0000 0px,#150000 3px,#230000 6px,#310000 9px,#3b0000 12px,#3d0000 15px,#370000 18px,#2b0000 21px,#1c0000 24px,#100000 27px,#080000 30px,#030000 33px,#000 36px)"></i><i style="top:210px;background:linear-gradient(90deg,#000 0px,#0c0000 0px,#160000 3px,#230000 6px,#300000 9px,#390000 12px,#3a0000 15px,#330000 18px,#270000 21px,#1a0000 24px,#0e0000 27px,#070000 30px,#030000 33px,#000 36px)"></i><i style="top:211px;background:linear-gradient(90deg,#000 0px,#0c0000 0px,#160000 3px,#220000 6px,#2f0000 9px,#360000 12px,#370000 15px,#2f0000 18px,#230000 21px,#170000 24px,#0d0000 27px,#060000 30px,#030000 33px,#000 36px)"></i><i style="top:212px;background:linear-gradient(90deg,#000 0px,#0c0000 0px,#160000 3px,#220000 6px,#2d0000 9px,#340000 12px,#330000 15px,#2c0000 18px,#200000 21px,#140000 24px,#0b0000 27px,#050000 30px,#020000 33px,#000 36px)"></i><i style="top:213px;background:linear-gradient(90deg,#000 0px,#0d0000 0px,#160000 3px,#220000 6px,#2c0000 9px,#320000 12px,#300000 15px,#290000 18px,#1d0000 21px,#120000 24px,#0a0000 27px,#050000 30px,#020000 33px,#000 36px)"></i><i style="top:214px;background:linear-gradient(90deg,#000 0px,#0d0000 0px,#160000 3px,#210000 6px,#2b0000 9px,#2f0000 12px,#2d0000 15px,#250000 18px,#1b0000 21px,#100000 24px,#090000 27px,#040000 30px,#020000 33px,#000 36px)"></i><i style="top:215px;background:linear-gradient(90deg,#000 0px,#0d0000 0px,#160000 3px,#210000 6px,#290000 9px,#2d0000 12px,#2a0000 15px,#220000 18px,#180000 21px,#0e0000 24px,#070000 27px,#030000 30px,#000 33px)"></i><i style="top:216px;background:linear-gradient(90deg,#000 0px,#0d0000 0px,#160000 3px,#200000 6px,#280000 9px,#2b0000 12px,#270000 15px,#1f0000 18px,#160000 21px,#0d0000 24px,#070000 27px,#030000 30px,#000 33px)"></i><i style="top:217px;background:linear-gradient(90deg,#000 0px,#0e0000 0px,#160000 3px,#200000 6px,#260000 9px,#280000 12px,#250000 15px,#1d0000 18px,#130000 21px,#0b0000 24px,#060000 27px,#020000 30px,#000 33px)"></i><i style="top:218px;background:linear-gradient(90deg,#000 0px,#0e0000 0px,#160000 3px,#1f0000 6px,#250000 9px,#260000 12px,#220000 15px,#1a0000 18px,#110000 21px,#0a0000 24px,#050000 27px,#020000 30px,#000 33px)"></i><i style="top:219px;background:linear-gradient(90deg,#000 0px,#0e0000 0px,#160000 3px,#1e0000 6px,#230000 9px,#240000 12px,#1f0000 15px,#180000 18px,#0f0000 21px,#090000 24px,#040000 27px,#020000 30px,#000 33px)"></i><i style="top:220px;background:linear-gradient(90deg,#000 0px,#0e0000 0px,#160000 3px,#1d0000 6px,#220000 9px,#220000 12px,#1d0000 15px,#150000 18px,#0e0000 21px,#080000 24px,#040000 27px,#000 30px)"></i><i style="top:221px;background:linear-gradient(90deg,#000 0px,#0e0000 0px,#160000 3px,#1d0000 6px,#200000 9px,#1f0000 12px,#1a0000 15px,#130000 18px,#0c0000 21px,#060000 24px,#030000 27px,#000 30px)"></i><i style="top:222px;background:linear-gradient(90deg,#000 0px,#0e0000 0px,#150000 3px,#1c0000 6px,#1f0000 9px,#1d0000 12px,#180000 15px,#110000 18px,#0b0000 21px,#060000 24px,#030000 27px,#000 30px)"></i><i style="top:223px;background:linear-gradient(90deg,#000 0px,#0e0000 0px,#150000 3px,#1b0000 6px,#1d0000 9px,#1b0000 12px,#160000 15px,#0f0000 18px,#090000 21px,#050000 24px,#020000 27px,#000 30px)"></i><i style="top:224px;background:linear-gradient(90deg,#000 0px,#0f0000 0px,#150000 3px,#1a0000 6px,#1b0000 9px,#190000 12px,#140000 15px,#0e0000 18px,#080000 21px,#040000 24px,#020000 27px,#000 30px)"></i></div><div class="p" style="position:absolute;left:506px;top:31px;width:111.5px;height:225px;overflow:hidden;background:#000"><i style="top:0px;background:linear-gradient(90deg,#000 63px,#020000 63px,#050000 66px,#090000 69px,#0f0000 72px,#140000 75px,#140000 78px,#100000 81px,#0b0000 84px,#060000 87px,#020000 90px,#000 93px)"></i><i style="top:1px;background:linear-gradient(90deg,#000 63px,#020000 63px,#050000 66px,#0a0000 69px,#100000 72px,#150000 75px,#150000 78px,#110000 81px,#0b0000 84px,#060000 87px,#020000 90px,#000 93px)"></i><i style="top:2px;background:linear-gradient(90deg,#000 62px,#010000 62px,#040000 65px,#090000 68px,#0f0000 71px,#150000 74px,#170000 77px,#140000 80px,#0e0000 83px,#080000 86px,#040000 89px,#000 92px)"></i><i style="top:3px;background:linear-gradient(90deg,#000 62px,#020000 62px,#040000 65px,#090000 68px,#100000 71px,#160000 74px,#190000 77px,#160000 80px,#0f0000 83px,#080000 86px,#040000 89px,#000 92px)"></i><i style="top:4px;background:linear-gradient(90deg,#000 62px,#020000 62px,#050000 65px,#0a0000 68px,#110000 71px,#180000 74px,#1a0000 77px,#170000 80px,#100000 83px,#090000 86px,#040000 89px,#010000 92px,#000 95px)"></i><i style="top:5px;background:linear-gradient(90deg,#000 62px,#020000 62px,#050000 65px,#0b0000 68px,#120000 71px,#190000 74px,#1c0000 77px,#180000 80px,#110000 83px,#090000 86px,#040000 89px,#010000 92px,#000 95px)"></i><i style="top:6px;background:linear-gradient(90deg,#000 61px,#010000 61px,#040000 64px,#090000 67px,#110000 70px,#190000 73px,#1d0000 76px,#1b0000 79px,#140000 82px,#0c0000 85px,#060000 88px,#020000 91px,#000 94px)"></i><i style="top:7px;background:linear-gradient(90deg,#000 61px,#010000 61px,#040000 64px,#0a0000 67px,#120000 70px,#1b0000 73px,#1f0000 76px,#1d0000 79px,#160000 82px,#0d0000 85px,#060000 88px,#020000 91px,#000 94px)"></i><i style="top:8px;background:linear-gradient(90deg,#000 61px,#020000 61px,#050000 64px,#0b0000 67px,#130000 70px,#1c0000 73px,#210000 76px,#1f0000 79px,#170000 82px,#0d0000 85px,#060000 88px,#020000 91px,#000 94px)"></i><i style="top:9px;background:linear-gradient(90deg,#000 61px,#020000 61px,#050000 64px,#0b0000 67px,#150000 70px,#1e0000 73px,#230000 76px,#200000 79px,#180000 82px,#0e0000 85px,#070000 88px,#020000 91px,#000 94px)"></i><i style="top:10px;background:linear-gradient(90deg,#000 60px,#010000 60px,#040000 63px,#0a0000 66px,#130000 69px,#1d0000 72px,#240000 75px,#240000 78px,#1c0000 81px,#120000 84px,#090000 87px,#040000 90px,#000 93px)"></i><i style="top:11px;background:linear-gradient(90deg,#000 60px,#010000 60px,#040000 63px,#0a0000 66px,#140000 69px,#1f0000 72px,#260000 75px,#260000 78px,#1e0000 81px,#130000 84px,#090000 87px,#040000 90px,#000 93px)"></i><i style="top:12px;background:linear-gradient(90deg,#000 60px,#010000 60px,#050000 63px,#0b0000 66px,#150000 69px,#210000 72px,#290000 75px,#280000 78px,#1f0000 81px,#140000 84px,#0a0000 87px,#040000 90px,#000 93px)"></i><i style="top:13px;background:linear-gradient(90deg,#000 60px,#020000 60px,#050000 63px,#0c0000 66px,#170000 69px,#230000 72px,#2b0000 75px,#2a0000 78px,#210000 81px,#140000 84px,#0a0000 87px,#040000 90px,#010000 93px,#000 96px)"></i><i style="top:14px;background:linear-gradient(90deg,#000 60px,#020000 60px,#050000 63px,#0d0000 66px,#180000 69px,#250000 72px,#2e0000 75px,#2c0000 78px,#220000 81px,#150000 84px,#0b0000 87px,#040000 90px,#010000 93px,#000 96px)"></i><i style="top:15px;background:linear-gradient(90deg,#000 59px,#010000 59px,#040000 62px,#0b0000 65px,#160000 68px,#230000 71px,#2e0000 74px,#300000 77px,#280000 80px,#1b0000 83px,#0e0000 86px,#060000 89px,#020000 92px,#000 95px)"></i><i style="top:16px;background:linear-gradient(90deg,#000 59px,#010000 59px,#040000 62px,#0b0000 65px,#170000 68px,#260000 71px,#310000 74px,#330000 77px,#2a0000 80px,#1c0000 83px,#0f0000 86px,#060000 89px,#020000 92px,#000 95px)"></i><i style="top:17px;background:linear-gradient(90deg,#000 59px,#010000 59px,#050000 62px,#0c0000 65px,#190000 68px,#280000 71px,#340000 74px,#360000 77px,#2c0000 80px,#1d0000 83px,#0f0000 86px,#060000 89px,#020000 92px,#000 95px)"></i><i style="top:18px;background:linear-gradient(90deg,#000 59px,#020000 59px,#050000 62px,#0d0000 65px,#1a0000 68px,#2b0000 71px,#370000 74px,#390000 77px,#2e0000 80px,#1e0000 83px,#100000 86px,#070000 89px,#020000 92px,#000 95px)"></i><i style="top:19px;background:linear-gradient(90deg,#000 59px,#020000 59px,#060000 62px,#0e0000 65px,#1c0000 68px,#2d0000 71px,#3a0000 74px,#3b0000 77px,#310000 80px,#200000 83px,#110000 86px,#070000 89px,#020000 92px,#000 95px)"></i><i style="top:20px;background:linear-gradient(90deg,#000 58px,#010000 58px,#040000 61px,#0b0000 64px,#180000 67px,#2a0000 70px,#3a0000 73px,#400000 76px,#380000 79px,#270000 82px,#160000 85px,#0a0000 88px,#040000 91px,#000 94px)"></i><i style="top:21px;background:linear-gradient(90deg,#000 58px,#010000 58px,#050000 61px,#0c0000 64px,#1a0000 67px,#2d0000 70px,#3d0000 73px,#430000 76px,#3a0000 79px,#290000 82px,#170000 85px,#0a0000 88px,#040000 91px,#000 94px)"></i><i style="top:22px;background:linear-gradient(90deg,#000 58px,#010000 58px,#050000 61px,#0d0000 64px,#1c0000 67px,#2f0000 70px,#410000 73px,#460000 76px,#3d0000 79px,#2a0000 82px,#180000 85px,#0a0000 88px,#040000 91px,#000 94px)"></i><i style="top:23px;background:linear-gradient(90deg,#000 58px,#020000 58px,#050000 61px,#0e0000 64px,#1e0000 67px,#320000 70px,#440000 73px,#4a0000 76px,#400000 79px,#2c0000 82px,#190000 85px,#0b0000 88px,#040000 91px,#000 94px)"></i><i style="top:24px;background:linear-gradient(90deg,#000 58px,#020000 58px,#060000 61px,#0f0000 64px,#1f0000 67px,#350000 70px,#480000 73px,#4e0000 76px,#430000 79px,#2e0000 82px,#1a0000 85px,#0b0000 88px,#040000 91px,#000 94px)"></i><i style="top:25px;background:linear-gradient(90deg,#000 57px,#010000 57px,#040000 60px,#0c0000 63px,#1b0000 66px,#300000 69px,#460000 72px,#510000 75px,#4c0000 78px,#380000 81px,#210000 84px,#100000 87px,#060000 90px,#020000 93px,#000 96px)"></i><i style="top:26px;background:linear-gradient(90deg,#000 57px,#010000 57px,#040000 60px,#0c0000 63px,#1c0000 66px,#330000 69px,#4a0000 72px,#550000 75px,#4f0000 78px,#3b0000 81px,#230000 84px,#100000 87px,#060000 90px,#020000 93px,#000 96px)"></i><i style="top:27px;background:linear-gradient(90deg,#000 57px,#010000 57px,#050000 60px,#0d0000 63px,#1e0000 66px,#360000 69px,#4e0000 72px,#5a0000 75px,#530000 78px,#3d0000 81px,#240000 84px,#110000 87px,#060000 90px,#020000 93px,#000 96px)"></i><i style="top:28px;background:linear-gradient(90deg,#000 57px,#010000 57px,#050000 60px,#0e0000 63px,#200000 66px,#390000 69px,#520000 72px,#5e0000 75px,#570000 78px,#400000 81px,#260000 84px,#120000 87px,#070000 90px,#020000 93px,#000 96px)"></i><i style="top:29px;background:linear-gradient(90deg,#000 57px,#020000 57px,#050000 60px,#0f0000 63px,#210000 66px,#3c0000 69px,#560000 72px,#630000 75px,#5a0000 78px,#420000 81px,#270000 84px,#120000 87px,#070000 90px,#020000 93px,#000 96px)"></i><i style="top:30px;background:linear-gradient(90deg,#000 57px,#020000 57px,#060000 60px,#100000 63px,#230000 66px,#3f0000 69px,#5a0000 72px,#670000 75px,#5e0000 78px,#450000 81px,#290000 84px,#130000 87px,#070000 90px,#020000 93px,#000 96px)"></i><i style="top:31px;background:linear-gradient(90deg,#000 57px,#020000 57px,#060000 60px,#110000 63px,#250000 66px,#420000 69px,#5f0000 72px,#6c0000 75px,#630000 78px,#480000 81px,#2a0000 84px,#140000 87px,#070000 90px,#020000 93px,#000 96px)"></i><i style="top:32px;background:linear-gradient(90deg,#000 56px,#010000 56px,#040000 59px,#0d0000 62px,#1f0000 65px,#3b0000 68px,#5b0000 71px,#6f0000 74px,#6d0000 77px,#550000 80px,#360000 83px,#1b0000 86px,#0b0000 89px,#030000 92px,#000 95px)"></i><i style="top:33px;background:linear-gradient(90deg,#000 56px,#010000 56px,#050000 59px,#0e0000 62px,#210000 65px,#3e0000 68px,#5f0000 71px,#740000 74px,#720000 77px,#590000 80px,#380000 83px,#1c0000 86px,#0b0000 89px,#040000 92px,#000 95px)"></i><i style="top:34px;background:linear-gradient(90deg,#000 56px,#010000 56px,#050000 59px,#0f0000 62px,#230000 65px,#420000 68px,#640000 71px,#790000 74px,#760000 77px,#5c0000 80px,#3a0000 83px,#1d0000 86px,#0c0000 89px,#040000 92px,#000 95px)"></i><i style="top:35px;background:linear-gradient(90deg,#000 56px,#010000 56px,#050000 59px,#0f0000 62px,#240000 65px,#450000 68px,#690000 71px,#7f0000 74px,#7b0000 77px,#600000 80px,#3c0000 83px,#1e0000 86px,#0c0000 89px,#040000 92px,#000 95px)"></i><i style="top:36px;background:linear-gradient(90deg,#000 56px,#020000 56px,#060000 59px,#100000 62px,#260000 65px,#490000 68px,#6e0000 71px,#850000 74px,#810000 77px,#640000 80px,#3e0000 83px,#1f0000 86px,#0c0000 89px,#040000 92px,#000 95px)"></i><i style="top:37px;background:linear-gradient(90deg,#000 56px,#020000 56px,#060000 59px,#110000 62px,#290000 65px,#4c0000 68px,#730000 71px,#8a0000 74px,#860000 77px,#680000 80px,#400000 83px,#200000 86px,#0d0000 89px,#040000 92px,#000 95px)"></i><i style="top:38px;background:linear-gradient(90deg,#000 56px,#020000 56px,#060000 59px,#120000 62px,#2b0000 65px,#500000 68px,#780000 71px,#910000 74px,#8b0000 77px,#6c0000 80px,#430000 83px,#210000 86px,#0d0000 89px,#040000 92px,#000 95px)"></i><i style="top:39px;background:linear-gradient(90deg,#000 55px,#010000 55px,#040000 58px,#0e0000 61px,#230000 64px,#460000 67px,#710000 70px,#910000 73px,#960000 76px,#7d0000 79px,#530000 82px,#2c0000 85px,#130000 88px,#060000 91px,#020000 94px,#000 97px)"></i><i style="top:40px;background:linear-gradient(90deg,#000 55px,#010000 55px,#050000 58px,#0f0000 61px,#250000 64px,#490000 67px,#760000 70px,#980000 73px,#9c0000 76px,#810000 79px,#560000 82px,#2e0000 85px,#130000 88px,#070000 91px,#020000 94px,#000 97px)"></i><i style="top:41px;background:linear-gradient(90deg,#000 55px,#010000 55px,#050000 58px,#0f0000 61px,#270000 64px,#4d0000 67px,#7b0000 70px,#9e0000 73px,#a30000 76px,#860000 79px,#590000 82px,#2f0000 85px,#140000 88px,#070000 91px,#020000 94px,#000 97px)"></i><i style="top:42px;background:linear-gradient(90deg,#000 55px,#010000 55px,#050000 58px,#100000 61px,#290000 64px,#510000 67px,#810000 70px,#a50000 73px,#a90000 76px,#8b0000 79px,#5c0000 82px,#310000 85px,#150000 88px,#070000 91px,#020000 94px,#000 97px)"></i><i style="top:43px;background:linear-gradient(90deg,#000 55px,#010000 55px,#060000 58px,#110000 61px,#2b0000 64px,#550000 67px,#860000 70px,#ac0000 73px,#b00000 76px,#900000 79px,#5f0000 82px,#320000 85px,#150000 88px,#070000 91px,#020000 94px,#000 97px)"></i><i style="top:44px;background:linear-gradient(90deg,#000 55px,#020000 55px,#060000 58px,#120000 61px,#2d0000 64px,#590000 67px,#8c0000 70px,#b30000 73px,#b60000 76px,#950000 79px,#620000 82px,#340000 85px,#160000 88px,#070000 91px,#020000 94px,#000 97px)"></i><i style="top:45px;background:linear-gradient(90deg,#000 55px,#020000 55px,#060000 58px,#130000 61px,#2f0000 64px,#5d0000 67px,#920000 70px,#ba0000 73px,#bd0000 76px,#9a0000 79px,#650000 82px,#350000 85px,#160000 88px,#080000 91px,#020000 94px,#000 97px)"></i><i style="top:46px;background:linear-gradient(90deg,#000 54px,#010000 54px,#040000 57px,#0e0000 60px,#260000 63px,#4f0000 66px,#860000 69px,#b70000 72px,#c80000 75px,#af0000 78px,#7b0000 81px,#450000 84px,#1f0000 87px,#0b0000 90px,#030000 93px,#000 96px)"></i><i style="top:47px;background:linear-gradient(90deg,#000 54px,#010000 54px,#050000 57px,#0f0000 60px,#270000 63px,#530000 66px,#8c0000 69px,#be0000 72px,#cf0000 75px,#b50000 78px,#7f0000 81px,#470000 84px,#200000 87px,#0c0000 90px,#030000 93px,#000 96px)"></i><i style="top:48px;background:linear-gradient(90deg,#000 54px,#010000 54px,#050000 57px,#100000 60px,#290000 63px,#570000 66px,#920000 69px,#c60000 72px,#d70000 75px,#bb0000 78px,#830000 81px,#490000 84px,#210000 87px,#0c0000 90px,#030000 93px,#000 96px)"></i><i style="top:49px;background:linear-gradient(90deg,#000 54px,#010000 54px,#050000 57px,#110000 60px,#2c0000 63px,#5c0000 66px,#9a0000 69px,#ce0000 72px,#de0000 75px,#c00000 78px,#850000 81px,#4a0000 84px,#210000 87px,#0c0000 90px,#030000 93px,#000 96px)"></i><i style="top:50px;background:linear-gradient(90deg,#000 54px,#020000 54px,#060000 57px,#130000 60px,#300000 63px,#630000 66px,#a30000 69px,#d80000 72px,#e50000 75px,#c40000 78px,#870000 81px,#4a0000 84px,#210000 87px,#0c0000 90px,#030000 93px,#000 96px)"></i><i style="top:51px;background:linear-gradient(90deg,#000 53px,#010000 53px,#040000 56px,#0f0000 59px,#280000 62px,#560000 65px,#960000 68px,#d30000 71px,#ef0000 74px,#d90000 77px,#9e0000 80px,#5d0000 83px,#2c0000 86px,#110000 89px,#050000 92px,#010000 95px,#000 98px)"></i><i style="top:52px;background:linear-gradient(90deg,#000 53px,#010000 53px,#050000 56px,#100000 59px,#2b0000 62px,#5d0000 65px,#a00000 68px,#dd0000 71px,#f70000 74px,#de0000 77px,#a00000 80px,#5d0000 83px,#2b0000 86px,#100000 89px,#050000 92px,#010000 95px,#000 98px)"></i><i style="top:53px;background:linear-gradient(90deg,#000 53px,#010000 53px,#060000 56px,#120000 59px,#2f0000 62px,#640000 65px,#a90000 68px,#e80000 71px,#ff0000 74px,#e20000 77px,#a20000 80px,#5d0000 83px,#2b0000 86px,#100000 89px,#050000 92px,#010000 95px,#000 98px)"></i><i style="top:54px;background:linear-gradient(90deg,#000 53px,#020000 53px,#060000 56px,#140000 59px,#340000 62px,#6b0000 65px,#b30000 68px,#f20000 71px,#ff0800 74px,#e70000 77px,#a30000 80px,#5d0000 83px,#2a0000 86px,#100000 89px,#050000 92px,#010000 95px,#000 98px)"></i><i style="top:55px;background:linear-gradient(90deg,#000 52px,#010000 52px,#050000 55px,#0f0000 58px,#2a0000 61px,#5d0000 64px,#a40000 67px,#eb0000 70px,#ff1000 73px,#fd0000 76px,#bd0000 79px,#730000 82px,#380000 85px,#160000 88px,#070000 91px,#020000 94px,#000 97px)"></i><i style="top:56px;background:linear-gradient(90deg,#000 52px,#010000 52px,#050000 55px,#110000 58px,#2e0000 61px,#640000 64px,#ae0000 67px,#f60000 70px,#ff1a00 73px,#ff0300 76px,#bf0000 79px,#730000 82px,#370000 85px,#160000 88px,#070000 91px,#020000 94px,#000 97px)"></i><i style="top:57px;background:linear-gradient(90deg,#000 52px,#010000 52px,#060000 55px,#130000 58px,#320000 61px,#6b0000 64px,#b90000 67px,#ff0300 70px,#ff2300 73px,#ff0800 76px,#c10000 79px,#720000 82px,#370000 85px,#150000 88px,#070000 91px,#020000 94px,#000 97px)"></i><i style="top:58px;background:linear-gradient(90deg,#000 52px,#020000 52px,#060000 55px,#150000 58px,#360000 61px,#730000 64px,#c30000 67px,#ff0e00 70px,#ff2c00 73px,#ff0d00 76px,#c30000 79px,#720000 82px,#360000 85px,#150000 88px,#060000 91px,#020000 94px,#000 97px)"></i><i style="top:59px;background:linear-gradient(90deg,#000 51px,#010000 51px,#050000 54px,#100000 57px,#2c0000 60px,#630000 63px,#b20000 66px,#ff0400 69px,#ff3200 72px,#ff2400 75px,#e00000 78px,#8c0000 81px,#460000 84px,#1d0000 87px,#090000 90px,#020000 93px,#000 96px)"></i><i style="top:60px;background:linear-gradient(90deg,#000 51px,#010000 51px,#050000 54px,#120000 57px,#300000 60px,#6a0000 63px,#bc0000 66px,#ff1000 69px,#ff3d00 72px,#ff2a00 75px,#e20000 78px,#8b0000 81px,#450000 84px,#1c0000 87px,#090000 90px,#020000 93px,#000 96px)"></i><i style="top:61px;background:linear-gradient(90deg,#000 51px,#010000 51px,#060000 54px,#140000 57px,#340000 60px,#720000 63px,#c70000 66px,#ff1c00 69px,#ff4600 72px,#ff3000 75px,#e40000 78px,#8b0000 81px,#450000 84px,#1b0000 87px,#090000 90px,#020000 93px,#000 96px)"></i><i style="top:62px;background:linear-gradient(90deg,#000 51px,#020000 51px,#070000 54px,#160000 57px,#390000 60px,#7a0000 63px,#d30000 66px,#ff2800 69px,#ff5000 72px,#ff3500 75px,#e60000 78px,#8b0000 81px,#440000 84px,#1b0000 87px,#090000 90px,#020000 93px,#000 96px)"></i><i style="top:63px;background:linear-gradient(90deg,#000 50px,#010000 50px,#050000 53px,#110000 56px,#2e0000 59px,#680000 62px,#be0000 65px,#ff1c00 68px,#ff5500 71px,#ff4c00 74px,#ff0700 77px,#a80000 80px,#570000 83px,#250000 86px,#0c0000 89px,#030000 92px,#000 95px)"></i><i style="top:64px;background:linear-gradient(90deg,#000 50px,#010000 50px,#050000 53px,#120000 56px,#320000 59px,#700000 62px,#ca0000 65px,#ff2800 68px,#ff6000 71px,#ff5300 74px,#ff0900 77px,#a70000 80px,#560000 83px,#240000 86px,#0c0000 89px,#030000 92px,#000 95px)"></i><i style="top:65px;background:linear-gradient(90deg,#000 50px,#010000 50px,#060000 53px,#140000 56px,#370000 59px,#780000 62px,#d50000 65px,#ff3500 68px,#ff6a00 71px,#ff5900 74px,#ff0b00 77px,#a70000 80px,#550000 83px,#230000 86px,#0c0000 89px,#030000 92px,#000 95px)"></i><i style="top:66px;background:linear-gradient(90deg,#000 49px,#010000 49px,#040000 52px,#0f0000 55px,#2c0000 58px,#650000 61px,#bf0000 64px,#ff2500 67px,#ff6b00 70px,#ff6f00 73px,#ff2d00 76px,#c70000 79px,#6c0000 82px,#2f0000 85px,#110000 88px,#050000 91px,#010000 94px,#000 97px)"></i><i style="top:67px;background:linear-gradient(90deg,#000 49px,#010000 49px,#050000 52px,#110000 55px,#300000 58px,#6d0000 61px,#ca0000 64px,#ff3200 67px,#ff7700 70px,#ff7600 73px,#ff2f00 76px,#c70000 79px,#6a0000 82px,#2e0000 85px,#100000 88px,#050000 91px,#010000 94px,#000 97px)"></i><i style="top:68px;background:linear-gradient(90deg,#000 49px,#010000 49px,#050000 52px,#130000 55px,#340000 58px,#740000 61px,#d60000 64px,#ff3f00 67px,#ff8300 70px,#ff7d00 73px,#ff3100 76px,#c60000 79px,#690000 82px,#2d0000 85px,#100000 88px,#050000 91px,#010000 94px,#000 97px)"></i><i style="top:69px;background:linear-gradient(90deg,#000 49px,#020000 49px,#060000 52px,#150000 55px,#390000 58px,#7f0000 61px,#e40000 64px,#ff4f00 67px,#ff8f00 70px,#ff8300 73px,#ff3100 76px,#c40000 79px,#660000 82px,#2c0000 85px,#0f0000 88px,#040000 91px,#000 94px)"></i><i style="top:70px;background:linear-gradient(90deg,#000 48px,#010000 48px,#050000 51px,#110000 54px,#300000 57px,#6f0000 60px,#d10000 63px,#ff4000 66px,#ff8f00 69px,#ff9600 72px,#ff5100 75px,#e30000 78px,#7d0000 81px,#380000 84px,#150000 87px,#060000 90px,#010000 93px,#000 96px)"></i><i style="top:71px;background:linear-gradient(90deg,#000 48px,#010000 48px,#060000 51px,#140000 54px,#370000 57px,#7b0000 60px,#e20000 63px,#ff5300 66px,#ff9d00 69px,#ff9c00 72px,#ff4f00 75px,#de0000 78px,#780000 81px,#350000 84px,#130000 87px,#060000 90px,#010000 93px,#000 96px)"></i><i style="top:72px;background:linear-gradient(90deg,#000 47px,#010000 47px,#050000 50px,#100000 53px,#2e0000 56px,#6c0000 59px,#cd0000 62px,#ff4200 65px,#ff9b00 68px,#ffad00 71px,#ff6f00 74px,#ff0100 77px,#920000 80px,#440000 83px,#1a0000 86px,#080000 89px,#020000 92px,#000 95px)"></i><i style="top:73px;background:linear-gradient(90deg,#000 47px,#010000 47px,#060000 50px,#130000 53px,#350000 56px,#780000 59px,#df0000 62px,#ff5500 65px,#ffaa00 68px,#ffb400 71px,#ff6e00 74px,#fa0000 77px,#8d0000 80px,#410000 83px,#180000 86px,#080000 89px,#020000 92px,#000 95px)"></i><i style="top:74px;background:linear-gradient(90deg,#000 47px,#020000 47px,#070000 50px,#160000 53px,#3c0000 56px,#840000 59px,#f10000 62px,#ff6800 65px,#ffb800 68px,#ffba00 71px,#ff6c00 74px,#f50000 77px,#870000 80px,#3e0000 83px,#170000 86px,#070000 89px,#020000 92px,#000 95px)"></i><i style="top:75px;background:linear-gradient(90deg,#000 46px,#010000 46px,#050000 49px,#120000 52px,#320000 55px,#730000 58px,#db0000 61px,#ff5600 64px,#ffb500 67px,#ffcb00 70px,#ff8c00 73px,#ff1900 76px,#a30000 79px,#4e0000 82px,#1f0000 85px,#0a0000 88px,#030000 91px,#000 94px)"></i><i style="top:76px;background:linear-gradient(90deg,#000 46px,#020000 46px,#060000 49px,#150000 52px,#390000 55px,#800000 58px,#ed0000 61px,#ff6900 64px,#ffc400 67px,#ffd200 70px,#ff8b00 73px,#ff1300 76px,#9d0000 79px,#4a0000 82px,#1d0000 85px,#090000 88px,#020000 91px,#000 94px)"></i><i style="top:77px;background:linear-gradient(90deg,#000 45px,#010000 45px,#050000 48px,#110000 51px,#300000 54px,#6f0000 57px,#d60000 60px,#ff5500 63px,#ffbe00 66px,#ffe000 69px,#ffaa00 72px,#ff3800 75px,#bb0000 78px,#5d0000 81px,#260000 84px,#0d0000 87px,#040000 90px,#000 93px)"></i><i style="top:78px;background:linear-gradient(90deg,#000 45px,#010000 45px,#060000 48px,#140000 51px,#360000 54px,#7b0000 57px,#e80000 60px,#ff6900 63px,#ffce00 66px,#ffe800 69px,#ffa900 72px,#ff3200 75px,#b50000 78px,#580000 81px,#240000 84px,#0c0000 87px,#030000 90px,#000 93px)"></i><i style="top:79px;background:linear-gradient(90deg,#000 44px,#010000 44px,#050000 47px,#100000 50px,#2d0000 53px,#6b0000 56px,#d10000 59px,#ff5300 62px,#ffc500 65px,#fff300 68px,#ffc700 71px,#ff5700 74px,#d50000 77px,#6d0000 80px,#2e0000 83px,#100000 86px,#050000 89px,#010000 92px,#000 95px)"></i><i style="top:80px;background:linear-gradient(90deg,#000 44px,#010000 44px,#050000 47px,#120000 50px,#330000 53px,#760000 56px,#e20000 59px,#ff6700 62px,#ffd600 65px,#fffc00 68px,#ffc700 71px,#ff5100 74px,#ce0000 77px,#680000 80px,#2c0000 83px,#0f0000 86px,#040000 89px,#010000 92px,#000 95px)"></i><i style="top:81px;background:linear-gradient(90deg,#000 44px,#020000 44px,#060000 47px,#150000 50px,#3a0000 53px,#830000 56px,#f50000 59px,#ff7c00 62px,#ffe600 65px,#ffff08 68px,#ffc600 71px,#ff4b00 74px,#c70000 77px,#630000 80px,#290000 83px,#0e0000 86px,#040000 89px,#000 92px)"></i><i style="top:82px;background:linear-gradient(90deg,#000 43px,#010000 43px,#050000 46px,#110000 49px,#300000 52px,#710000 55px,#dc0000 58px,#ff6400 61px,#ffdb00 64px,#ffff17 67px,#ffe400 70px,#ff7100 73px,#e90000 76px,#7a0000 79px,#350000 82px,#130000 85px,#060000 88px,#010000 91px,#000 94px)"></i><i style="top:83px;background:linear-gradient(90deg,#000 43px,#020000 43px,#060000 46px,#140000 49px,#370000 52px,#7e0000 55px,#ee0000 58px,#ff7800 61px,#ffec00 64px,#ffff24 67px,#ffe300 70px,#ff6b00 73px,#e10000 76px,#750000 79px,#320000 82px,#120000 85px,#050000 88px,#010000 91px,#000 94px)"></i><i style="top:84px;background:linear-gradient(90deg,#000 42px,#010000 42px,#050000 45px,#100000 48px,#2e0000 51px,#6c0000 54px,#d50000 57px,#ff5f00 60px,#ffde00 63px,#ffff2f 66px,#ffff01 69px,#ff9200 72px,#ff0600 75px,#8e0000 78px,#400000 81px,#180000 84px,#070000 87px,#020000 90px,#000 93px)"></i><i style="top:85px;background:linear-gradient(90deg,#000 42px,#010000 42px,#060000 45px,#130000 48px,#340000 51px,#780000 54px,#e70000 57px,#ff7400 60px,#fff000 63px,#ffff3e 66px,#ffff01 69px,#ff8b00 72px,#fd0000 75px,#870000 78px,#3c0000 81px,#160000 84px,#070000 87px,#020000 90px,#000 93px)"></i><i style="top:86px;background:linear-gradient(90deg,#000 41px,#010000 41px,#040000 44px,#0f0000 47px,#2b0000 50px,#670000 53px,#ce0000 56px,#ff5900 59px,#ffdf00 62px,#ffff43 65px,#ffff28 68px,#ffb200 71px,#ff2400 74px,#a30000 77px,#4c0000 80px,#1e0000 83px,#0a0000 86px,#030000 89px,#000 92px)"></i><i style="top:87px;background:linear-gradient(90deg,#000 41px,#010000 41px,#050000 44px,#110000 47px,#310000 50px,#720000 53px,#df0000 56px,#ff6e00 59px,#fff200 62px,#ffff53 65px,#ffff29 68px,#ffab00 71px,#ff1b00 74px,#9c0000 77px,#480000 80px,#1c0000 83px,#090000 86px,#020000 89px,#000 92px)"></i><i style="top:88px;background:linear-gradient(90deg,#000 41px,#020000 41px,#060000 44px,#140000 47px,#370000 50px,#7e0000 53px,#f10000 56px,#ff8300 59px,#ffff08 62px,#ffff62 65px,#ffff29 68px,#ffa400 71px,#ff1200 74px,#950000 77px,#440000 80px,#1a0000 83px,#080000 86px,#020000 89px,#000 92px)"></i><i style="top:89px;background:linear-gradient(90deg,#000 40px,#010000 40px,#050000 43px,#100000 46px,#2e0000 49px,#6e0000 52px,#d90000 55px,#ff6800 58px,#fff300 61px,#ffff66 64px,#ffff4d 67px,#ffc900 70px,#ff3700 73px,#b10000 76px,#540000 79px,#220000 82px,#0b0000 85px,#030000 88px,#000 91px)"></i><i style="top:90px;background:linear-gradient(90deg,#000 40px,#020000 40px,#060000 43px,#140000 46px,#360000 49px,#7c0000 52px,#ee0000 55px,#ff8100 58px,#ffff0e 61px,#ffff76 64px,#ffff4a 67px,#ffbe00 70px,#ff2a00 73px,#a60000 76px,#4e0000 79px,#1f0000 82px,#0a0000 85px,#030000 88px,#000 91px)"></i><i style="top:91px;background:linear-gradient(90deg,#000 39px,#010000 39px,#050000 42px,#100000 45px,#2e0000 48px,#6c0000 51px,#d70000 54px,#ff6800 57px,#fff700 60px,#ffff77 63px,#ffff6a 66px,#ffe100 69px,#ff4e00 72px,#c20000 75px,#5f0000 78px,#270000 81px,#0d0000 84px,#040000 87px,#000 90px)"></i><i style="top:92px;background:linear-gradient(90deg,#000 39px,#020000 39px,#060000 42px,#130000 45px,#350000 48px,#7a0000 51px,#ec0000 54px,#ff8100 57px,#ffff15 60px,#ffff89 63px,#ffff68 66px,#ffd600 69px,#ff4000 72px,#b60000 75px,#570000 78px,#230000 81px,#0c0000 84px,#030000 87px,#000 90px)"></i><i style="top:93px;background:linear-gradient(90deg,#000 38px,#010000 38px,#050000 41px,#100000 44px,#2d0000 47px,#6b0000 50px,#d50000 53px,#ff6700 56px,#fffa00 59px,#ffff86 62px,#ffff85 65px,#fff800 68px,#ff6400 71px,#d30000 74px,#690000 77px,#2c0000 80px,#100000 83px,#050000 86px,#010000 89px,#000 92px)"></i><i style="top:94px;background:linear-gradient(90deg,#000 38px,#020000 38px,#060000 41px,#130000 44px,#340000 47px,#780000 50px,#ea0000 53px,#ff8000 56px,#ffff1a 59px,#ffff98 62px,#ffff83 65px,#ffec00 68px,#ff5500 71px,#c70000 74px,#620000 77px,#280000 80px,#0e0000 83px,#040000 86px,#000 89px)"></i><i style="top:95px;background:linear-gradient(90deg,#000 37px,#010000 37px,#050000 40px,#100000 43px,#2c0000 46px,#690000 49px,#d30000 52px,#ff6500 55px,#fffb00 58px,#ffff93 61px,#ffff9d 64px,#ffff16 67px,#ff7a00 70px,#e50000 73px,#750000 76px,#320000 79px,#120000 82px,#060000 85px,#010000 88px,#000 91px)"></i><i style="top:96px;background:linear-gradient(90deg,#000 37px,#020000 37px,#060000 40px,#130000 43px,#330000 46px,#770000 49px,#e70000 52px,#ff7e00 55px,#ffff1c 58px,#ffffa5 61px,#ffff9c 64px,#ffff05 67px,#ff6b00 70px,#d80000 73px,#6c0000 76px,#2e0000 79px,#100000 82px,#050000 85px,#010000 88px,#000 91px)"></i><i style="top:97px;background:linear-gradient(90deg,#000 36px,#010000 36px,#050000 39px,#0f0000 42px,#2b0000 45px,#670000 48px,#d00000 51px,#ff6200 54px,#fffb00 57px,#ffff9c 60px,#ffffb3 63px,#ffff35 66px,#ff9000 69px,#f70000 72px,#810000 75px,#390000 78px,#150000 81px,#070000 84px,#020000 87px,#000 90px)"></i><i style="top:98px;background:linear-gradient(90deg,#000 36px,#010000 36px,#060000 39px,#120000 42px,#320000 45px,#740000 48px,#e40000 51px,#ff7a00 54px,#ffff1c 57px,#ffffb0 60px,#ffffb3 63px,#ffff24 66px,#ff8100 69px,#e90000 72px,#780000 75px,#340000 78px,#130000 81px,#060000 84px,#020000 87px,#000 90px)"></i><i style="top:99px;background:linear-gradient(90deg,#000 35px,#010000 35px,#050000 38px,#0f0000 41px,#2b0000 44px,#650000 47px,#cc0000 50px,#ff5e00 53px,#fffa00 56px,#ffffa3 59px,#ffffc7 62px,#ffff52 65px,#ffa600 68px,#ff0a00 71px,#8e0000 74px,#400000 77px,#190000 80px,#080000 83px,#020000 86px,#000 89px)"></i><i style="top:100px;background:linear-gradient(90deg,#000 35px,#010000 35px,#060000 38px,#120000 41px,#310000 44px,#720000 47px,#e00000 50px,#ff7600 53px,#ffff1b 56px,#ffffb8 59px,#ffffc7 62px,#ffff42 65px,#ff9600 68px,#fb0000 71px,#840000 74px,#3b0000 77px,#160000 80px,#070000 83px,#020000 86px,#000 89px)"></i><i style="top:101px;background:linear-gradient(90deg,#000 34px,#010000 34px,#040000 37px,#0f0000 40px,#2a0000 43px,#630000 46px,#c90000 49px,#ff5a00 52px,#fff700 55px,#ffffa8 58px,#ffffd7 61px,#ffff6d 64px,#ffba00 67px,#ff1d00 70px,#9b0000 73px,#480000 76px,#1c0000 79px,#090000 82px,#030000 85px,#000 88px)"></i><i style="top:102px;background:linear-gradient(90deg,#000 34px,#010000 34px,#050000 37px,#120000 40px,#300000 43px,#6f0000 46px,#dc0000 49px,#ff7200 52px,#ffff16 55px,#ffffbc 58px,#ffffd8 61px,#ffff5d 64px,#ffaa00 67px,#ff0d00 70px,#900000 73px,#420000 76px,#190000 79px,#080000 82px,#020000 85px,#000 88px)"></i><i style="top:103px;background:linear-gradient(90deg,#000 33px,#010000 33px,#040000 36px,#0e0000 39px,#290000 42px,#610000 45px,#c40000 48px,#ff5400 51px,#fff300 54px,#ffffa9 57px,#ffffe5 60px,#ffff86 63px,#ffce00 66px,#ff2f00 69px,#a80000 72px,#500000 75px,#200000 78px,#0b0000 81px,#030000 84px,#000 87px)"></i><i style="top:104px;background:linear-gradient(90deg,#000 33px,#010000 33px,#050000 36px,#110000 39px,#2f0000 42px,#6d0000 45px,#d70000 48px,#ff6c00 51px,#ffff10 54px,#ffffbe 57px,#ffffe6 60px,#ffff75 63px,#ffbd00 66px,#ff1f00 69px,#9d0000 72px,#490000 75px,#1d0000 78px,#0a0000 81px,#030000 84px,#000 87px)"></i><i style="top:105px;background:linear-gradient(90deg,#000 32px,#010000 32px,#040000 35px,#0e0000 38px,#270000 41px,#5e0000 44px,#c00000 47px,#ff4e00 50px,#ffee00 53px,#ffffa8 56px,#ffffef 59px,#ffff9c 62px,#ffe100 65px,#ff4100 68px,#b60000 71px,#580000 74px,#240000 77px,#0d0000 80px,#040000 83px,#000 86px)"></i><i style="top:106px;background:linear-gradient(90deg,#000 32px,#010000 32px,#050000 35px,#110000 38px,#2e0000 41px,#6a0000 44px,#d20000 47px,#ff6500 50px,#ffff08 53px,#ffffbe 56px,#fffff1 59px,#ffff8c 62px,#ffd000 65px,#ff3000 68px,#aa0000 71px,#510000 74px,#210000 77px,#0b0000 80px,#030000 83px,#000 86px)"></i><i style="top:107px;background:linear-gradient(90deg,#000 31px,#010000 31px,#040000 34px,#0e0000 37px,#260000 40px,#5c0000 43px,#bb0000 46px,#ff4700 49px,#ffe800 52px,#ffffa5 55px,#fffff6 58px,#ffffaf 61px,#fff300 64px,#ff5300 67px,#c40000 70px,#610000 73px,#290000 76px,#0f0000 79px,#050000 82px,#010000 85px,#000 88px)"></i><i style="top:108px;background:linear-gradient(90deg,#000 31px,#010000 31px,#050000 34px,#100000 37px,#2c0000 40px,#670000 43px,#cd0000 46px,#ff5e00 49px,#fffe00 52px,#ffffba 55px,#fffff9 58px,#ffff9f 61px,#ffe100 64px,#ff4100 67px,#b70000 70px,#590000 73px,#250000 76px,#0d0000 79px,#040000 82px,#000 85px)"></i><i style="top:109px;background:linear-gradient(90deg,#000 31px,#020000 31px,#060000 34px,#130000 37px,#330000 40px,#730000 43px,#df0000 46px,#ff7500 49px,#ffff1e 52px,#ffffcd 55px,#fffff8 58px,#ffff8d 61px,#ffcf00 64px,#ff3000 67px,#aa0000 70px,#520000 73px,#220000 76px,#0c0000 79px,#040000 82px,#000 85px)"></i><i style="top:110px;background:linear-gradient(90deg,#000 30px,#010000 30px,#050000 33px,#100000 36px,#2b0000 39px,#640000 42px,#c70000 45px,#ff5600 48px,#fff600 51px,#ffffb4 54px,#fffffd 57px,#ffffb0 60px,#fff100 63px,#ff5200 66px,#c40000 69px,#620000 72px,#2a0000 75px,#0f0000 78px,#050000 81px,#010000 84px,#000 87px)"></i><i style="top:111px;background:linear-gradient(90deg,#000 30px,#020000 30px,#060000 33px,#120000 36px,#310000 39px,#6f0000 42px,#d90000 45px,#ff6c00 48px,#ffff11 51px,#ffffc6 54px,#fffffd 57px,#ffff9d 60px,#ffdf00 63px,#ff4000 66px,#b70000 69px,#5a0000 72px,#260000 75px,#0e0000 78px,#040000 81px,#010000 84px,#000 87px)"></i><i style="top:112px;background:linear-gradient(90deg,#000 29px,#010000 29px,#050000 32px,#0f0000 35px,#290000 38px,#600000 41px,#c10000 44px,#ff4e00 47px,#ffed00 50px,#ffffab 53px,#ffffff 56px,#ffffbd 59px,#ffff02 62px,#ff6200 65px,#d10000 68px,#6a0000 71px,#2e0000 74px,#110000 77px,#060000 80px,#020000 83px,#000 86px)"></i><i style="top:113px;background:linear-gradient(90deg,#000 29px,#020000 29px,#060000 32px,#120000 35px,#300000 38px,#6e0000 41px,#d50000 44px,#ff6700 47px,#ffff08 50px,#ffffc0 53px,#fffffe 56px,#ffffa8 59px,#ffeb00 62px,#ff4d00 65px,#c10000 68px,#610000 71px,#2a0000 74px,#0f0000 77px,#050000 80px,#010000 83px,#000 86px)"></i><i style="top:114px;background:linear-gradient(90deg,#000 28px,#010000 28px,#050000 31px,#100000 34px,#2b0000 37px,#620000 40px,#c30000 43px,#ff4f00 46px,#ffec00 49px,#ffffa9 52px,#fffffe 55px,#ffffc0 58px,#ffff0a 61px,#ff6900 64px,#d80000 67px,#6f0000 70px,#320000 73px,#130000 76px,#060000 79px,#020000 82px,#000 85px)"></i><i style="top:115px;background:linear-gradient(90deg,#000 27px,#010000 27px,#040000 30px,#0e0000 33px,#260000 36px,#580000 39px,#b20000 42px,#ff3800 45px,#ffd400 48px,#ffff8e 51px,#fffff9 54px,#ffffd4 57px,#ffff2f 60px,#ff8500 63px,#f00000 66px,#800000 69px,#3b0000 72px,#170000 75px,#080000 78px,#020000 81px,#000 84px)"></i><i style="top:116px;background:linear-gradient(90deg,#000 27px,#020000 27px,#060000 30px,#110000 33px,#2d0000 36px,#660000 39px,#c80000 42px,#ff5300 45px,#ffee00 48px,#ffffa8 51px,#fffffb 54px,#ffffbf 57px,#ffff0c 60px,#ff6c00 63px,#dc0000 66px,#730000 69px,#340000 72px,#140000 75px,#070000 78px,#020000 81px,#000 84px)"></i><i style="top:117px;background:linear-gradient(90deg,#000 26px,#010000 26px,#050000 29px,#0f0000 32px,#280000 35px,#5b0000 38px,#b60000 41px,#ff3b00 44px,#ffd500 47px,#ffff8d 50px,#fffff5 53px,#ffffd1 56px,#ffff2f 59px,#ff8800 62px,#f40000 65px,#830000 68px,#3d0000 71px,#190000 74px,#090000 77px,#030000 80px,#000 83px)"></i><i style="top:118px;background:linear-gradient(90deg,#000 25px,#010000 25px,#040000 28px,#0d0000 31px,#230000 34px,#520000 37px,#a60000 40px,#ff2400 43px,#ffbc00 46px,#ffff6f 49px,#ffffeb 52px,#ffffdf 55px,#ffff50 58px,#ffa300 61px,#ff0d00 64px,#950000 67px,#480000 70px,#1e0000 73px,#0b0000 76px,#030000 79px,#000 82px)"></i><i style="top:119px;background:linear-gradient(90deg,#000 25px,#020000 25px,#050000 28px,#100000 31px,#2a0000 34px,#5f0000 37px,#ba0000 40px,#ff3e00 43px,#ffd600 46px,#ffff8a 49px,#ffffef 52px,#ffffcc 55px,#ffff2e 58px,#ff8a00 61px,#f70000 64px,#870000 67px,#400000 70px,#1a0000 73px,#090000 76px,#030000 79px,#000 82px)"></i><i style="top:120px;background:linear-gradient(90deg,#000 24px,#010000 24px,#050000 27px,#0e0000 30px,#250000 33px,#550000 36px,#a90000 39px,#ff2700 42px,#ffbd00 45px,#ffff6c 48px,#ffffe4 51px,#ffffd8 54px,#ffff4d 57px,#ffa400 60px,#ff1000 63px,#980000 66px,#4a0000 69px,#200000 72px,#0c0000 75px,#040000 78px,#000 81px)"></i><i style="top:121px;background:linear-gradient(90deg,#000 24px,#020000 24px,#060000 27px,#110000 30px,#2c0000 33px,#610000 36px,#bd0000 39px,#ff4000 42px,#ffd600 45px,#ffff85 48px,#ffffe8 51px,#ffffc6 54px,#ffff2b 57px,#ff8b00 60px,#fa0000 63px,#8a0000 66px,#420000 69px,#1c0000 72px,#0a0000 75px,#030000 78px,#000 81px)"></i><i style="top:122px;background:linear-gradient(90deg,#000 23px,#010000 23px,#050000 26px,#0f0000 29px,#260000 32px,#570000 35px,#ac0000 38px,#ff2900 41px,#ffbd00 44px,#ffff66 47px,#ffffdc 50px,#ffffd0 53px,#ffff49 56px,#ffa400 59px,#ff1200 62px,#9b0000 65px,#4d0000 68px,#210000 71px,#0c0000 74px,#040000 77px,#000 80px)"></i><i style="top:123px;background:linear-gradient(90deg,#000 22px,#010000 22px,#040000 25px,#0d0000 28px,#220000 31px,#4e0000 34px,#9d0000 37px,#ff1300 40px,#ffa300 43px,#ffff46 46px,#ffffcc 49px,#ffffd7 52px,#ffff63 55px,#ffbc00 58px,#ff2a00 61px,#ae0000 64px,#590000 67px,#270000 70px,#0f0000 73px,#050000 76px,#020000 79px,#000 82px)"></i><i style="top:124px;background:linear-gradient(90deg,#000 22px,#020000 22px,#050000 25px,#100000 28px,#280000 31px,#5a0000 34px,#af0000 37px,#ff2b00 40px,#ffbb00 43px,#ffff5f 46px,#ffffd1 49px,#ffffc6 52px,#ffff43 55px,#ffa300 58px,#ff1400 61px,#9e0000 64px,#4f0000 67px,#230000 70px,#0d0000 73px,#040000 76px,#010000 79px,#000 82px)"></i><i style="top:125px;background:linear-gradient(90deg,#000 21px,#010000 21px,#050000 24px,#0e0000 27px,#230000 30px,#500000 33px,#9f0000 36px,#ff1400 39px,#ffa200 42px,#ffff3f 45px,#ffffc0 48px,#ffffcb 51px,#ffff5b 54px,#ffba00 57px,#ff2b00 60px,#b00000 63px,#5b0000 66px,#290000 69px,#100000 72px,#060000 75px,#020000 78px,#000 81px)"></i><i style="top:126px;background:linear-gradient(90deg,#000 21px,#020000 21px,#060000 24px,#110000 27px,#2a0000 30px,#5c0000 33px,#b10000 36px,#ff2b00 39px,#ffb900 42px,#ffff56 45px,#ffffc5 48px,#ffffba 51px,#ffff3a 54px,#ffa100 57px,#ff1500 60px,#a00000 63px,#510000 66px,#240000 69px,#0e0000 72px,#050000 75px,#010000 78px,#000 81px)"></i><i style="top:127px;background:linear-gradient(90deg,#000 20px,#020000 20px,#050000 23px,#0e0000 26px,#250000 29px,#520000 32px,#a10000 35px,#ff1500 38px,#ffa000 41px,#ffff36 44px,#ffffb4 47px,#ffffbe 50px,#ffff51 53px,#ffb700 56px,#ff2b00 59px,#b20000 62px,#5d0000 65px,#2b0000 68px,#110000 71px,#060000 74px,#020000 77px,#000 80px)"></i><i style="top:128px;background:linear-gradient(90deg,#000 19px,#010000 19px,#040000 22px,#0d0000 25px,#200000 28px,#4a0000 31px,#920000 34px,#ff0000 37px,#ff8700 40px,#ffff14 43px,#ffff9f 46px,#ffffbe 49px,#ffff65 52px,#ffcc00 55px,#ff4100 58px,#c40000 61px,#690000 64px,#320000 67px,#150000 70px,#070000 73px,#020000 76px,#000 79px)"></i><i style="top:129px;background:linear-gradient(90deg,#000 19px,#020000 19px,#050000 22px,#0f0000 25px,#260000 28px,#540000 31px,#a30000 34px,#ff1500 37px,#ff9c00 40px,#ffff2b 43px,#ffffa5 46px,#ffffaf 49px,#ffff46 52px,#ffb300 55px,#ff2b00 58px,#b30000 61px,#5f0000 64px,#2c0000 67px,#120000 70px,#060000 73px,#020000 76px,#000 79px)"></i><i style="top:130px;background:linear-gradient(90deg,#000 18px,#010000 18px,#050000 21px,#0d0000 24px,#220000 27px,#4b0000 30px,#940000 33px,#ff0000 36px,#ff8400 39px,#ffff09 42px,#ffff90 45px,#ffffae 48px,#ffff58 51px,#ffc700 54px,#ff4000 57px,#c50000 60px,#6b0000 63px,#330000 66px,#160000 69px,#080000 72px,#030000 75px,#000 78px)"></i><i style="top:131px;background:linear-gradient(90deg,#000 18px,#020000 18px,#060000 21px,#100000 24px,#280000 27px,#560000 30px,#a40000 33px,#ff1400 36px,#ff9800 39px,#ffff1f 42px,#ffff95 45px,#ffff9e 48px,#ffff39 51px,#ffae00 54px,#ff2900 57px,#b40000 60px,#600000 63px,#2d0000 66px,#130000 69px,#070000 72px,#020000 75px,#000 78px)"></i><i style="top:132px;background:linear-gradient(90deg,#000 17px,#020000 17px,#050000 20px,#0e0000 23px,#230000 26px,#4d0000 29px,#950000 32px,#fe0000 35px,#ff8000 38px,#fffd00 41px,#ffff7f 44px,#ffff9c 47px,#ffff49 50px,#ffc100 53px,#ff3e00 56px,#c50000 59px,#6d0000 62px,#350000 65px,#160000 68px,#080000 71px,#030000 74px,#000 77px)"></i><i style="top:133px;background:linear-gradient(90deg,#000 16px,#010000 16px,#040000 19px,#0c0000 22px,#1f0000 25px,#450000 28px,#870000 31px,#ea0000 34px,#ff6800 37px,#ffe600 40px,#ffff67 43px,#ffff96 46px,#ffff55 49px,#ffd200 52px,#ff5200 55px,#d70000 58px,#790000 61px,#3c0000 64px,#1b0000 67px,#0a0000 70px,#040000 73px,#000 76px)"></i><i style="top:134px;background:linear-gradient(90deg,#000 16px,#020000 16px,#050000 19px,#0f0000 22px,#240000 25px,#4e0000 28px,#950000 31px,#fd0000 34px,#ff7b00 37px,#fff400 40px,#ffff6d 43px,#ffff89 46px,#ffff39 49px,#ffba00 52px,#ff3b00 55px,#c50000 58px,#6e0000 61px,#360000 64px,#170000 67px,#090000 70px,#030000 73px,#000 76px)"></i><i style="top:135px;background:linear-gradient(90deg,#000 15px,#010000 15px,#050000 18px,#0d0000 21px,#200000 24px,#460000 27px,#870000 30px,#e90000 33px,#ff6300 36px,#ffdd00 39px,#ffff55 42px,#ffff82 45px,#ffff44 48px,#ffca00 51px,#ff4e00 54px,#d70000 57px,#7a0000 60px,#3e0000 63px,#1b0000 66px,#0b0000 69px,#040000 72px,#000 75px)"></i><i style="top:136px;background:linear-gradient(90deg,#000 15px,#020000 15px,#060000 18px,#0f0000 21px,#250000 24px,#4f0000 27px,#960000 30px,#fb0000 33px,#ff7500 36px,#ffea00 39px,#ffff5a 42px,#ffff74 45px,#ffff27 48px,#ffb200 51px,#ff3700 54px,#c50000 57px,#6e0000 60px,#370000 63px,#180000 66px,#090000 69px,#030000 72px,#000 75px)"></i><i style="top:137px;background:linear-gradient(90deg,#000 14px,#020000 14px,#050000 17px,#0d0000 20px,#210000 23px,#470000 26px,#880000 29px,#e70000 32px,#ff5e00 35px,#ffd400 38px,#ffff41 41px,#ffff6c 44px,#ffff31 47px,#ffc100 50px,#ff4900 53px,#d50000 56px,#7b0000 59px,#3f0000 62px,#1c0000 65px,#0b0000 68px,#040000 71px,#010000 74px,#000 77px)"></i><i style="top:138px;background:linear-gradient(90deg,#000 13px,#010000 13px,#040000 16px,#0c0000 19px,#1d0000 22px,#3f0000 25px,#7b0000 28px,#d40000 31px,#ff4700 34px,#ffbd00 37px,#ffff27 40px,#ffff61 43px,#ffff37 46px,#ffcf00 49px,#ff5b00 52px,#e60000 55px,#880000 58px,#470000 61px,#210000 64px,#0e0000 67px,#050000 70px,#020000 73px,#000 76px)"></i><i style="top:139px;background:linear-gradient(90deg,#000 13px,#020000 13px,#050000 16px,#0e0000 19px,#220000 22px,#480000 25px,#880000 28px,#e60000 31px,#ff5900 34px,#ffcb00 37px,#ffff2e 40px,#ffff55 43px,#ffff1b 46px,#ffb600 49px,#ff4200 52px,#d20000 55px,#7a0000 58px,#3f0000 61px,#1d0000 64px,#0c0000 67px,#040000 70px,#010000 73px,#000 76px)"></i><i style="top:140px;background:linear-gradient(90deg,#000 12px,#010000 12px,#050000 15px,#0c0000 18px,#1e0000 21px,#410000 24px,#7d0000 27px,#d50000 30px,#ff4500 33px,#ffb600 36px,#ffff16 39px,#ffff4a 42px,#ffff1e 45px,#ffbf00 48px,#ff4f00 51px,#de0000 54px,#830000 57px,#450000 60px,#200000 63px,#0d0000 66px,#050000 69px,#020000 72px,#000 75px)"></i><i style="top:141px;background:linear-gradient(90deg,#000 11px,#010000 11px,#040000 14px,#0b0000 17px,#1b0000 20px,#3b0000 23px,#720000 26px,#c60000 29px,#ff3200 32px,#ffa200 35px,#fffd00 38px,#ffff3c 41px,#ffff1e 44px,#ffc700 47px,#ff5b00 50px,#ea0000 53px,#8d0000 56px,#4c0000 59px,#240000 62px,#0f0000 65px,#060000 68px,#020000 71px,#000 74px)"></i><i style="top:142px;background:linear-gradient(90deg,#000 11px,#020000 11px,#050000 14px,#0d0000 17px,#1f0000 20px,#430000 23px,#7f0000 26px,#d70000 29px,#ff4400 32px,#ffb000 35px,#ffff05 38px,#ffff32 41px,#ffff02 44px,#ffae00 47px,#ff4100 50px,#d40000 53px,#7d0000 56px,#420000 59px,#1f0000 62px,#0d0000 65px,#050000 68px,#020000 71px,#000 74px)"></i><i style="top:143px;background:linear-gradient(90deg,#000 10px,#010000 10px,#040000 13px,#0c0000 16px,#1c0000 19px,#3d0000 22px,#740000 25px,#c70000 28px,#ff3000 31px,#ff9c00 34px,#fff200 37px,#ffff24 40px,#ffff02 43px,#ffb500 46px,#ff4c00 49px,#e00000 52px,#870000 55px,#480000 58px,#220000 61px,#0f0000 64px,#060000 67px,#020000 70px,#000 73px)"></i><i style="top:144px;background:linear-gradient(90deg,#000 10px,#020000 10px,#050000 13px,#0e0000 16px,#210000 19px,#450000 22px,#810000 25px,#d80000 28px,#ff4200 31px,#ffa900 34px,#fff600 37px,#ffff18 40px,#ffee00 43px,#ff9c00 46px,#ff3200 49px,#ca0000 52px,#770000 55px,#3f0000 58px,#1d0000 61px,#0c0000 64px,#050000 67px,#020000 70px,#000 73px)"></i><i style="top:145px;background:linear-gradient(90deg,#000 9px,#020000 9px,#050000 12px,#0c0000 15px,#1d0000 18px,#3e0000 21px,#760000 24px,#c80000 27px,#ff2e00 30px,#ff9600 33px,#ffe600 36px,#ffff0b 39px,#ffee00 42px,#ffa300 45px,#ff3d00 48px,#d50000 51px,#800000 54px,#450000 57px,#210000 60px,#0e0000 63px,#050000 66px,#020000 69px,#000 72px)"></i><i style="top:146px;background:linear-gradient(90deg,#000 8px,#010000 8px,#040000 11px,#0b0000 14px,#1a0000 17px,#380000 20px,#6c0000 23px,#b90000 26px,#ff1c00 29px,#ff8200 32px,#ffd500 35px,#fffd00 38px,#ffec00 41px,#ffa900 44px,#ff4700 47px,#e00000 50px,#890000 53px,#4b0000 56px,#240000 59px,#100000 62px,#060000 65px,#020000 68px,#000 71px)"></i><i style="top:147px;background:linear-gradient(90deg,#000 8px,#020000 8px,#050000 11px,#0d0000 14px,#1f0000 17px,#400000 20px,#780000 23px,#c80000 26px,#ff2b00 29px,#ff8e00 32px,#ffd900 35px,#fff500 38px,#ffda00 41px,#ff9100 44px,#ff2e00 47px,#cb0000 50px,#7a0000 53px,#410000 56px,#1f0000 59px,#0d0000 62px,#050000 65px,#020000 68px,#000 71px)"></i><i style="top:148px;background:linear-gradient(90deg,#000 7px,#010000 7px,#040000 10px,#0b0000 13px,#1b0000 16px,#3a0000 19px,#6d0000 22px,#b90000 25px,#ff1900 28px,#ff7b00 31px,#ffc900 34px,#ffeb00 37px,#ffd900 40px,#ff9600 43px,#ff3800 46px,#d50000 49px,#820000 52px,#470000 55px,#230000 58px,#0f0000 61px,#060000 64px,#020000 67px,#000 70px)"></i><i style="top:149px;background:linear-gradient(90deg,#000 7px,#020000 7px,#050000 10px,#0e0000 13px,#200000 16px,#410000 19px,#790000 22px,#c80000 25px,#ff2800 28px,#ff8600 31px,#ffcb00 34px,#ffe300 37px,#ffc600 40px,#ff7e00 43px,#ff1f00 46px,#c00000 49px,#730000 52px,#3e0000 55px,#1e0000 58px,#0d0000 61px,#050000 64px,#020000 67px,#000 70px)"></i><i style="top:150px;background:linear-gradient(90deg,#000 6px,#020000 6px,#050000 9px,#0c0000 12px,#1c0000 15px,#3b0000 18px,#6f0000 21px,#b90000 24px,#ff1500 27px,#ff7300 30px,#ffbb00 33px,#ffda00 36px,#ffc500 39px,#ff8300 42px,#ff2800 45px,#ca0000 48px,#7b0000 51px,#430000 54px,#210000 57px,#0e0000 60px,#060000 63px,#020000 66px,#000 69px)"></i><i style="top:151px;background:linear-gradient(90deg,#000 5px,#010000 5px,#040000 8px,#0b0000 11px,#190000 14px,#350000 17px,#650000 20px,#ab0000 23px,#ff0400 26px,#ff6000 29px,#ffab00 32px,#ffcf00 35px,#ffc200 38px,#ff8700 41px,#ff3000 44px,#d30000 47px,#830000 50px,#490000 53px,#240000 56px,#100000 59px,#060000 62px,#020000 65px,#000 68px)"></i><i style="top:152px;background:linear-gradient(90deg,#000 5px,#020000 5px,#050000 8px,#0d0000 11px,#1d0000 14px,#3c0000 17px,#6f0000 20px,#b80000 23px,#ff1100 26px,#ff6a00 29px,#ffad00 32px,#ffc700 35px,#ffb100 38px,#ff7100 41px,#ff1900 44px,#bf0000 47px,#740000 50px,#400000 53px,#1f0000 56px,#0e0000 59px,#050000 62px,#020000 65px,#000 68px)"></i><i style="top:153px;background:linear-gradient(90deg,#000 4px,#010000 4px,#040000 7px,#0b0000 10px,#1a0000 13px,#360000 16px,#660000 19px,#aa0000 22px,#ff0000 25px,#ff5800 28px,#ff9d00 31px,#ffbd00 34px,#ffae00 37px,#ff7400 40px,#ff2000 43px,#c70000 46px,#7c0000 49px,#450000 52px,#220000 55px,#0f0000 58px,#060000 61px,#020000 64px,#000 67px)"></i><i style="top:154px;background:linear-gradient(90deg,#000 4px,#020000 4px,#050000 7px,#0d0000 10px,#1e0000 13px,#3d0000 16px,#700000 19px,#b60000 22px,#ff0c00 25px,#ff6000 28px,#ff9e00 31px,#ffb500 34px,#ff9d00 37px,#ff5e00 40px,#ff0a00 43px,#b40000 46px,#6e0000 49px,#3c0000 52px,#1d0000 55px,#0d0000 58px,#050000 61px,#020000 64px,#000 67px)"></i><i style="top:155px;background:linear-gradient(90deg,#000 3px,#020000 3px,#050000 6px,#0c0000 9px,#1b0000 12px,#370000 15px,#660000 18px,#a90000 21px,#fa0000 24px,#ff4e00 27px,#ff8f00 30px,#ffab00 33px,#ff9a00 36px,#ff6100 39px,#ff1100 42px,#bc0000 45px,#750000 48px,#410000 51px,#200000 54px,#0f0000 57px,#060000 60px,#020000 63px,#000 66px)"></i><i style="top:156px;background:linear-gradient(90deg,#000 2px,#010000 2px,#040000 5px,#0a0000 8px,#180000 11px,#320000 14px,#5d0000 17px,#9c0000 20px,#ea0000 23px,#ff3d00 26px,#ff8000 29px,#ffa100 32px,#ff9600 35px,#ff6300 38px,#ff1700 41px,#c40000 44px,#7c0000 47px,#460000 50px,#240000 53px,#100000 56px,#070000 59px,#020000 62px,#000 65px)"></i><i style="top:157px;background:linear-gradient(90deg,#000 2px,#020000 2px,#050000 5px,#0c0000 8px,#1b0000 11px,#380000 14px,#660000 17px,#a70000 20px,#f50000 23px,#ff4500 26px,#ff8000 29px,#ff9900 32px,#ff8600 35px,#ff4e00 38px,#ff0200 41px,#b10000 44px,#6e0000 47px,#3d0000 50px,#1f0000 53px,#0e0000 56px,#060000 59px,#020000 62px,#000 65px)"></i><i style="top:158px;background:linear-gradient(90deg,#000 1px,#010000 1px,#040000 4px,#0b0000 7px,#180000 10px,#320000 13px,#5d0000 16px,#9a0000 19px,#e50000 22px,#ff3400 25px,#ff7100 28px,#ff8e00 31px,#ff8200 34px,#ff5000 37px,#ff0700 40px,#b80000 43px,#740000 46px,#420000 49px,#210000 52px,#0f0000 55px,#060000 58px,#020000 61px,#000 64px)"></i><i style="top:159px;background:linear-gradient(90deg,#000 1px,#020000 1px,#050000 4px,#0d0000 7px,#1c0000 10px,#380000 13px,#660000 16px,#a50000 19px,#ef0000 22px,#ff3a00 25px,#ff7100 28px,#ff8600 31px,#ff7200 34px,#ff3c00 37px,#f20000 40px,#a60000 43px,#670000 46px,#390000 49px,#1d0000 52px,#0d0000 55px,#050000 58px,#020000 61px,#000 64px)"></i><i style="top:160px;background:linear-gradient(90deg,#000 0px,#020000 0px,#040000 3px,#0b0000 6px,#190000 9px,#330000 12px,#5d0000 15px,#980000 18px,#e00000 21px,#ff2a00 24px,#ff6300 27px,#ff7c00 30px,#ff6e00 33px,#ff3e00 36px,#f70000 39px,#ad0000 42px,#6d0000 45px,#3e0000 48px,#1f0000 51px,#0e0000 54px,#060000 57px,#020000 60px,#000 63px)"></i><i style="top:161px;background:linear-gradient(90deg,#000 0px,#020000 0px,#050000 3px,#0d0000 6px,#1d0000 9px,#390000 12px,#650000 15px,#a20000 18px,#e90000 21px,#ff2f00 24px,#ff6200 27px,#ff7300 30px,#ff5f00 33px,#ff2a00 36px,#e30000 39px,#9c0000 42px,#610000 45px,#360000 48px,#1b0000 51px,#0c0000 54px,#050000 57px,#020000 60px,#000 63px)"></i><i style="top:162px;background:linear-gradient(90deg,#000 0px,#020000 0px,#060000 3px,#0f0000 6px,#210000 9px,#3f0000 12px,#6d0000 15px,#ab0000 18px,#f20000 21px,#ff3400 24px,#ff5f00 27px,#ff6900 30px,#ff4e00 33px,#ff1700 36px,#d00000 39px,#8c0000 42px,#550000 45px,#2f0000 48px,#170000 51px,#0a0000 54px,#040000 57px,#010000 60px,#000 63px)"></i><i style="top:163px;background:linear-gradient(90deg,#000 0px,#030000 0px,#080000 3px,#120000 6px,#250000 9px,#450000 12px,#760000 15px,#b50000 18px,#f90000 21px,#ff3600 24px,#ff5b00 27px,#ff5e00 30px,#ff3d00 33px,#ff0300 36px,#be0000 39px,#7e0000 42px,#4b0000 45px,#280000 48px,#140000 51px,#090000 54px,#030000 57px,#000 60px)"></i><i style="top:164px;background:linear-gradient(90deg,#000 0px,#040000 0px,#090000 3px,#140000 6px,#290000 9px,#4c0000 12px,#7e0000 15px,#bd0000 18px,#ff0100 21px,#ff3800 24px,#ff5500 27px,#ff5100 30px,#ff2c00 33px,#ef0000 36px,#ad0000 39px,#710000 42px,#420000 45px,#230000 48px,#110000 51px,#070000 54px,#030000 57px,#000 60px)"></i><i style="top:165px;background:linear-gradient(90deg,#000 0px,#040000 0px,#0a0000 3px,#170000 6px,#2e0000 9px,#530000 12px,#870000 15px,#c60000 18px,#ff0600 21px,#ff3700 24px,#ff4e00 27px,#ff4300 30px,#ff1a00 33px,#dd0000 36px,#9d0000 39px,#640000 42px,#3a0000 45px,#1e0000 48px,#0e0000 51px,#060000 54px,#020000 57px,#000 60px)"></i><i style="top:166px;background:linear-gradient(90deg,#000 0px,#050000 0px,#0c0000 3px,#1a0000 6px,#330000 9px,#5a0000 12px,#8f0000 15px,#cd0000 18px,#ff0a00 21px,#ff3600 24px,#ff4600 27px,#ff3500 30px,#ff0800 33px,#cb0000 36px,#8d0000 39px,#590000 42px,#320000 45px,#1a0000 48px,#0c0000 51px,#050000 54px,#020000 57px,#000 60px)"></i><i style="top:167px;background:linear-gradient(90deg,#000 0px,#060000 0px,#0e0000 3px,#1e0000 6px,#380000 9px,#610000 12px,#970000 15px,#d40000 18px,#ff0d00 21px,#ff3300 24px,#ff3c00 27px,#ff2600 30px,#f60000 33px,#ba0000 36px,#7f0000 39px,#4f0000 42px,#2c0000 45px,#160000 48px,#0a0000 51px,#040000 54px,#020000 57px,#000 60px)"></i><i style="top:168px;background:linear-gradient(90deg,#000 0px,#070000 0px,#100000 3px,#210000 6px,#3e0000 9px,#680000 12px,#9f0000 15px,#d90000 18px,#ff0e00 21px,#ff2e00 24px,#ff3100 27px,#ff1700 30px,#e50000 33px,#aa0000 36px,#720000 39px,#450000 42px,#260000 45px,#130000 48px,#080000 51px,#030000 54px,#000 57px)"></i><i style="top:169px;background:linear-gradient(90deg,#000 0px,#080000 0px,#120000 3px,#250000 6px,#440000 9px,#700000 12px,#a60000 15px,#df0000 18px,#ff0f00 21px,#ff2900 24px,#ff2600 27px,#ff0700 30px,#d30000 33px,#9a0000 36px,#650000 39px,#3c0000 42px,#200000 45px,#100000 48px,#070000 51px,#030000 54px,#000 57px)"></i><i style="top:170px;background:linear-gradient(90deg,#000 0px,#0a0000 0px,#150000 3px,#2a0000 6px,#4a0000 9px,#770000 12px,#ad0000 15px,#e30000 18px,#ff0f00 21px,#ff2200 24px,#ff1900 27px,#f50000 30px,#c20000 33px,#8a0000 36px,#590000 39px,#340000 42px,#1b0000 45px,#0d0000 48px,#060000 51px,#020000 54px,#000 57px)"></i><i style="top:171px;background:linear-gradient(90deg,#000 0px,#0b0000 0px,#180000 3px,#2e0000 6px,#500000 9px,#7f0000 12px,#b40000 15px,#e70000 18px,#ff0d00 21px,#ff1a00 24px,#ff0b00 27px,#e40000 30px,#b10000 33px,#7c0000 36px,#4e0000 39px,#2d0000 42px,#170000 45px,#0b0000 48px,#050000 51px,#020000 54px,#000 57px)"></i><i style="top:172px;background:linear-gradient(90deg,#000 0px,#0d0000 0px,#1b0000 3px,#330000 6px,#570000 9px,#860000 12px,#ba0000 15px,#e90000 18px,#ff0a00 21px,#ff1100 24px,#fc0000 27px,#d40000 30px,#a10000 33px,#6e0000 36px,#440000 39px,#260000 42px,#130000 45px,#090000 48px,#040000 51px,#000 54px)"></i><i style="top:173px;background:linear-gradient(90deg,#000 0px,#0f0000 0px,#1f0000 3px,#380000 6px,#5d0000 9px,#8c0000 12px,#bf0000 15px,#ea0000 18px,#ff0500 21px,#ff0700 24px,#ee0000 27px,#c30000 30px,#910000 33px,#620000 36px,#3b0000 39px,#210000 42px,#100000 45px,#070000 48px,#030000 51px,#000 54px)"></i><i style="top:174px;background:linear-gradient(90deg,#000 0px,#110000 0px,#220000 3px,#3d0000 6px,#640000 9px,#920000 12px,#c30000 15px,#ea0000 18px,#ff0000 21px,#fa0000 24px,#df0000 27px,#b40000 30px,#830000 33px,#560000 36px,#330000 39px,#1c0000 42px,#0d0000 45px,#060000 48px,#020000 51px,#000 54px)"></i><i style="top:175px;background:linear-gradient(90deg,#000 0px,#140000 0px,#260000 3px,#430000 6px,#6a0000 9px,#980000 12px,#c60000 15px,#e90000 18px,#f80000 21px,#ef0000 24px,#d00000 27px,#a40000 30px,#750000 33px,#4c0000 36px,#2c0000 39px,#170000 42px,#0b0000 45px,#050000 48px,#020000 51px,#000 54px)"></i><i style="top:176px;background:linear-gradient(90deg,#000 0px,#160000 0px,#2a0000 3px,#480000 6px,#700000 9px,#9d0000 12px,#c80000 15px,#e60000 18px,#f00000 21px,#e20000 24px,#c10000 27px,#950000 30px,#690000 33px,#420000 36px,#260000 39px,#140000 42px,#090000 45px,#040000 48px,#020000 51px,#000 54px)"></i><i style="top:177px;background:linear-gradient(90deg,#000 0px,#190000 0px,#2e0000 3px,#4d0000 6px,#750000 9px,#a10000 12px,#c90000 15px,#e30000 18px,#e70000 21px,#d60000 24px,#b30000 27px,#870000 30px,#5d0000 33px,#3a0000 36px,#200000 39px,#100000 42px,#080000 45px,#030000 48px,#000 51px)"></i><i style="top:178px;background:linear-gradient(90deg,#000 0px,#1c0000 0px,#320000 3px,#520000 6px,#7b0000 9px,#a50000 12px,#c90000 15px,#de0000 18px,#de0000 21px,#c90000 24px,#a40000 27px,#7a0000 30px,#520000 33px,#320000 36px,#1c0000 39px,#0e0000 42px,#060000 45px,#030000 48px,#000 51px)"></i><i style="top:179px;background:linear-gradient(90deg,#000 0px,#1f0000 0px,#370000 3px,#580000 6px,#7f0000 9px,#a80000 12px,#c80000 15px,#d80000 18px,#d40000 21px,#bc0000 24px,#970000 27px,#6e0000 30px,#480000 33px,#2b0000 36px,#170000 39px,#0b0000 42px,#050000 45px,#020000 48px,#000 51px)"></i><i style="top:180px;background:linear-gradient(90deg,#000 0px,#220000 0px,#3b0000 3px,#5d0000 6px,#840000 9px,#aa0000 12px,#c60000 15px,#d20000 18px,#c90000 21px,#af0000 24px,#890000 27px,#620000 30px,#3f0000 33px,#250000 36px,#140000 39px,#090000 42px,#040000 45px,#020000 48px,#000 51px)"></i><i style="top:181px;background:linear-gradient(90deg,#000 0px,#250000 0px,#3f0000 3px,#610000 6px,#870000 9px,#ab0000 12px,#c30000 15px,#ca0000 18px,#be0000 21px,#a20000 24px,#7d0000 27px,#570000 30px,#370000 33px,#200000 36px,#110000 39px,#080000 42px,#030000 45px,#000 48px)"></i><i style="top:182px;background:linear-gradient(90deg,#000 0px,#290000 0px,#440000 3px,#660000 6px,#8a0000 9px,#ab0000 12px,#bf0000 15px,#c20000 18px,#b30000 21px,#950000 24px,#710000 27px,#4d0000 30px,#300000 33px,#1b0000 36px,#0e0000 39px,#060000 42px,#030000 45px,#000 48px)"></i><i style="top:183px;background:linear-gradient(90deg,#000 0px,#2c0000 0px,#480000 3px,#6a0000 6px,#8d0000 9px,#aa0000 12px,#bb0000 15px,#ba0000 18px,#a70000 21px,#890000 24px,#650000 27px,#440000 30px,#2a0000 33px,#170000 36px,#0c0000 39px,#050000 42px,#020000 45px,#000 48px)"></i><i style="top:184px;background:linear-gradient(90deg,#000 0px,#300000 0px,#4c0000 3px,#6d0000 6px,#8f0000 9px,#a90000 12px,#b50000 15px,#b00000 18px,#9c0000 21px,#7d0000 24px,#5b0000 27px,#3c0000 30px,#240000 33px,#130000 36px,#0a0000 39px,#040000 42px,#020000 45px,#000 48px)"></i><i style="top:185px;background:linear-gradient(90deg,#000 0px,#330000 0px,#500000 3px,#700000 6px,#900000 9px,#a60000 12px,#af0000 15px,#a70000 18px,#910000 21px,#720000 24px,#510000 27px,#340000 30px,#1f0000 33px,#100000 36px,#080000 39px,#030000 42px,#000 45px)"></i><i style="top:186px;background:linear-gradient(90deg,#000 0px,#370000 0px,#530000 3px,#730000 6px,#900000 9px,#a30000 12px,#a80000 15px,#9d0000 18px,#850000 21px,#670000 24px,#480000 27px,#2e0000 30px,#1a0000 33px,#0e0000 36px,#060000 39px,#030000 42px,#000 45px)"></i><i style="top:187px;background:linear-gradient(90deg,#000 0px,#3a0000 0px,#570000 3px,#750000 6px,#8f0000 9px,#9f0000 12px,#a10000 15px,#930000 18px,#7b0000 21px,#5d0000 24px,#3f0000 27px,#270000 30px,#160000 33px,#0b0000 36px,#050000 39px,#020000 42px,#000 45px)"></i><i style="top:188px;background:linear-gradient(90deg,#000 0px,#3e0000 0px,#5a0000 3px,#770000 6px,#8e0000 9px,#9b0000 12px,#990000 15px,#8a0000 18px,#700000 21px,#530000 24px,#380000 27px,#220000 30px,#130000 33px,#0a0000 36px,#040000 39px,#020000 42px,#000 45px)"></i><i style="top:189px;background:linear-gradient(90deg,#000 0px,#410000 0px,#5c0000 3px,#780000 6px,#8c0000 9px,#960000 12px,#910000 15px,#800000 18px,#660000 21px,#4a0000 24px,#310000 27px,#1d0000 30px,#100000 33px,#080000 36px,#040000 39px,#000 42px)"></i><i style="top:190px;background:linear-gradient(90deg,#000 0px,#440000 0px,#5f0000 3px,#780000 6px,#8a0000 9px,#900000 12px,#890000 15px,#760000 18px,#5d0000 21px,#420000 24px,#2b0000 27px,#190000 30px,#0d0000 33px,#060000 36px,#030000 39px,#000 42px)"></i><i style="top:191px;background:linear-gradient(90deg,#000 0px,#470000 0px,#600000 3px,#780000 6px,#870000 9px,#8a0000 12px,#800000 15px,#6d0000 18px,#540000 21px,#3a0000 24px,#250000 27px,#150000 30px,#0b0000 33px,#050000 36px,#020000 39px,#000 42px)"></i><i style="top:192px;background:linear-gradient(90deg,#000 0px,#490000 0px,#620000 3px,#770000 6px,#830000 9px,#840000 12px,#780000 15px,#640000 18px,#4b0000 21px,#330000 24px,#200000 27px,#120000 30px,#090000 33px,#040000 36px,#020000 39px,#000 42px)"></i><i style="top:193px;background:linear-gradient(90deg,#000 0px,#4b0000 0px,#630000 3px,#750000 6px,#7f0000 9px,#7d0000 12px,#700000 15px,#5b0000 18px,#430000 21px,#2d0000 24px,#1c0000 27px,#0f0000 30px,#080000 33px,#040000 36px,#000 39px)"></i><i style="top:194px;background:linear-gradient(90deg,#000 0px,#4d0000 0px,#630000 3px,#730000 6px,#7a0000 9px,#760000 12px,#670000 15px,#520000 18px,#3c0000 21px,#270000 24px,#180000 27px,#0d0000 30px,#060000 33px,#030000 36px,#000 39px)"></i><i style="top:195px;background:linear-gradient(90deg,#000 0px,#4f0000 0px,#630000 3px,#710000 6px,#750000 9px,#6f0000 12px,#5f0000 15px,#4b0000 18px,#350000 21px,#220000 24px,#140000 27px,#0b0000 30px,#050000 33px,#020000 36px,#000 39px)"></i><i style="top:196px;background:linear-gradient(90deg,#000 0px,#500000 0px,#620000 3px,#6e0000 6px,#700000 9px,#680000 12px,#570000 15px,#430000 18px,#2f0000 21px,#1e0000 24px,#110000 27px,#090000 30px,#040000 33px,#020000 36px,#000 39px)"></i><i style="top:197px;background:linear-gradient(90deg,#000 0px,#500000 0px,#610000 3px,#6a0000 6px,#6a0000 9px,#610000 12px,#500000 15px,#3c0000 18px,#290000 21px,#1a0000 24px,#0f0000 27px,#080000 30px,#040000 33px,#000 36px)"></i><i style="top:198px;background:linear-gradient(90deg,#000 0px,#510000 0px,#5f0000 3px,#670000 6px,#640000 9px,#590000 12px,#490000 15px,#360000 18px,#240000 21px,#160000 24px,#0c0000 27px,#060000 30px,#030000 33px,#000 36px)"></i><i style="top:199px;background:linear-gradient(90deg,#000 0px,#510000 0px,#5d0000 3px,#620000 6px,#5e0000 9px,#530000 12px,#420000 15px,#300000 18px,#1f0000 21px,#130000 24px,#0a0000 27px,#050000 30px,#020000 33px,#000 36px)"></i><i style="top:200px;background:linear-gradient(90deg,#000 0px,#500000 0px,#5b0000 3px,#5e0000 6px,#590000 9px,#4c0000 12px,#3b0000 15px,#2a0000 18px,#1b0000 21px,#100000 24px,#090000 27px,#040000 30px,#020000 33px,#000 36px)"></i><i style="top:201px;background:linear-gradient(90deg,#000 0px,#4f0000 0px,#580000 3px,#590000 6px,#530000 9px,#460000 12px,#350000 15px,#250000 18px,#180000 21px,#0e0000 24px,#070000 27px,#030000 30px,#000 33px)"></i><i style="top:202px;background:linear-gradient(90deg,#000 0px,#4e0000 0px,#550000 3px,#550000 6px,#4d0000 9px,#3f0000 12px,#300000 15px,#210000 18px,#140000 21px,#0c0000 24px,#060000 27px,#030000 30px,#000 33px)"></i><i style="top:203px;background:linear-gradient(90deg,#000 0px,#4c0000 0px,#520000 3px,#500000 6px,#470000 9px,#390000 12px,#2a0000 15px,#1d0000 18px,#120000 21px,#0a0000 24px,#050000 27px,#020000 30px,#000 33px)"></i><i style="top:204px;background:linear-gradient(90deg,#000 0px,#4b0000 0px,#4e0000 3px,#4b0000 6px,#410000 9px,#340000 12px,#260000 15px,#190000 18px,#0f0000 21px,#080000 24px,#040000 27px,#020000 30px,#000 33px)"></i><i style="top:205px;background:linear-gradient(90deg,#000 0px,#480000 0px,#4a0000 3px,#460000 6px,#3c0000 9px,#2f0000 12px,#210000 15px,#160000 18px,#0d0000 21px,#070000 24px,#030000 27px,#000 30px)"></i><i style="top:206px;background:linear-gradient(90deg,#000 0px,#460000 0px,#470000 3px,#410000 6px,#370000 9px,#2a0000 12px,#1d0000 15px,#130000 18px,#0b0000 21px,#060000 24px,#030000 27px,#000 30px)"></i><i style="top:207px;background:linear-gradient(90deg,#000 0px,#430000 0px,#430000 3px,#3c0000 6px,#320000 9px,#250000 12px,#1a0000 15px,#100000 18px,#090000 21px,#050000 24px,#020000 27px,#000 30px)"></i><i style="top:208px;background:linear-gradient(90deg,#000 0px,#400000 0px,#3f0000 3px,#380000 6px,#2d0000 9px,#210000 12px,#160000 15px,#0e0000 18px,#080000 21px,#040000 24px,#020000 27px,#000 30px)"></i><i style="top:209px;background:linear-gradient(90deg,#000 0px,#3d0000 0px,#3b0000 3px,#330000 6px,#290000 9px,#1d0000 12px,#130000 15px,#0c0000 18px,#070000 21px,#030000 24px,#000 27px)"></i><i style="top:210px;background:linear-gradient(90deg,#000 0px,#3a0000 0px,#370000 3px,#2f0000 6px,#240000 9px,#1a0000 12px,#110000 15px,#0a0000 18px,#050000 21px,#030000 24px,#000 27px)"></i><i style="top:211px;background:linear-gradient(90deg,#000 0px,#370000 0px,#330000 3px,#2a0000 6px,#200000 9px,#170000 12px,#0f0000 15px,#080000 18px,#050000 21px,#020000 24px,#000 27px)"></i><i style="top:212px;background:linear-gradient(90deg,#000 0px,#340000 0px,#2f0000 3px,#260000 6px,#1d0000 9px,#140000 12px,#0c0000 15px,#070000 18px,#040000 21px,#020000 24px,#000 27px)"></i><i style="top:213px;background:linear-gradient(90deg,#000 0px,#300000 0px,#2b0000 3px,#230000 6px,#1a0000 9px,#110000 12px,#0b0000 15px,#060000 18px,#030000 21px,#000 24px)"></i><i style="top:214px;background:linear-gradient(90deg,#000 0px,#2d0000 0px,#270000 3px,#1f0000 6px,#170000 9px,#0f0000 12px,#090000 15px,#050000 18px,#030000 21px,#000 24px)"></i><i style="top:215px;background:linear-gradient(90deg,#000 0px,#2a0000 0px,#240000 3px,#1c0000 6px,#140000 9px,#0d0000 12px,#080000 15px,#040000 18px,#020000 21px,#000 24px)"></i><i style="top:216px;background:linear-gradient(90deg,#000 0px,#270000 0px,#200000 3px,#190000 6px,#110000 9px,#0b0000 12px,#070000 15px,#040000 18px,#020000 21px,#000 24px)"></i><i style="top:217px;background:linear-gradient(90deg,#000 0px,#240000 0px,#1d0000 3px,#160000 6px,#0f0000 9px,#0a0000 12px,#060000 15px,#030000 18px,#000 21px)"></i><i style="top:218px;background:linear-gradient(90deg,#000 0px,#210000 0px,#1a0000 3px,#140000 6px,#0d0000 9px,#080000 12px,#050000 15px,#020000 18px,#000 21px)"></i><i style="top:219px;background:linear-gradient(90deg,#000 0px,#1e0000 0px,#180000 3px,#110000 6px,#0b0000 9px,#070000 12px,#040000 15px,#020000 18px,#000 21px)"></i><i style="top:220px;background:linear-gradient(90deg,#000 0px,#1b0000 0px,#150000 3px,#0f0000 6px,#0a0000 9px,#060000 12px,#030000 15px,#000 18px)"></i><i style="top:221px;background:linear-gradient(90deg,#000 0px,#180000 0px,#130000 3px,#0d0000 6px,#080000 9px,#050000 12px,#030000 15px,#000 18px)"></i><i style="top:222px;background:linear-gradient(90deg,#000 0px,#160000 0px,#110000 3px,#0b0000 6px,#070000 9px,#040000 12px,#020000 15px,#000 18px)"></i><i style="top:223px;background:linear-gradient(90deg,#000 0px,#140000 0px,#0f0000 3px,#0a0000 6px,#060000 9px,#030000 12px,#020000 15px,#000 18px)"></i><i style="top:224px;background:linear-gradient(90deg,#000 0px,#120000 0px,#0d0000 3px,#080000 6px,#050000 9px,#030000 12px,#000 15px)"></i></div><div style="position:absolute;left:630.5px;top:59.5px;width:3.0px;height:194.5px;background:linear-gradient(180deg,#ffffff 0.0%,#ffffe5 2.5%,#ffffcc 5.0%,#ffffb3 7.5%,#ffff99 10.0%,#ffff80 12.5%,#ffff66 15.0%,#ffff4c 17.5%,#ffff33 20.0%,#ffff1a 22.5%,#ffff00 25.0%,#ffee00 27.5%,#ffdd00 30.0%,#ffcc00 32.5%,#ffbb00 35.0%,#ffaa00 37.5%,#ff9900 40.0%,#ff8800 42.5%,#ff7700 45.0%,#ff6600 47.5%,#ff5500 50.0%,#ff4400 52.5%,#ff3300 55.0%,#ff2200 57.5%,#ff1100 60.0%,#ff0000 62.5%,#ee0000 65.0%,#dd0000 67.5%,#cc0000 70.0%,#bb0000 72.5%,#aa0000 75.0%,#990000 77.5%,#880000 80.0%,#770000 82.5%,#660000 85.0%,#550000 87.5%,#440000 90.0%,#330000 92.5%,#220000 95.0%,#110000 97.5%,#000000 100.0%)"></div><div style="position:absolute;left:52px;top:86px;width:6px;height:1px;background:#7a7a7a"></div><div style="position:absolute;left:256px;top:86px;width:3px;height:1px;background:#7a7a7a"></div><div style="position:absolute;left:52px;top:119px;width:6px;height:1px;background:#7a7a7a"></div><div style="position:absolute;left:256px;top:119px;width:3px;height:1px;background:#7a7a7a"></div><div style="position:absolute;left:52px;top:152px;width:6px;height:1px;background:#7a7a7a"></div><div style="position:absolute;left:256px;top:152px;width:3px;height:1px;background:#7a7a7a"></div><div style="position:absolute;left:52px;top:185px;width:6px;height:1px;background:#7a7a7a"></div><div style="position:absolute;left:256px;top:185px;width:3px;height:1px;background:#7a7a7a"></div><div style="position:absolute;left:52px;top:218px;width:6px;height:1px;background:#7a7a7a"></div><div style="position:absolute;left:256px;top:218px;width:3px;height:1px;background:#7a7a7a"></div><div style="position:absolute;left:52px;top:250px;width:6px;height:1px;background:#7a7a7a"></div><div style="position:absolute;left:256px;top:250px;width:3px;height:1px;background:#7a7a7a"></div><div style="position:absolute;left:58px;top:251px;width:1px;height:7px;background:#7a7a7a"></div><div style="position:absolute;left:116px;top:251px;width:1px;height:7px;background:#7a7a7a"></div><div style="position:absolute;left:116px;top:59px;width:1px;height:7px;background:#7a7a7a"></div><div style="position:absolute;left:173px;top:251px;width:1px;height:7px;background:#7a7a7a"></div><div style="position:absolute;left:173px;top:59px;width:1px;height:7px;background:#7a7a7a"></div><div style="position:absolute;left:230px;top:251px;width:1px;height:7px;background:#7a7a7a"></div><div style="position:absolute;left:230px;top:59px;width:1px;height:7px;background:#7a7a7a"></div><div style="position:absolute;left:263px;top:97px;width:3px;height:1px;background:#333"></div><div style="position:absolute;left:263px;top:159px;width:3px;height:1px;background:#333"></div><div style="position:absolute;left:263px;top:218px;width:3px;height:1px;background:#333"></div><div style="position:absolute;left:370px;top:53px;width:5px;height:1px;background:#7a7a7a"></div><div style="position:absolute;left:487px;top:53px;width:5px;height:1px;background:#7a7a7a"></div><div style="position:absolute;left:370px;top:98px;width:5px;height:1px;background:#7a7a7a"></div><div style="position:absolute;left:487px;top:98px;width:5px;height:1px;background:#7a7a7a"></div><div style="position:absolute;left:370px;top:143px;width:5px;height:1px;background:#7a7a7a"></div><div style="position:absolute;left:487px;top:143px;width:5px;height:1px;background:#7a7a7a"></div><div style="position:absolute;left:370px;top:188px;width:5px;height:1px;background:#7a7a7a"></div><div style="position:absolute;left:487px;top:188px;width:5px;height:1px;background:#7a7a7a"></div><div style="position:absolute;left:370px;top:233px;width:5px;height:1px;background:#7a7a7a"></div><div style="position:absolute;left:487px;top:233px;width:5px;height:1px;background:#7a7a7a"></div><div style="position:absolute;left:374px;top:24px;width:1px;height:7px;background:#7a7a7a"></div><div style="position:absolute;left:374px;top:256px;width:1px;height:7px;background:#7a7a7a"></div><div style="position:absolute;left:402px;top:24px;width:1px;height:7px;background:#7a7a7a"></div><div style="position:absolute;left:402px;top:256px;width:1px;height:7px;background:#7a7a7a"></div><div style="position:absolute;left:430px;top:24px;width:1px;height:7px;background:#7a7a7a"></div><div style="position:absolute;left:430px;top:256px;width:1px;height:7px;background:#7a7a7a"></div><div style="position:absolute;left:458px;top:24px;width:1px;height:7px;background:#7a7a7a"></div><div style="position:absolute;left:458px;top:256px;width:1px;height:7px;background:#7a7a7a"></div><div style="position:absolute;left:486px;top:24px;width:1px;height:7px;background:#7a7a7a"></div><div style="position:absolute;left:486px;top:256px;width:1px;height:7px;background:#7a7a7a"></div><div style="position:absolute;left:501px;top:53px;width:5px;height:1px;background:#7a7a7a"></div><div style="position:absolute;left:617px;top:53px;width:5px;height:1px;background:#7a7a7a"></div><div style="position:absolute;left:501px;top:98px;width:5px;height:1px;background:#7a7a7a"></div><div style="position:absolute;left:617px;top:98px;width:5px;height:1px;background:#7a7a7a"></div><div style="position:absolute;left:501px;top:143px;width:5px;height:1px;background:#7a7a7a"></div><div style="position:absolute;left:617px;top:143px;width:5px;height:1px;background:#7a7a7a"></div><div style="position:absolute;left:501px;top:188px;width:5px;height:1px;background:#7a7a7a"></div><div style="position:absolute;left:617px;top:188px;width:5px;height:1px;background:#7a7a7a"></div><div style="position:absolute;left:501px;top:233px;width:5px;height:1px;background:#7a7a7a"></div><div style="position:absolute;left:617px;top:233px;width:5px;height:1px;background:#7a7a7a"></div><div style="position:absolute;left:506px;top:24px;width:1px;height:7px;background:#7a7a7a"></div><div style="position:absolute;left:506px;top:256px;width:1px;height:7px;background:#7a7a7a"></div><div style="position:absolute;left:533px;top:24px;width:1px;height:7px;background:#7a7a7a"></div><div style="position:absolute;left:533px;top:256px;width:1px;height:7px;background:#7a7a7a"></div><div style="position:absolute;left:561px;top:24px;width:1px;height:7px;background:#7a7a7a"></div><div style="position:absolute;left:561px;top:256px;width:1px;height:7px;background:#7a7a7a"></div><div style="position:absolute;left:589px;top:24px;width:1px;height:7px;background:#7a7a7a"></div><div style="position:absolute;left:589px;top:256px;width:1px;height:7px;background:#7a7a7a"></div><div style="position:absolute;left:616px;top:24px;width:1px;height:7px;background:#7a7a7a"></div><div style="position:absolute;left:616px;top:256px;width:1px;height:7px;background:#7a7a7a"></div><div style="position:absolute;left:632px;top:58.75px;width:8.299999999999955px;height:1.5px;background:#1a1a1a"></div><div style="position:absolute;left:633.5px;top:97.95px;width:6.7999999999999545px;height:1.5px;background:#1a1a1a"></div><div style="position:absolute;left:633.5px;top:136.95px;width:6.7999999999999545px;height:1.5px;background:#1a1a1a"></div><div style="position:absolute;left:633.5px;top:175.25px;width:6.7999999999999545px;height:1.5px;background:#1a1a1a"></div><div style="position:absolute;left:633.5px;top:213.95px;width:6.7999999999999545px;height:1.5px;background:#1a1a1a"></div><div style="position:absolute;left:630px;top:253px;width:10.3px;height:1.6px;background:#111"></div><div style="position:absolute;left:632.6px;top:215px;width:1.2px;height:39px;background:#222"></div><div style="position:absolute;left:63px;top:180.8px;width:49px;height:2px;background:repeating-linear-gradient(90deg,#fff 0 2px,transparent 2px 3.8px)"></div><div style="position:absolute;left:112.2px;top:184.5px;width:2px;height:66.5px;background:repeating-linear-gradient(180deg,#fff 0 2px,transparent 2px 3.8px)"></div><div style="position:absolute;left:110.3px;top:178.4px;width:6px;height:6px;border-radius:50%;background:#fff"></div><div style="position:absolute;left:375.6px;top:174px;width:111.39999999999998px;height:2px;background:repeating-linear-gradient(90deg,#fff 0 2px,transparent 2px 3.8px)"></div><div style="position:absolute;left:506.6px;top:174px;width:110.39999999999998px;height:2px;background:repeating-linear-gradient(90deg,#fff 0 2px,transparent 2px 3.8px)"></div><div id="t1" style="position:absolute;left:89.70px;top:-3.10px;font-size:20.20px;line-height:20.20px;color:#000;white-space:nowrap;letter-spacing:0.00px;font-family:'Liberation Sans',sans-serif;">initial energy=0.<span class="o">1</span> eV</div><div id="t2" style="position:absolute;left:100.80px;top:18.20px;font-size:20.20px;line-height:20.20px;color:#000;white-space:nowrap;letter-spacing:0.00px;font-family:'Liberation Sans',sans-serif;">GDD=3.9x<span class="o">1</span>0<span style="font-size:0.6em;position:relative;top:-0.62em">-2</span>ps<span style="font-size:0.6em;position:relative;top:-0.62em">2</span></div><div id="t3" style="position:absolute;left:100.50px;top:38.90px;font-size:20.20px;line-height:20.20px;color:#000;white-space:nowrap;letter-spacing:0.00px;font-family:'Liberation Sans',sans-serif;">TOD=<span class="o">1</span>.<span class="o">1</span>x<span class="o">1</span>0<span style="font-size:0.6em;position:relative;top:-0.62em">-3</span>ps<span style="font-size:0.6em;position:relative;top:-0.62em">3</span></div><div id="x10" style="position:absolute;left:56.90px;top:49.10px;font-size:20.20px;line-height:20.20px;color:#000;white-space:nowrap;letter-spacing:0.00px;font-family:'Liberation Sans',sans-serif;">x<span class="o">1</span>0<span style="font-size:0.6em;position:relative;top:-0.62em">-3</span></div><div id="dE" style="position:absolute;left:267.40px;top:35.33px;font-size:23.00px;line-height:23.00px;color:#000;white-space:nowrap;letter-spacing:0.00px;font-family:'Liberation Serif',serif;"><span style="display:inline-block;transform:scaleX(1.13);transform-origin:0 0">&#916;</span><span style="display:inline-block;margin-left:2.6px">E</span></div><div id="mev" style="position:absolute;left:265.50px;top:57.30px;font-size:20.20px;line-height:20.20px;color:#000;white-space:nowrap;letter-spacing:0.00px;font-family:'Liberation Sans',sans-serif;">(MeV)</div><div id="c55" style="position:absolute;left:267.20px;top:88.10px;font-size:20.20px;line-height:20.20px;color:#000;white-space:nowrap;letter-spacing:0.27px;font-family:'Liberation Sans',sans-serif;">0.55</div><div id="c45" style="position:absolute;left:267.20px;top:148.90px;font-size:20.20px;line-height:20.20px;color:#000;white-space:nowrap;letter-spacing:0.27px;font-family:'Liberation Sans',sans-serif;">0.45</div><div id="c35" style="position:absolute;left:267.20px;top:210.10px;font-size:20.20px;line-height:20.20px;color:#000;white-space:nowrap;letter-spacing:0.27px;font-family:'Liberation Sans',sans-serif;">0.35</div><div id="y25" style="position:absolute;left:21.40px;top:79.70px;font-size:20.20px;line-height:20.20px;color:#000;white-space:nowrap;letter-spacing:0.00px;font-family:'Liberation Sans',sans-serif;">2.5</div><div id="y20" style="position:absolute;left:22.10px;top:111.70px;font-size:20.20px;line-height:20.20px;color:#000;white-space:nowrap;letter-spacing:0.68px;font-family:'Liberation Sans',sans-serif;">2.0</div><div id="y15" style="position:absolute;left:21.80px;top:143.70px;font-size:20.20px;line-height:20.20px;color:#000;white-space:nowrap;letter-spacing:0.00px;font-family:'Liberation Sans',sans-serif;"><span class="o">1</span>.5</div><div id="y10" style="position:absolute;left:22.50px;top:175.70px;font-size:20.20px;line-height:20.20px;color:#000;white-space:nowrap;letter-spacing:0.00px;font-family:'Liberation Sans',sans-serif;"><span class="o">1</span>.0</div><div id="y05" style="position:absolute;left:22.30px;top:207.70px;font-size:20.20px;line-height:20.20px;color:#000;white-space:nowrap;letter-spacing:0.09px;font-family:'Liberation Sans',sans-serif;">0.5</div><div id="y0" style="position:absolute;left:28.10px;top:239.70px;font-size:20.20px;line-height:20.20px;color:#000;white-space:nowrap;letter-spacing:0.00px;font-family:'Liberation Sans',sans-serif;">0</div><div id="x02" style="position:absolute;left:48.60px;top:257.10px;font-size:20.20px;line-height:20.20px;color:#000;white-space:nowrap;letter-spacing:0.30px;font-family:'Liberation Sans',sans-serif;">0.02</div><div id="x04" style="position:absolute;left:98.90px;top:257.10px;font-size:20.20px;line-height:20.20px;color:#000;white-space:nowrap;letter-spacing:-0.42px;font-family:'Liberation Sans',sans-serif;">0.04</div><div id="x06" style="position:absolute;left:155.40px;top:257.10px;font-size:20.20px;line-height:20.20px;color:#000;white-space:nowrap;letter-spacing:0.30px;font-family:'Liberation Sans',sans-serif;">0.06</div><div id="x08" style="position:absolute;left:210.80px;top:257.10px;font-size:20.20px;line-height:20.20px;color:#000;white-space:nowrap;letter-spacing:0.30px;font-family:'Liberation Sans',sans-serif;">0.08</div><div id="gddl" style="position:absolute;left:110.20px;top:276.80px;font-size:20.20px;line-height:20.20px;color:#000;white-space:nowrap;letter-spacing:0.00px;font-family:'Liberation Sans',sans-serif;">GDD (ps<span style="font-size:0.6em;position:relative;top:-0.62em">2</span>)</div><div id="la" style="position:absolute;left:231.90px;top:226.10px;font-size:20.20px;line-height:20.20px;color:#fff;white-space:nowrap;letter-spacing:-0.45px;font-family:'Liberation Sans',sans-serif;">(a)</div><div id="gddt" style="position:absolute;left:411.00px;top:0.30px;font-size:20.20px;line-height:20.20px;color:#000;white-space:nowrap;letter-spacing:0.18px;font-family:'Liberation Sans',sans-serif;">GDD</div><div id="gtt" style="position:absolute;left:516.40px;top:1.60px;font-size:20.20px;line-height:20.20px;color:#000;white-space:nowrap;letter-spacing:0.00px;font-family:'Liberation Sans',sans-serif;">GDD+TOD</div><div id="ext" style="position:absolute;left:628.10px;top:9.90px;font-size:20.20px;line-height:20.20px;color:#000;white-space:nowrap;letter-spacing:0.00px;font-family:'Liberation Sans',sans-serif;">IE(x,t)I</div><div id="au" style="position:absolute;left:633.80px;top:28.00px;font-size:20.20px;line-height:20.20px;color:#000;white-space:nowrap;letter-spacing:0.00px;font-family:'Liberation Sans',sans-serif;">(a.u.)</div><div id="r1" style="position:absolute;left:645.50px;top:51.80px;font-size:20.20px;line-height:20.20px;color:#000;white-space:nowrap;letter-spacing:0.00px;font-family:'Liberation Sans',sans-serif;"><span class="o">1</span></div><div id="r08" style="position:absolute;left:644.30px;top:89.70px;font-size:20.20px;line-height:20.20px;color:#000;white-space:nowrap;letter-spacing:0.41px;font-family:'Liberation Sans',sans-serif;">0.8</div><div id="r06" style="position:absolute;left:645.20px;top:127.70px;font-size:20.20px;line-height:20.20px;color:#000;white-space:nowrap;letter-spacing:0.00px;font-family:'Liberation Sans',sans-serif;">0.6</div><div id="r04" style="position:absolute;left:644.50px;top:165.90px;font-size:20.20px;line-height:20.20px;color:#000;white-space:nowrap;letter-spacing:0.00px;font-family:'Liberation Sans',sans-serif;">0.4</div><div id="r02" style="position:absolute;left:645.20px;top:203.90px;font-size:20.20px;line-height:20.20px;color:#000;white-space:nowrap;letter-spacing:0.00px;font-family:'Liberation Sans',sans-serif;">0.2</div><div id="r0" style="position:absolute;left:645.10px;top:241.40px;font-size:20.20px;line-height:20.20px;color:#000;white-space:nowrap;letter-spacing:0.00px;font-family:'Liberation Sans',sans-serif;">0</div><div id="b200" style="position:absolute;left:334.40px;top:47.00px;font-size:20.20px;line-height:20.20px;color:#000;white-space:nowrap;letter-spacing:0.50px;font-family:'Liberation Sans',sans-serif;">200</div><div id="b100" style="position:absolute;left:329.80px;top:92.10px;font-size:20.20px;line-height:20.20px;color:#000;white-space:nowrap;letter-spacing:0.00px;font-family:'Liberation Sans',sans-serif;"><span class="o">1</span>00</div><div id="b0" style="position:absolute;left:345.90px;top:137.30px;font-size:20.20px;line-height:20.20px;color:#000;white-space:nowrap;letter-spacing:0.00px;font-family:'Liberation Sans',sans-serif;">0</div><div id="bm100" style="position:absolute;left:329.60px;top:182.70px;font-size:20.20px;line-height:20.20px;color:#000;white-space:nowrap;letter-spacing:0.00px;font-family:'Liberation Sans',sans-serif;">-<span class="o">1</span>00</div><div id="bm200" style="position:absolute;left:329.60px;top:227.70px;font-size:20.20px;line-height:20.20px;color:#000;white-space:nowrap;letter-spacing:0.00px;font-family:'Liberation Sans',sans-serif;">-200</div><div id="bt" style="position:absolute;left:420.90px;top:279.90px;font-size:20.20px;line-height:20.20px;color:#000;white-space:nowrap;letter-spacing:-1.03px;font-family:'Liberation Sans',sans-serif;">t (ps)</div><div id="ct" style="position:absolute;left:551.90px;top:279.90px;font-size:20.20px;line-height:20.20px;color:#000;white-space:nowrap;letter-spacing:-1.03px;font-family:'Liberation Sans',sans-serif;">t (ps)</div><div id="lb" style="position:absolute;left:461.10px;top:225.90px;font-size:20.20px;line-height:20.20px;color:#fff;white-space:nowrap;letter-spacing:0.00px;font-family:'Liberation Sans',sans-serif;">(b)</div><div id="lc" style="position:absolute;left:591.10px;top:225.90px;font-size:20.20px;line-height:20.20px;color:#fff;white-space:nowrap;letter-spacing:0.45px;font-family:'Liberation Sans',sans-serif;">(c)</div><div id="bx0" style="position:absolute;left:368.30px;top:263.70px;font-size:20.20px;line-height:20.20px;color:#000;white-space:nowrap;letter-spacing:0.00px;font-family:'Liberation Sans',sans-serif;">-2</div><div id="cx0" style="position:absolute;left:499.80px;top:263.70px;font-size:20.20px;line-height:20.20px;color:#000;white-space:nowrap;letter-spacing:0.00px;font-family:'Liberation Sans',sans-serif;">-2</div><div id="bx1" style="position:absolute;left:393.90px;top:263.70px;font-size:20.20px;line-height:20.20px;color:#000;white-space:nowrap;letter-spacing:0.00px;font-family:'Liberation Sans',sans-serif;">-<span class="o">1</span></div><div id="cx1" style="position:absolute;left:524.90px;top:263.70px;font-size:20.20px;line-height:20.20px;color:#000;white-space:nowrap;letter-spacing:0.00px;font-family:'Liberation Sans',sans-serif;">-<span class="o">1</span></div><div id="bx2" style="position:absolute;left:423.30px;top:263.70px;font-size:20.20px;line-height:20.20px;color:#000;white-space:nowrap;letter-spacing:0.00px;font-family:'Liberation Sans',sans-serif;">0</div><div id="cx2" style="position:absolute;left:554.80px;top:263.70px;font-size:20.20px;line-height:20.20px;color:#000;white-space:nowrap;letter-spacing:0.00px;font-family:'Liberation Sans',sans-serif;">0</div><div id="bx3" style="position:absolute;left:453.50px;top:263.70px;font-size:20.20px;line-height:20.20px;color:#000;white-space:nowrap;letter-spacing:0.00px;font-family:'Liberation Sans',sans-serif;"><span class="o">1</span></div><div id="cx3" style="position:absolute;left:585.00px;top:263.70px;font-size:20.20px;line-height:20.20px;color:#000;white-space:nowrap;letter-spacing:0.00px;font-family:'Liberation Sans',sans-serif;"><span class="o">1</span></div><div id="bx4" style="position:absolute;left:477.20px;top:263.70px;font-size:20.20px;line-height:20.20px;color:#000;white-space:nowrap;letter-spacing:0.00px;font-family:'Liberation Sans',sans-serif;">2</div><div id="cx4" style="position:absolute;left:609.20px;top:263.70px;font-size:20.20px;line-height:20.20px;color:#000;white-space:nowrap;letter-spacing:0.00px;font-family:'Liberation Sans',sans-serif;">2</div><div id="rtod" style="position:absolute;left:0.10px;top:200.70px;font-size:20.20px;line-height:20.20px;white-space:nowrap;transform-origin:0 0;transform:rotate(-90deg);letter-spacing:0.00px;font-family:'Liberation Sans',sans-serif;">TOD (ps<span style="font-size:0.6em;position:relative;top:-0.62em">3</span>)</div><div id="rx" style="position:absolute;left:317.90px;top:173.30px;font-size:20.20px;line-height:20.20px;white-space:nowrap;transform-origin:0 0;transform:rotate(-90deg);letter-spacing:-0.47px;font-family:'Liberation Sans',sans-serif;">x (um)</div></div></body></html>
